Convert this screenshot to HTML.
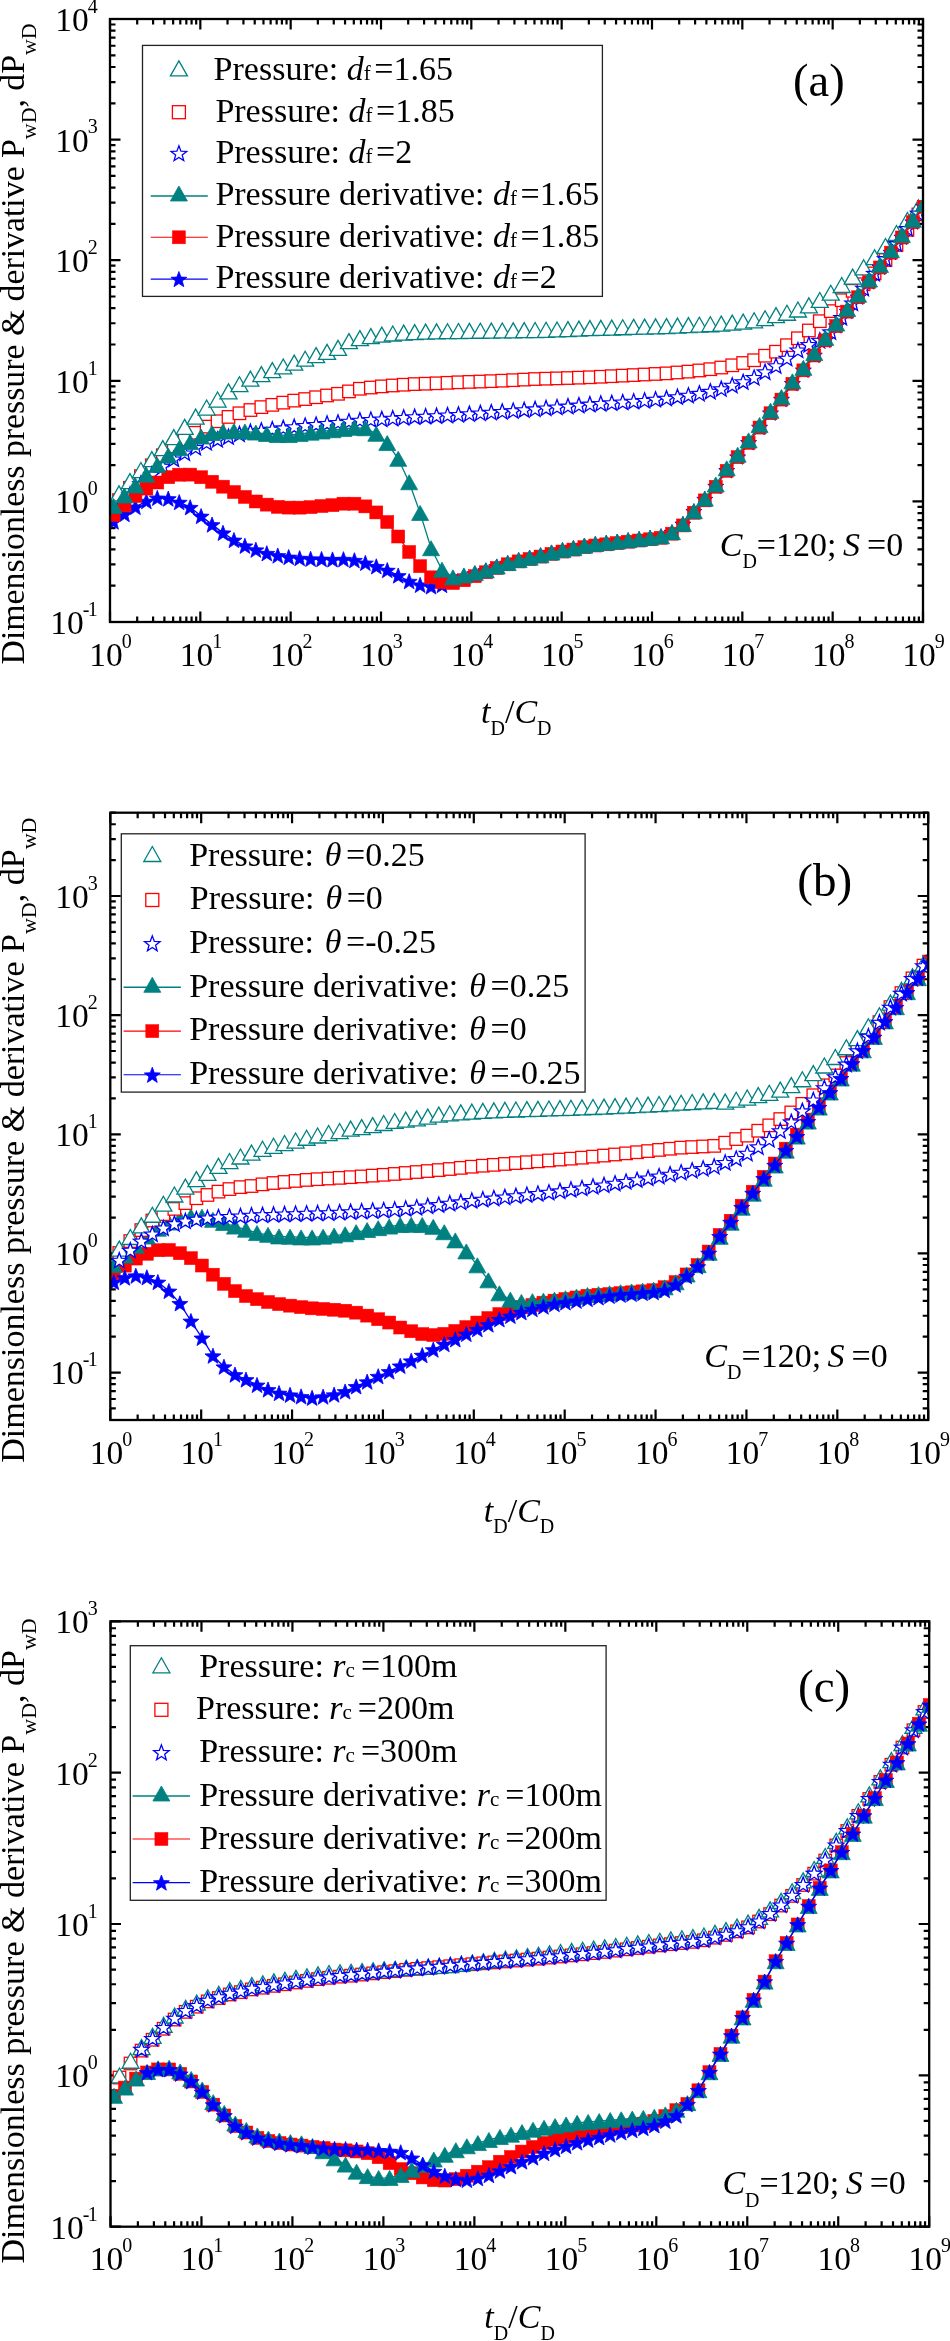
<!DOCTYPE html><html><head><meta charset="utf-8"><style>html,body{margin:0;padding:0;background:#fff;}svg{display:block;will-change:transform}</style></head><body><svg width="950" height="2341" viewBox="0 0 950 2341"><rect width="950" height="2341" fill="#fff"/><defs><clipPath id="ca"><rect x="110" y="19" width="813" height="603"/></clipPath><clipPath id="cb"><rect x="110.3" y="812.7" width="817.9" height="607.3"/></clipPath><clipPath id="cc"><rect x="110.5" y="1621.3" width="818.7" height="605.4"/></clipPath></defs><path d="M110 622v-10.5M110 19v10.5M137.19 622v-5.5M137.19 19v5.5M153.1 622v-5.5M153.1 19v5.5M164.39 622v-5.5M164.39 19v5.5M173.14 622v-5.5M173.14 19v5.5M180.29 622v-5.5M180.29 19v5.5M186.34 622v-5.5M186.34 19v5.5M191.58 622v-5.5M191.58 19v5.5M196.2 622v-5.5M196.2 19v5.5M200.33 622v-10.5M200.33 19v10.5M227.53 622v-5.5M227.53 19v5.5M243.43 622v-5.5M243.43 19v5.5M254.72 622v-5.5M254.72 19v5.5M263.47 622v-5.5M263.47 19v5.5M270.63 622v-5.5M270.63 19v5.5M276.67 622v-5.5M276.67 19v5.5M281.91 622v-5.5M281.91 19v5.5M286.53 622v-5.5M286.53 19v5.5M290.67 622v-10.5M290.67 19v10.5M317.86 622v-5.5M317.86 19v5.5M333.77 622v-5.5M333.77 19v5.5M345.05 622v-5.5M345.05 19v5.5M353.81 622v-5.5M353.81 19v5.5M360.96 622v-5.5M360.96 19v5.5M367.01 622v-5.5M367.01 19v5.5M372.25 622v-5.5M372.25 19v5.5M376.87 622v-5.5M376.87 19v5.5M381 622v-10.5M381 19v10.5M408.19 622v-5.5M408.19 19v5.5M424.1 622v-5.5M424.1 19v5.5M435.39 622v-5.5M435.39 19v5.5M444.14 622v-5.5M444.14 19v5.5M451.29 622v-5.5M451.29 19v5.5M457.34 622v-5.5M457.34 19v5.5M462.58 622v-5.5M462.58 19v5.5M467.2 622v-5.5M467.2 19v5.5M471.33 622v-10.5M471.33 19v10.5M498.53 622v-5.5M498.53 19v5.5M514.43 622v-5.5M514.43 19v5.5M525.72 622v-5.5M525.72 19v5.5M534.47 622v-5.5M534.47 19v5.5M541.63 622v-5.5M541.63 19v5.5M547.67 622v-5.5M547.67 19v5.5M552.91 622v-5.5M552.91 19v5.5M557.53 622v-5.5M557.53 19v5.5M561.67 622v-10.5M561.67 19v10.5M588.86 622v-5.5M588.86 19v5.5M604.77 622v-5.5M604.77 19v5.5M616.05 622v-5.5M616.05 19v5.5M624.81 622v-5.5M624.81 19v5.5M631.96 622v-5.5M631.96 19v5.5M638.01 622v-5.5M638.01 19v5.5M643.25 622v-5.5M643.25 19v5.5M647.87 622v-5.5M647.87 19v5.5M652 622v-10.5M652 19v10.5M679.19 622v-5.5M679.19 19v5.5M695.1 622v-5.5M695.1 19v5.5M706.39 622v-5.5M706.39 19v5.5M715.14 622v-5.5M715.14 19v5.5M722.29 622v-5.5M722.29 19v5.5M728.34 622v-5.5M728.34 19v5.5M733.58 622v-5.5M733.58 19v5.5M738.2 622v-5.5M738.2 19v5.5M742.33 622v-10.5M742.33 19v10.5M769.53 622v-5.5M769.53 19v5.5M785.43 622v-5.5M785.43 19v5.5M796.72 622v-5.5M796.72 19v5.5M805.47 622v-5.5M805.47 19v5.5M812.63 622v-5.5M812.63 19v5.5M818.67 622v-5.5M818.67 19v5.5M823.91 622v-5.5M823.91 19v5.5M828.53 622v-5.5M828.53 19v5.5M832.67 622v-10.5M832.67 19v10.5M859.86 622v-5.5M859.86 19v5.5M875.77 622v-5.5M875.77 19v5.5M887.05 622v-5.5M887.05 19v5.5M895.81 622v-5.5M895.81 19v5.5M902.96 622v-5.5M902.96 19v5.5M909.01 622v-5.5M909.01 19v5.5M914.25 622v-5.5M914.25 19v5.5M918.87 622v-5.5M918.87 19v5.5M923 622v-10.5M923 19v10.5M110 622h10.5M923 622h-10.5M110 585.7h5.5M923 585.7h-5.5M110 564.46h5.5M923 564.46h-5.5M110 549.39h5.5M923 549.39h-5.5M110 537.7h5.5M923 537.7h-5.5M110 528.15h5.5M923 528.15h-5.5M110 520.08h5.5M923 520.08h-5.5M110 513.09h5.5M923 513.09h-5.5M110 506.92h5.5M923 506.92h-5.5M110 501.4h10.5M923 501.4h-10.5M110 465.1h5.5M923 465.1h-5.5M110 443.86h5.5M923 443.86h-5.5M110 428.79h5.5M923 428.79h-5.5M110 417.1h5.5M923 417.1h-5.5M110 407.55h5.5M923 407.55h-5.5M110 399.48h5.5M923 399.48h-5.5M110 392.49h5.5M923 392.49h-5.5M110 386.32h5.5M923 386.32h-5.5M110 380.8h10.5M923 380.8h-10.5M110 344.5h5.5M923 344.5h-5.5M110 323.26h5.5M923 323.26h-5.5M110 308.19h5.5M923 308.19h-5.5M110 296.5h5.5M923 296.5h-5.5M110 286.95h5.5M923 286.95h-5.5M110 278.88h5.5M923 278.88h-5.5M110 271.89h5.5M923 271.89h-5.5M110 265.72h5.5M923 265.72h-5.5M110 260.2h10.5M923 260.2h-10.5M110 223.9h5.5M923 223.9h-5.5M110 202.66h5.5M923 202.66h-5.5M110 187.59h5.5M923 187.59h-5.5M110 175.9h5.5M923 175.9h-5.5M110 166.35h5.5M923 166.35h-5.5M110 158.28h5.5M923 158.28h-5.5M110 151.29h5.5M923 151.29h-5.5M110 145.12h5.5M923 145.12h-5.5M110 139.6h10.5M923 139.6h-10.5M110 103.3h5.5M923 103.3h-5.5M110 82.06h5.5M923 82.06h-5.5M110 66.99h5.5M923 66.99h-5.5M110 55.3h5.5M923 55.3h-5.5M110 45.75h5.5M923 45.75h-5.5M110 37.68h5.5M923 37.68h-5.5M110 30.69h5.5M923 30.69h-5.5M110 24.52h5.5M923 24.52h-5.5M110 19h10.5M923 19h-10.5" stroke="#000" stroke-width="2.2" fill="none"/><path d="M110.3 1420v-10.5M110.3 812.7v10.5M137.66 1420v-5.5M137.66 812.7v5.5M153.66 1420v-5.5M153.66 812.7v5.5M165.01 1420v-5.5M165.01 812.7v5.5M173.82 1420v-5.5M173.82 812.7v5.5M181.02 1420v-5.5M181.02 812.7v5.5M187.1 1420v-5.5M187.1 812.7v5.5M192.37 1420v-5.5M192.37 812.7v5.5M197.02 1420v-5.5M197.02 812.7v5.5M201.18 1420v-10.5M201.18 812.7v10.5M228.53 1420v-5.5M228.53 812.7v5.5M244.54 1420v-5.5M244.54 812.7v5.5M255.89 1420v-5.5M255.89 812.7v5.5M264.7 1420v-5.5M264.7 812.7v5.5M271.89 1420v-5.5M271.89 812.7v5.5M277.98 1420v-5.5M277.98 812.7v5.5M283.25 1420v-5.5M283.25 812.7v5.5M287.9 1420v-5.5M287.9 812.7v5.5M292.06 1420v-10.5M292.06 812.7v10.5M319.41 1420v-5.5M319.41 812.7v5.5M335.42 1420v-5.5M335.42 812.7v5.5M346.77 1420v-5.5M346.77 812.7v5.5M355.58 1420v-5.5M355.58 812.7v5.5M362.77 1420v-5.5M362.77 812.7v5.5M368.86 1420v-5.5M368.86 812.7v5.5M374.13 1420v-5.5M374.13 812.7v5.5M378.77 1420v-5.5M378.77 812.7v5.5M382.93 1420v-10.5M382.93 812.7v10.5M410.29 1420v-5.5M410.29 812.7v5.5M426.29 1420v-5.5M426.29 812.7v5.5M437.65 1420v-5.5M437.65 812.7v5.5M446.45 1420v-5.5M446.45 812.7v5.5M453.65 1420v-5.5M453.65 812.7v5.5M459.73 1420v-5.5M459.73 812.7v5.5M465 1420v-5.5M465 812.7v5.5M469.65 1420v-5.5M469.65 812.7v5.5M473.81 1420v-10.5M473.81 812.7v10.5M501.17 1420v-5.5M501.17 812.7v5.5M517.17 1420v-5.5M517.17 812.7v5.5M528.52 1420v-5.5M528.52 812.7v5.5M537.33 1420v-5.5M537.33 812.7v5.5M544.53 1420v-5.5M544.53 812.7v5.5M550.61 1420v-5.5M550.61 812.7v5.5M555.88 1420v-5.5M555.88 812.7v5.5M560.53 1420v-5.5M560.53 812.7v5.5M564.69 1420v-10.5M564.69 812.7v10.5M592.05 1420v-5.5M592.05 812.7v5.5M608.05 1420v-5.5M608.05 812.7v5.5M619.4 1420v-5.5M619.4 812.7v5.5M628.21 1420v-5.5M628.21 812.7v5.5M635.41 1420v-5.5M635.41 812.7v5.5M641.49 1420v-5.5M641.49 812.7v5.5M646.76 1420v-5.5M646.76 812.7v5.5M651.41 1420v-5.5M651.41 812.7v5.5M655.57 1420v-10.5M655.57 812.7v10.5M682.92 1420v-5.5M682.92 812.7v5.5M698.93 1420v-5.5M698.93 812.7v5.5M710.28 1420v-5.5M710.28 812.7v5.5M719.09 1420v-5.5M719.09 812.7v5.5M726.28 1420v-5.5M726.28 812.7v5.5M732.37 1420v-5.5M732.37 812.7v5.5M737.64 1420v-5.5M737.64 812.7v5.5M742.29 1420v-5.5M742.29 812.7v5.5M746.44 1420v-10.5M746.44 812.7v10.5M773.8 1420v-5.5M773.8 812.7v5.5M789.8 1420v-5.5M789.8 812.7v5.5M801.16 1420v-5.5M801.16 812.7v5.5M809.97 1420v-5.5M809.97 812.7v5.5M817.16 1420v-5.5M817.16 812.7v5.5M823.25 1420v-5.5M823.25 812.7v5.5M828.52 1420v-5.5M828.52 812.7v5.5M833.16 1420v-5.5M833.16 812.7v5.5M837.32 1420v-10.5M837.32 812.7v10.5M864.68 1420v-5.5M864.68 812.7v5.5M880.68 1420v-5.5M880.68 812.7v5.5M892.04 1420v-5.5M892.04 812.7v5.5M900.84 1420v-5.5M900.84 812.7v5.5M908.04 1420v-5.5M908.04 812.7v5.5M914.12 1420v-5.5M914.12 812.7v5.5M919.39 1420v-5.5M919.39 812.7v5.5M924.04 1420v-5.5M924.04 812.7v5.5M928.2 1420v-10.5M928.2 812.7v10.5M110.3 1420h5.5M928.2 1420h-5.5M110.3 1408.45h5.5M928.2 1408.45h-5.5M110.3 1399.02h5.5M928.2 1399.02h-5.5M110.3 1391.04h5.5M928.2 1391.04h-5.5M110.3 1384.13h5.5M928.2 1384.13h-5.5M110.3 1378.04h5.5M928.2 1378.04h-5.5M110.3 1372.59h10.5M928.2 1372.59h-10.5M110.3 1336.72h5.5M928.2 1336.72h-5.5M110.3 1315.74h5.5M928.2 1315.74h-5.5M110.3 1300.85h5.5M928.2 1300.85h-5.5M110.3 1289.3h5.5M928.2 1289.3h-5.5M110.3 1279.87h5.5M928.2 1279.87h-5.5M110.3 1271.89h5.5M928.2 1271.89h-5.5M110.3 1264.98h5.5M928.2 1264.98h-5.5M110.3 1258.89h5.5M928.2 1258.89h-5.5M110.3 1253.43h10.5M928.2 1253.43h-10.5M110.3 1217.57h5.5M928.2 1217.57h-5.5M110.3 1196.59h5.5M928.2 1196.59h-5.5M110.3 1181.7h5.5M928.2 1181.7h-5.5M110.3 1170.15h5.5M928.2 1170.15h-5.5M110.3 1160.72h5.5M928.2 1160.72h-5.5M110.3 1152.74h5.5M928.2 1152.74h-5.5M110.3 1145.83h5.5M928.2 1145.83h-5.5M110.3 1139.74h5.5M928.2 1139.74h-5.5M110.3 1134.28h10.5M928.2 1134.28h-10.5M110.3 1098.42h5.5M928.2 1098.42h-5.5M110.3 1077.43h5.5M928.2 1077.43h-5.5M110.3 1062.55h5.5M928.2 1062.55h-5.5M110.3 1051h5.5M928.2 1051h-5.5M110.3 1041.57h5.5M928.2 1041.57h-5.5M110.3 1033.59h5.5M928.2 1033.59h-5.5M110.3 1026.68h5.5M928.2 1026.68h-5.5M110.3 1020.59h5.5M928.2 1020.59h-5.5M110.3 1015.13h10.5M928.2 1015.13h-10.5M110.3 979.27h5.5M928.2 979.27h-5.5M110.3 958.28h5.5M928.2 958.28h-5.5M110.3 943.4h5.5M928.2 943.4h-5.5M110.3 931.85h5.5M928.2 931.85h-5.5M110.3 922.42h5.5M928.2 922.42h-5.5M110.3 914.44h5.5M928.2 914.44h-5.5M110.3 907.53h5.5M928.2 907.53h-5.5M110.3 901.43h5.5M928.2 901.43h-5.5M110.3 895.98h10.5M928.2 895.98h-10.5M110.3 860.11h5.5M928.2 860.11h-5.5M110.3 839.13h5.5M928.2 839.13h-5.5M110.3 824.25h5.5M928.2 824.25h-5.5M110.3 812.7h5.5M928.2 812.7h-5.5" stroke="#000" stroke-width="2.2" fill="none"/><path d="M110.5 2226.7v-10.5M110.5 1621.3v10.5M137.88 2226.7v-5.5M137.88 1621.3v5.5M153.9 2226.7v-5.5M153.9 1621.3v5.5M165.27 2226.7v-5.5M165.27 1621.3v5.5M174.08 2226.7v-5.5M174.08 1621.3v5.5M181.29 2226.7v-5.5M181.29 1621.3v5.5M187.38 2226.7v-5.5M187.38 1621.3v5.5M192.65 2226.7v-5.5M192.65 1621.3v5.5M197.3 2226.7v-5.5M197.3 1621.3v5.5M201.47 2226.7v-10.5M201.47 1621.3v10.5M228.85 2226.7v-5.5M228.85 1621.3v5.5M244.87 2226.7v-5.5M244.87 1621.3v5.5M256.23 2226.7v-5.5M256.23 1621.3v5.5M265.05 2226.7v-5.5M265.05 1621.3v5.5M272.25 2226.7v-5.5M272.25 1621.3v5.5M278.34 2226.7v-5.5M278.34 1621.3v5.5M283.62 2226.7v-5.5M283.62 1621.3v5.5M288.27 2226.7v-5.5M288.27 1621.3v5.5M292.43 2226.7v-10.5M292.43 1621.3v10.5M319.82 2226.7v-5.5M319.82 1621.3v5.5M335.84 2226.7v-5.5M335.84 1621.3v5.5M347.2 2226.7v-5.5M347.2 1621.3v5.5M356.02 2226.7v-5.5M356.02 1621.3v5.5M363.22 2226.7v-5.5M363.22 1621.3v5.5M369.31 2226.7v-5.5M369.31 1621.3v5.5M374.58 2226.7v-5.5M374.58 1621.3v5.5M379.24 2226.7v-5.5M379.24 1621.3v5.5M383.4 2226.7v-10.5M383.4 1621.3v10.5M410.78 2226.7v-5.5M410.78 1621.3v5.5M426.8 2226.7v-5.5M426.8 1621.3v5.5M438.17 2226.7v-5.5M438.17 1621.3v5.5M446.98 2226.7v-5.5M446.98 1621.3v5.5M454.19 2226.7v-5.5M454.19 1621.3v5.5M460.28 2226.7v-5.5M460.28 1621.3v5.5M465.55 2226.7v-5.5M465.55 1621.3v5.5M470.2 2226.7v-5.5M470.2 1621.3v5.5M474.37 2226.7v-10.5M474.37 1621.3v10.5M501.75 2226.7v-5.5M501.75 1621.3v5.5M517.77 2226.7v-5.5M517.77 1621.3v5.5M529.13 2226.7v-5.5M529.13 1621.3v5.5M537.95 2226.7v-5.5M537.95 1621.3v5.5M545.15 2226.7v-5.5M545.15 1621.3v5.5M551.24 2226.7v-5.5M551.24 1621.3v5.5M556.52 2226.7v-5.5M556.52 1621.3v5.5M561.17 2226.7v-5.5M561.17 1621.3v5.5M565.33 2226.7v-10.5M565.33 1621.3v10.5M592.72 2226.7v-5.5M592.72 1621.3v5.5M608.74 2226.7v-5.5M608.74 1621.3v5.5M620.1 2226.7v-5.5M620.1 1621.3v5.5M628.92 2226.7v-5.5M628.92 1621.3v5.5M636.12 2226.7v-5.5M636.12 1621.3v5.5M642.21 2226.7v-5.5M642.21 1621.3v5.5M647.48 2226.7v-5.5M647.48 1621.3v5.5M652.14 2226.7v-5.5M652.14 1621.3v5.5M656.3 2226.7v-10.5M656.3 1621.3v10.5M683.68 2226.7v-5.5M683.68 1621.3v5.5M699.7 2226.7v-5.5M699.7 1621.3v5.5M711.07 2226.7v-5.5M711.07 1621.3v5.5M719.88 2226.7v-5.5M719.88 1621.3v5.5M727.09 2226.7v-5.5M727.09 1621.3v5.5M733.18 2226.7v-5.5M733.18 1621.3v5.5M738.45 2226.7v-5.5M738.45 1621.3v5.5M743.1 2226.7v-5.5M743.1 1621.3v5.5M747.27 2226.7v-10.5M747.27 1621.3v10.5M774.65 2226.7v-5.5M774.65 1621.3v5.5M790.67 2226.7v-5.5M790.67 1621.3v5.5M802.03 2226.7v-5.5M802.03 1621.3v5.5M810.85 2226.7v-5.5M810.85 1621.3v5.5M818.05 2226.7v-5.5M818.05 1621.3v5.5M824.14 2226.7v-5.5M824.14 1621.3v5.5M829.42 2226.7v-5.5M829.42 1621.3v5.5M834.07 2226.7v-5.5M834.07 1621.3v5.5M838.23 2226.7v-10.5M838.23 1621.3v10.5M865.62 2226.7v-5.5M865.62 1621.3v5.5M881.64 2226.7v-5.5M881.64 1621.3v5.5M893 2226.7v-5.5M893 1621.3v5.5M901.82 2226.7v-5.5M901.82 1621.3v5.5M909.02 2226.7v-5.5M909.02 1621.3v5.5M915.11 2226.7v-5.5M915.11 1621.3v5.5M920.38 2226.7v-5.5M920.38 1621.3v5.5M925.04 2226.7v-5.5M925.04 1621.3v5.5M929.2 2226.7v-10.5M929.2 1621.3v10.5M110.5 2226.7h10.5M929.2 2226.7h-10.5M110.5 2181.14h5.5M929.2 2181.14h-5.5M110.5 2154.49h5.5M929.2 2154.49h-5.5M110.5 2135.58h5.5M929.2 2135.58h-5.5M110.5 2120.91h5.5M929.2 2120.91h-5.5M110.5 2108.93h5.5M929.2 2108.93h-5.5M110.5 2098.79h5.5M929.2 2098.79h-5.5M110.5 2090.02h5.5M929.2 2090.02h-5.5M110.5 2082.28h5.5M929.2 2082.28h-5.5M110.5 2075.35h10.5M929.2 2075.35h-10.5M110.5 2029.79h5.5M929.2 2029.79h-5.5M110.5 2003.14h5.5M929.2 2003.14h-5.5M110.5 1984.23h5.5M929.2 1984.23h-5.5M110.5 1969.56h5.5M929.2 1969.56h-5.5M110.5 1957.58h5.5M929.2 1957.58h-5.5M110.5 1947.44h5.5M929.2 1947.44h-5.5M110.5 1938.67h5.5M929.2 1938.67h-5.5M110.5 1930.93h5.5M929.2 1930.93h-5.5M110.5 1924h10.5M929.2 1924h-10.5M110.5 1878.44h5.5M929.2 1878.44h-5.5M110.5 1851.79h5.5M929.2 1851.79h-5.5M110.5 1832.88h5.5M929.2 1832.88h-5.5M110.5 1818.21h5.5M929.2 1818.21h-5.5M110.5 1806.23h5.5M929.2 1806.23h-5.5M110.5 1796.09h5.5M929.2 1796.09h-5.5M110.5 1787.32h5.5M929.2 1787.32h-5.5M110.5 1779.58h5.5M929.2 1779.58h-5.5M110.5 1772.65h10.5M929.2 1772.65h-10.5M110.5 1727.09h5.5M929.2 1727.09h-5.5M110.5 1700.44h5.5M929.2 1700.44h-5.5M110.5 1681.53h5.5M929.2 1681.53h-5.5M110.5 1666.86h5.5M929.2 1666.86h-5.5M110.5 1654.88h5.5M929.2 1654.88h-5.5M110.5 1644.74h5.5M929.2 1644.74h-5.5M110.5 1635.97h5.5M929.2 1635.97h-5.5M110.5 1628.23h5.5M929.2 1628.23h-5.5M110.5 1621.3h10.5M929.2 1621.3h-10.5" stroke="#000" stroke-width="2.2" fill="none"/><g clip-path="url(#ca)"><rect x="112.75" y="493.87" width="12.5" height="12.5" fill="#fff" stroke="#ff0000" stroke-width="1.3"/><rect x="123.7" y="481.54" width="12.5" height="12.5" fill="#fff" stroke="#ff0000" stroke-width="1.3"/><rect x="134.65" y="469.92" width="12.5" height="12.5" fill="#fff" stroke="#ff0000" stroke-width="1.3"/><rect x="145.6" y="459.01" width="12.5" height="12.5" fill="#fff" stroke="#ff0000" stroke-width="1.3"/><rect x="156.55" y="449.01" width="12.5" height="12.5" fill="#fff" stroke="#ff0000" stroke-width="1.3"/><rect x="167.5" y="440.44" width="12.5" height="12.5" fill="#fff" stroke="#ff0000" stroke-width="1.3"/><rect x="178.45" y="433.08" width="12.5" height="12.5" fill="#fff" stroke="#ff0000" stroke-width="1.3"/><rect x="189.4" y="426.53" width="12.5" height="12.5" fill="#fff" stroke="#ff0000" stroke-width="1.3"/><rect x="200.35" y="420.35" width="12.5" height="12.5" fill="#fff" stroke="#ff0000" stroke-width="1.3"/><rect x="211.3" y="415.02" width="12.5" height="12.5" fill="#fff" stroke="#ff0000" stroke-width="1.3"/><rect x="222.25" y="410.68" width="12.5" height="12.5" fill="#fff" stroke="#ff0000" stroke-width="1.3"/><rect x="233.2" y="407.03" width="12.5" height="12.5" fill="#fff" stroke="#ff0000" stroke-width="1.3"/><rect x="244.15" y="403.79" width="12.5" height="12.5" fill="#fff" stroke="#ff0000" stroke-width="1.3"/><rect x="255.1" y="400.87" width="12.5" height="12.5" fill="#fff" stroke="#ff0000" stroke-width="1.3"/><rect x="266.05" y="398.6" width="12.5" height="12.5" fill="#fff" stroke="#ff0000" stroke-width="1.3"/><rect x="277" y="396.39" width="12.5" height="12.5" fill="#fff" stroke="#ff0000" stroke-width="1.3"/><rect x="287.95" y="394.36" width="12.5" height="12.5" fill="#fff" stroke="#ff0000" stroke-width="1.3"/><rect x="298.9" y="392.82" width="12.5" height="12.5" fill="#fff" stroke="#ff0000" stroke-width="1.3"/><rect x="309.85" y="390.99" width="12.5" height="12.5" fill="#fff" stroke="#ff0000" stroke-width="1.3"/><rect x="320.8" y="389.23" width="12.5" height="12.5" fill="#fff" stroke="#ff0000" stroke-width="1.3"/><rect x="331.75" y="387.54" width="12.5" height="12.5" fill="#fff" stroke="#ff0000" stroke-width="1.3"/><rect x="342.7" y="385.15" width="12.5" height="12.5" fill="#fff" stroke="#ff0000" stroke-width="1.3"/><rect x="353.65" y="382.5" width="12.5" height="12.5" fill="#fff" stroke="#ff0000" stroke-width="1.3"/><rect x="364.6" y="381.28" width="12.5" height="12.5" fill="#fff" stroke="#ff0000" stroke-width="1.3"/><rect x="375.55" y="380.13" width="12.5" height="12.5" fill="#fff" stroke="#ff0000" stroke-width="1.3"/><rect x="386.51" y="379.23" width="12.5" height="12.5" fill="#fff" stroke="#ff0000" stroke-width="1.3"/><rect x="397.46" y="378.47" width="12.5" height="12.5" fill="#fff" stroke="#ff0000" stroke-width="1.3"/><rect x="408.41" y="377.84" width="12.5" height="12.5" fill="#fff" stroke="#ff0000" stroke-width="1.3"/><rect x="419.36" y="377.45" width="12.5" height="12.5" fill="#fff" stroke="#ff0000" stroke-width="1.3"/><rect x="430.31" y="377.06" width="12.5" height="12.5" fill="#fff" stroke="#ff0000" stroke-width="1.3"/><rect x="441.26" y="376.55" width="12.5" height="12.5" fill="#fff" stroke="#ff0000" stroke-width="1.3"/><rect x="452.21" y="376.05" width="12.5" height="12.5" fill="#fff" stroke="#ff0000" stroke-width="1.3"/><rect x="463.16" y="375.66" width="12.5" height="12.5" fill="#fff" stroke="#ff0000" stroke-width="1.3"/><rect x="474.11" y="375.3" width="12.5" height="12.5" fill="#fff" stroke="#ff0000" stroke-width="1.3"/><rect x="485.06" y="374.9" width="12.5" height="12.5" fill="#fff" stroke="#ff0000" stroke-width="1.3"/><rect x="496.01" y="374.42" width="12.5" height="12.5" fill="#fff" stroke="#ff0000" stroke-width="1.3"/><rect x="506.96" y="373.93" width="12.5" height="12.5" fill="#fff" stroke="#ff0000" stroke-width="1.3"/><rect x="517.91" y="373.35" width="12.5" height="12.5" fill="#fff" stroke="#ff0000" stroke-width="1.3"/><rect x="528.86" y="372.78" width="12.5" height="12.5" fill="#fff" stroke="#ff0000" stroke-width="1.3"/><rect x="539.81" y="372.43" width="12.5" height="12.5" fill="#fff" stroke="#ff0000" stroke-width="1.3"/><rect x="550.76" y="372.13" width="12.5" height="12.5" fill="#fff" stroke="#ff0000" stroke-width="1.3"/><rect x="561.71" y="371.8" width="12.5" height="12.5" fill="#fff" stroke="#ff0000" stroke-width="1.3"/><rect x="572.66" y="371.41" width="12.5" height="12.5" fill="#fff" stroke="#ff0000" stroke-width="1.3"/><rect x="583.61" y="371.03" width="12.5" height="12.5" fill="#fff" stroke="#ff0000" stroke-width="1.3"/><rect x="594.56" y="370.49" width="12.5" height="12.5" fill="#fff" stroke="#ff0000" stroke-width="1.3"/><rect x="605.51" y="369.94" width="12.5" height="12.5" fill="#fff" stroke="#ff0000" stroke-width="1.3"/><rect x="616.46" y="369.38" width="12.5" height="12.5" fill="#fff" stroke="#ff0000" stroke-width="1.3"/><rect x="627.41" y="368.83" width="12.5" height="12.5" fill="#fff" stroke="#ff0000" stroke-width="1.3"/><rect x="638.36" y="368.27" width="12.5" height="12.5" fill="#fff" stroke="#ff0000" stroke-width="1.3"/><rect x="649.31" y="367.7" width="12.5" height="12.5" fill="#fff" stroke="#ff0000" stroke-width="1.3"/><rect x="660.26" y="367.12" width="12.5" height="12.5" fill="#fff" stroke="#ff0000" stroke-width="1.3"/><rect x="671.21" y="366.24" width="12.5" height="12.5" fill="#fff" stroke="#ff0000" stroke-width="1.3"/><rect x="682.16" y="365.35" width="12.5" height="12.5" fill="#fff" stroke="#ff0000" stroke-width="1.3"/><rect x="693.11" y="364.2" width="12.5" height="12.5" fill="#fff" stroke="#ff0000" stroke-width="1.3"/><rect x="704.06" y="362.94" width="12.5" height="12.5" fill="#fff" stroke="#ff0000" stroke-width="1.3"/><rect x="715.01" y="361.27" width="12.5" height="12.5" fill="#fff" stroke="#ff0000" stroke-width="1.3"/><rect x="725.96" y="359.04" width="12.5" height="12.5" fill="#fff" stroke="#ff0000" stroke-width="1.3"/><rect x="736.91" y="356.76" width="12.5" height="12.5" fill="#fff" stroke="#ff0000" stroke-width="1.3"/><rect x="747.86" y="353.98" width="12.5" height="12.5" fill="#fff" stroke="#ff0000" stroke-width="1.3"/><rect x="758.81" y="349.47" width="12.5" height="12.5" fill="#fff" stroke="#ff0000" stroke-width="1.3"/><rect x="769.76" y="345.47" width="12.5" height="12.5" fill="#fff" stroke="#ff0000" stroke-width="1.3"/><rect x="780.71" y="338.97" width="12.5" height="12.5" fill="#fff" stroke="#ff0000" stroke-width="1.3"/><rect x="791.66" y="332.02" width="12.5" height="12.5" fill="#fff" stroke="#ff0000" stroke-width="1.3"/><rect x="802.61" y="324.23" width="12.5" height="12.5" fill="#fff" stroke="#ff0000" stroke-width="1.3"/><rect x="813.56" y="314.95" width="12.5" height="12.5" fill="#fff" stroke="#ff0000" stroke-width="1.3"/><rect x="824.51" y="304.88" width="12.5" height="12.5" fill="#fff" stroke="#ff0000" stroke-width="1.3"/><rect x="835.46" y="293.95" width="12.5" height="12.5" fill="#fff" stroke="#ff0000" stroke-width="1.3"/><rect x="846.41" y="284.53" width="12.5" height="12.5" fill="#fff" stroke="#ff0000" stroke-width="1.3"/><rect x="857.36" y="278" width="12.5" height="12.5" fill="#fff" stroke="#ff0000" stroke-width="1.3"/><rect x="868.31" y="267.16" width="12.5" height="12.5" fill="#fff" stroke="#ff0000" stroke-width="1.3"/><rect x="879.26" y="253.78" width="12.5" height="12.5" fill="#fff" stroke="#ff0000" stroke-width="1.3"/><rect x="890.21" y="238.76" width="12.5" height="12.5" fill="#fff" stroke="#ff0000" stroke-width="1.3"/><rect x="901.16" y="223.56" width="12.5" height="12.5" fill="#fff" stroke="#ff0000" stroke-width="1.3"/><rect x="912.12" y="208.2" width="12.5" height="12.5" fill="#fff" stroke="#ff0000" stroke-width="1.3"/><rect x="923.07" y="200.25" width="12.5" height="12.5" fill="#fff" stroke="#ff0000" stroke-width="1.3"/></g><g clip-path="url(#ca)"><path d="M119 485.9L127.5 500.9L110.5 500.9Z" fill="#fff" stroke="#008080" stroke-width="1.3" stroke-linejoin="miter"/><path d="M129.95 473.69L138.45 488.69L121.45 488.69Z" fill="#fff" stroke="#008080" stroke-width="1.3" stroke-linejoin="miter"/><path d="M140.9 462.53L149.4 477.53L132.4 477.53Z" fill="#fff" stroke="#008080" stroke-width="1.3" stroke-linejoin="miter"/><path d="M151.85 451.58L160.35 466.58L143.35 466.58Z" fill="#fff" stroke="#008080" stroke-width="1.3" stroke-linejoin="miter"/><path d="M162.8 440.66L171.3 455.66L154.3 455.66Z" fill="#fff" stroke="#008080" stroke-width="1.3" stroke-linejoin="miter"/><path d="M173.75 429.65L182.25 444.65L165.25 444.65Z" fill="#fff" stroke="#008080" stroke-width="1.3" stroke-linejoin="miter"/><path d="M184.7 419.37L193.2 434.37L176.2 434.37Z" fill="#fff" stroke="#008080" stroke-width="1.3" stroke-linejoin="miter"/><path d="M195.65 409.19L204.15 424.19L187.15 424.19Z" fill="#fff" stroke="#008080" stroke-width="1.3" stroke-linejoin="miter"/><path d="M206.6 400.04L215.1 415.04L198.1 415.04Z" fill="#fff" stroke="#008080" stroke-width="1.3" stroke-linejoin="miter"/><path d="M217.55 392.03L226.05 407.03L209.05 407.03Z" fill="#fff" stroke="#008080" stroke-width="1.3" stroke-linejoin="miter"/><path d="M228.5 383.82L237 398.82L220 398.82Z" fill="#fff" stroke="#008080" stroke-width="1.3" stroke-linejoin="miter"/><path d="M239.45 376.71L247.95 391.71L230.95 391.71Z" fill="#fff" stroke="#008080" stroke-width="1.3" stroke-linejoin="miter"/><path d="M250.4 371.18L258.9 386.18L241.9 386.18Z" fill="#fff" stroke="#008080" stroke-width="1.3" stroke-linejoin="miter"/><path d="M261.35 366.59L269.85 381.59L252.85 381.59Z" fill="#fff" stroke="#008080" stroke-width="1.3" stroke-linejoin="miter"/><path d="M272.3 362.63L280.8 377.63L263.8 377.63Z" fill="#fff" stroke="#008080" stroke-width="1.3" stroke-linejoin="miter"/><path d="M283.25 358.97L291.75 373.97L274.75 373.97Z" fill="#fff" stroke="#008080" stroke-width="1.3" stroke-linejoin="miter"/><path d="M294.2 355.09L302.7 370.09L285.7 370.09Z" fill="#fff" stroke="#008080" stroke-width="1.3" stroke-linejoin="miter"/><path d="M305.15 351.22L313.65 366.22L296.65 366.22Z" fill="#fff" stroke="#008080" stroke-width="1.3" stroke-linejoin="miter"/><path d="M316.1 347.68L324.6 362.68L307.6 362.68Z" fill="#fff" stroke="#008080" stroke-width="1.3" stroke-linejoin="miter"/><path d="M327.05 344.44L335.55 359.44L318.55 359.44Z" fill="#fff" stroke="#008080" stroke-width="1.3" stroke-linejoin="miter"/><path d="M338 340.32L346.5 355.32L329.5 355.32Z" fill="#fff" stroke="#008080" stroke-width="1.3" stroke-linejoin="miter"/><path d="M348.95 333.65L357.45 348.65L340.45 348.65Z" fill="#fff" stroke="#008080" stroke-width="1.3" stroke-linejoin="miter"/><path d="M359.9 330.65L368.4 345.65L351.4 345.65Z" fill="#fff" stroke="#008080" stroke-width="1.3" stroke-linejoin="miter"/><path d="M370.85 328.69L379.35 343.69L362.35 343.69Z" fill="#fff" stroke="#008080" stroke-width="1.3" stroke-linejoin="miter"/><path d="M381.8 327.09L390.3 342.09L373.3 342.09Z" fill="#fff" stroke="#008080" stroke-width="1.3" stroke-linejoin="miter"/><path d="M392.76 326.02L401.26 341.02L384.26 341.02Z" fill="#fff" stroke="#008080" stroke-width="1.3" stroke-linejoin="miter"/><path d="M403.71 325.11L412.21 340.11L395.21 340.11Z" fill="#fff" stroke="#008080" stroke-width="1.3" stroke-linejoin="miter"/><path d="M414.66 324.57L423.16 339.57L406.16 339.57Z" fill="#fff" stroke="#008080" stroke-width="1.3" stroke-linejoin="miter"/><path d="M425.61 324.08L434.11 339.08L417.11 339.08Z" fill="#fff" stroke="#008080" stroke-width="1.3" stroke-linejoin="miter"/><path d="M436.56 323.89L445.06 338.89L428.06 338.89Z" fill="#fff" stroke="#008080" stroke-width="1.3" stroke-linejoin="miter"/><path d="M447.51 323.72L456.01 338.72L439.01 338.72Z" fill="#fff" stroke="#008080" stroke-width="1.3" stroke-linejoin="miter"/><path d="M458.46 323.54L466.96 338.54L449.96 338.54Z" fill="#fff" stroke="#008080" stroke-width="1.3" stroke-linejoin="miter"/><path d="M469.41 323.39L477.91 338.39L460.91 338.39Z" fill="#fff" stroke="#008080" stroke-width="1.3" stroke-linejoin="miter"/><path d="M480.36 323.25L488.86 338.25L471.86 338.25Z" fill="#fff" stroke="#008080" stroke-width="1.3" stroke-linejoin="miter"/><path d="M491.31 323.11L499.81 338.11L482.81 338.11Z" fill="#fff" stroke="#008080" stroke-width="1.3" stroke-linejoin="miter"/><path d="M502.26 322.97L510.76 337.97L493.76 337.97Z" fill="#fff" stroke="#008080" stroke-width="1.3" stroke-linejoin="miter"/><path d="M513.21 322.83L521.71 337.83L504.71 337.83Z" fill="#fff" stroke="#008080" stroke-width="1.3" stroke-linejoin="miter"/><path d="M524.16 322.68L532.66 337.68L515.66 337.68Z" fill="#fff" stroke="#008080" stroke-width="1.3" stroke-linejoin="miter"/><path d="M535.11 322.54L543.61 337.54L526.61 337.54Z" fill="#fff" stroke="#008080" stroke-width="1.3" stroke-linejoin="miter"/><path d="M546.06 322.29L554.56 337.29L537.56 337.29Z" fill="#fff" stroke="#008080" stroke-width="1.3" stroke-linejoin="miter"/><path d="M557.01 321.97L565.51 336.97L548.51 336.97Z" fill="#fff" stroke="#008080" stroke-width="1.3" stroke-linejoin="miter"/><path d="M567.96 321.6L576.46 336.6L559.46 336.6Z" fill="#fff" stroke="#008080" stroke-width="1.3" stroke-linejoin="miter"/><path d="M578.91 321.11L587.41 336.11L570.41 336.11Z" fill="#fff" stroke="#008080" stroke-width="1.3" stroke-linejoin="miter"/><path d="M589.86 320.62L598.36 335.62L581.36 335.62Z" fill="#fff" stroke="#008080" stroke-width="1.3" stroke-linejoin="miter"/><path d="M600.81 320.33L609.31 335.33L592.31 335.33Z" fill="#fff" stroke="#008080" stroke-width="1.3" stroke-linejoin="miter"/><path d="M611.76 320.06L620.26 335.06L603.26 335.06Z" fill="#fff" stroke="#008080" stroke-width="1.3" stroke-linejoin="miter"/><path d="M622.71 319.76L631.21 334.76L614.21 334.76Z" fill="#fff" stroke="#008080" stroke-width="1.3" stroke-linejoin="miter"/><path d="M633.66 319.44L642.16 334.44L625.16 334.44Z" fill="#fff" stroke="#008080" stroke-width="1.3" stroke-linejoin="miter"/><path d="M644.61 319.14L653.11 334.14L636.11 334.14Z" fill="#fff" stroke="#008080" stroke-width="1.3" stroke-linejoin="miter"/><path d="M655.56 318.87L664.06 333.87L647.06 333.87Z" fill="#fff" stroke="#008080" stroke-width="1.3" stroke-linejoin="miter"/><path d="M666.51 318.6L675.01 333.6L658.01 333.6Z" fill="#fff" stroke="#008080" stroke-width="1.3" stroke-linejoin="miter"/><path d="M677.46 318.13L685.96 333.13L668.96 333.13Z" fill="#fff" stroke="#008080" stroke-width="1.3" stroke-linejoin="miter"/><path d="M688.41 317.67L696.91 332.67L679.91 332.67Z" fill="#fff" stroke="#008080" stroke-width="1.3" stroke-linejoin="miter"/><path d="M699.36 317.21L707.86 332.21L690.86 332.21Z" fill="#fff" stroke="#008080" stroke-width="1.3" stroke-linejoin="miter"/><path d="M710.31 316.76L718.81 331.76L701.81 331.76Z" fill="#fff" stroke="#008080" stroke-width="1.3" stroke-linejoin="miter"/><path d="M721.26 316.1L729.76 331.1L712.76 331.1Z" fill="#fff" stroke="#008080" stroke-width="1.3" stroke-linejoin="miter"/><path d="M732.21 315.17L740.71 330.17L723.71 330.17Z" fill="#fff" stroke="#008080" stroke-width="1.3" stroke-linejoin="miter"/><path d="M743.16 314.18L751.66 329.18L734.66 329.18Z" fill="#fff" stroke="#008080" stroke-width="1.3" stroke-linejoin="miter"/><path d="M754.11 312.8L762.61 327.8L745.61 327.8Z" fill="#fff" stroke="#008080" stroke-width="1.3" stroke-linejoin="miter"/><path d="M765.06 310.71L773.56 325.71L756.56 325.71Z" fill="#fff" stroke="#008080" stroke-width="1.3" stroke-linejoin="miter"/><path d="M776.01 307.59L784.51 322.59L767.51 322.59Z" fill="#fff" stroke="#008080" stroke-width="1.3" stroke-linejoin="miter"/><path d="M786.96 305.26L795.46 320.26L778.46 320.26Z" fill="#fff" stroke="#008080" stroke-width="1.3" stroke-linejoin="miter"/><path d="M797.91 302.01L806.41 317.01L789.41 317.01Z" fill="#fff" stroke="#008080" stroke-width="1.3" stroke-linejoin="miter"/><path d="M808.86 297.81L817.36 312.81L800.36 312.81Z" fill="#fff" stroke="#008080" stroke-width="1.3" stroke-linejoin="miter"/><path d="M819.81 292.46L828.31 307.46L811.31 307.46Z" fill="#fff" stroke="#008080" stroke-width="1.3" stroke-linejoin="miter"/><path d="M830.76 285.2L839.26 300.2L822.26 300.2Z" fill="#fff" stroke="#008080" stroke-width="1.3" stroke-linejoin="miter"/><path d="M841.71 277.52L850.21 292.52L833.21 292.52Z" fill="#fff" stroke="#008080" stroke-width="1.3" stroke-linejoin="miter"/><path d="M852.66 269.08L861.16 284.08L844.16 284.08Z" fill="#fff" stroke="#008080" stroke-width="1.3" stroke-linejoin="miter"/><path d="M863.61 259.8L872.11 274.8L855.11 274.8Z" fill="#fff" stroke="#008080" stroke-width="1.3" stroke-linejoin="miter"/><path d="M874.56 249.72L883.06 264.72L866.06 264.72Z" fill="#fff" stroke="#008080" stroke-width="1.3" stroke-linejoin="miter"/><path d="M885.51 238.46L894.01 253.46L877.01 253.46Z" fill="#fff" stroke="#008080" stroke-width="1.3" stroke-linejoin="miter"/><path d="M896.46 225.49L904.96 240.49L887.96 240.49Z" fill="#fff" stroke="#008080" stroke-width="1.3" stroke-linejoin="miter"/><path d="M907.41 212.55L915.91 227.55L898.91 227.55Z" fill="#fff" stroke="#008080" stroke-width="1.3" stroke-linejoin="miter"/><path d="M918.37 199.75L926.87 214.75L909.87 214.75Z" fill="#fff" stroke="#008080" stroke-width="1.3" stroke-linejoin="miter"/><path d="M929.32 190.5L937.82 205.5L920.82 205.5Z" fill="#fff" stroke="#008080" stroke-width="1.3" stroke-linejoin="miter"/></g><g clip-path="url(#ca)"><path d="M119 499.64L121.02 505.05L126.8 505.3L122.28 508.9L123.82 514.47L119 511.28L114.18 514.47L115.72 508.9L111.2 505.3L116.98 505.05Z" fill="#fff" stroke="#0000ff" stroke-width="1.3" stroke-linejoin="miter"/><path d="M129.95 487.08L131.97 492.49L137.75 492.75L133.23 496.35L134.77 501.91L129.95 498.72L125.13 501.91L126.67 496.35L122.15 492.75L127.93 492.49Z" fill="#fff" stroke="#0000ff" stroke-width="1.3" stroke-linejoin="miter"/><path d="M140.9 475.88L142.92 481.29L148.7 481.54L144.18 485.14L145.72 490.71L140.9 487.52L136.08 490.71L137.62 485.14L133.1 481.54L138.88 481.29Z" fill="#fff" stroke="#0000ff" stroke-width="1.3" stroke-linejoin="miter"/><path d="M151.85 466.82L153.87 472.23L159.65 472.49L155.13 476.08L156.67 481.65L151.85 478.46L147.03 481.65L148.58 476.08L144.05 472.49L149.83 472.23Z" fill="#fff" stroke="#0000ff" stroke-width="1.3" stroke-linejoin="miter"/><path d="M162.8 458.58L164.83 464L170.6 464.25L166.08 467.85L167.62 473.42L162.8 470.23L157.98 473.42L159.53 467.85L155 464.25L160.78 464Z" fill="#fff" stroke="#0000ff" stroke-width="1.3" stroke-linejoin="miter"/><path d="M173.75 451.44L175.78 456.85L181.55 457.11L177.03 460.71L178.57 466.27L173.75 463.09L168.93 466.27L170.48 460.71L165.95 457.11L171.73 456.85Z" fill="#fff" stroke="#0000ff" stroke-width="1.3" stroke-linejoin="miter"/><path d="M184.7 445.42L186.73 450.84L192.5 451.09L187.98 454.69L189.52 460.26L184.7 457.07L179.88 460.26L181.43 454.69L176.9 451.09L182.68 450.84Z" fill="#fff" stroke="#0000ff" stroke-width="1.3" stroke-linejoin="miter"/><path d="M195.65 439.86L197.68 445.27L203.45 445.52L198.93 449.12L200.47 454.69L195.65 451.5L190.83 454.69L192.38 449.12L187.85 445.52L193.63 445.27Z" fill="#fff" stroke="#0000ff" stroke-width="1.3" stroke-linejoin="miter"/><path d="M206.6 435.03L208.63 440.45L214.4 440.7L209.88 444.3L211.42 449.87L206.6 446.68L201.78 449.87L203.33 444.3L198.8 440.7L204.58 440.45Z" fill="#fff" stroke="#0000ff" stroke-width="1.3" stroke-linejoin="miter"/><path d="M217.55 431.95L219.58 437.36L225.35 437.61L220.83 441.21L222.37 446.78L217.55 443.59L212.73 446.78L214.28 441.21L209.75 437.61L215.53 437.36Z" fill="#fff" stroke="#0000ff" stroke-width="1.3" stroke-linejoin="miter"/><path d="M228.5 429.23L230.53 434.65L236.3 434.9L231.78 438.5L233.32 444.07L228.5 440.88L223.68 444.07L225.23 438.5L220.7 434.9L226.48 434.65Z" fill="#fff" stroke="#0000ff" stroke-width="1.3" stroke-linejoin="miter"/><path d="M239.45 426.35L241.48 431.76L247.25 432.01L242.73 435.61L244.27 441.18L239.45 437.99L234.63 441.18L236.18 435.61L231.65 432.01L237.43 431.76Z" fill="#fff" stroke="#0000ff" stroke-width="1.3" stroke-linejoin="miter"/><path d="M250.4 424.18L252.43 429.6L258.2 429.85L253.68 433.45L255.22 439.02L250.4 435.83L245.58 439.02L247.13 433.45L242.6 429.85L248.38 429.6Z" fill="#fff" stroke="#0000ff" stroke-width="1.3" stroke-linejoin="miter"/><path d="M261.35 422.89L263.38 428.3L269.15 428.55L264.63 432.15L266.17 437.72L261.35 434.53L256.53 437.72L258.08 432.15L253.55 428.55L259.33 428.3Z" fill="#fff" stroke="#0000ff" stroke-width="1.3" stroke-linejoin="miter"/><path d="M272.3 421.61L274.33 427.03L280.1 427.28L275.58 430.88L277.12 436.45L272.3 433.26L267.48 436.45L269.03 430.88L264.5 427.28L270.28 427.03Z" fill="#fff" stroke="#0000ff" stroke-width="1.3" stroke-linejoin="miter"/><path d="M283.25 420.35L285.28 425.76L291.05 426.01L286.53 429.61L288.07 435.18L283.25 431.99L278.43 435.18L279.98 429.61L275.45 426.01L281.23 425.76Z" fill="#fff" stroke="#0000ff" stroke-width="1.3" stroke-linejoin="miter"/><path d="M294.2 419.22L296.23 424.63L302 424.89L297.48 428.49L299.02 434.06L294.2 430.87L289.38 434.06L290.93 428.49L286.4 424.89L292.18 424.63Z" fill="#fff" stroke="#0000ff" stroke-width="1.3" stroke-linejoin="miter"/><path d="M305.15 418.02L307.18 423.44L312.95 423.69L308.43 427.29L309.97 432.86L305.15 429.67L300.33 432.86L301.88 427.29L297.35 423.69L303.13 423.44Z" fill="#fff" stroke="#0000ff" stroke-width="1.3" stroke-linejoin="miter"/><path d="M316.1 417L318.13 422.41L323.9 422.66L319.38 426.26L320.92 431.83L316.1 428.64L311.28 431.83L312.83 426.26L308.31 422.66L314.08 422.41Z" fill="#fff" stroke="#0000ff" stroke-width="1.3" stroke-linejoin="miter"/><path d="M327.05 415.96L329.08 421.38L334.85 421.63L330.33 425.23L331.87 430.8L327.05 427.61L322.23 430.8L323.78 425.23L319.26 421.63L325.03 421.38Z" fill="#fff" stroke="#0000ff" stroke-width="1.3" stroke-linejoin="miter"/><path d="M338 414.91L340.03 420.32L345.8 420.58L341.28 424.17L342.82 429.74L338 426.55L333.18 429.74L334.73 424.17L330.21 420.58L335.98 420.32Z" fill="#fff" stroke="#0000ff" stroke-width="1.3" stroke-linejoin="miter"/><path d="M348.95 413.77L350.98 419.19L356.75 419.44L352.23 423.04L353.77 428.61L348.95 425.42L344.13 428.61L345.68 423.04L341.16 419.44L346.93 419.19Z" fill="#fff" stroke="#0000ff" stroke-width="1.3" stroke-linejoin="miter"/><path d="M359.9 412.68L361.93 418.1L367.7 418.35L363.18 421.95L364.72 427.52L359.9 424.33L355.08 427.52L356.63 421.95L352.11 418.35L357.88 418.1Z" fill="#fff" stroke="#0000ff" stroke-width="1.3" stroke-linejoin="miter"/><path d="M370.85 412.04L372.88 417.45L378.65 417.7L374.13 421.3L375.67 426.87L370.85 423.68L366.03 426.87L367.58 421.3L363.06 417.7L368.83 417.45Z" fill="#fff" stroke="#0000ff" stroke-width="1.3" stroke-linejoin="miter"/><path d="M381.8 411.41L383.83 416.82L389.6 417.08L385.08 420.68L386.62 426.24L381.8 423.05L376.99 426.24L378.53 420.68L374.01 417.08L379.78 416.82Z" fill="#fff" stroke="#0000ff" stroke-width="1.3" stroke-linejoin="miter"/><path d="M392.76 410.68L394.78 416.1L400.55 416.35L396.03 419.95L397.58 425.52L392.76 422.33L387.94 425.52L389.48 419.95L384.96 416.35L390.73 416.1Z" fill="#fff" stroke="#0000ff" stroke-width="1.3" stroke-linejoin="miter"/><path d="M403.71 409.91L405.73 415.32L411.5 415.57L406.98 419.17L408.53 424.74L403.71 421.55L398.89 424.74L400.43 419.17L395.91 415.57L401.68 415.32Z" fill="#fff" stroke="#0000ff" stroke-width="1.3" stroke-linejoin="miter"/><path d="M414.66 409.22L416.68 414.64L422.45 414.89L417.93 418.49L419.48 424.06L414.66 420.87L409.84 424.06L411.38 418.49L406.86 414.89L412.63 414.64Z" fill="#fff" stroke="#0000ff" stroke-width="1.3" stroke-linejoin="miter"/><path d="M425.61 408.71L427.63 414.13L433.4 414.38L428.88 417.98L430.43 423.55L425.61 420.36L420.79 423.55L422.33 417.98L417.81 414.38L423.58 414.13Z" fill="#fff" stroke="#0000ff" stroke-width="1.3" stroke-linejoin="miter"/><path d="M436.56 408.2L438.58 413.61L444.35 413.86L439.83 417.46L441.38 423.03L436.56 419.84L431.74 423.03L433.28 417.46L428.76 413.86L434.53 413.61Z" fill="#fff" stroke="#0000ff" stroke-width="1.3" stroke-linejoin="miter"/><path d="M447.51 407.55L449.53 412.97L455.3 413.22L450.78 416.82L452.33 422.39L447.51 419.2L442.69 422.39L444.23 416.82L439.71 413.22L445.48 412.97Z" fill="#fff" stroke="#0000ff" stroke-width="1.3" stroke-linejoin="miter"/><path d="M458.46 406.91L460.48 412.33L466.26 412.58L461.73 416.18L463.28 421.75L458.46 418.56L453.64 421.75L455.18 416.18L450.66 412.58L456.43 412.33Z" fill="#fff" stroke="#0000ff" stroke-width="1.3" stroke-linejoin="miter"/><path d="M469.41 406.19L471.43 411.6L477.21 411.85L472.68 415.45L474.23 421.02L469.41 417.83L464.59 421.02L466.13 415.45L461.61 411.85L467.38 411.6Z" fill="#fff" stroke="#0000ff" stroke-width="1.3" stroke-linejoin="miter"/><path d="M480.36 405.43L482.38 410.84L488.16 411.09L483.63 414.69L485.18 420.26L480.36 417.07L475.54 420.26L477.08 414.69L472.56 411.09L478.33 410.84Z" fill="#fff" stroke="#0000ff" stroke-width="1.3" stroke-linejoin="miter"/><path d="M491.31 404.67L493.33 410.08L499.11 410.33L494.58 413.93L496.13 419.5L491.31 416.31L486.49 419.5L488.03 413.93L483.51 410.33L489.28 410.08Z" fill="#fff" stroke="#0000ff" stroke-width="1.3" stroke-linejoin="miter"/><path d="M502.26 403.91L504.28 409.32L510.06 409.57L505.53 413.17L507.08 418.74L502.26 415.55L497.44 418.74L498.98 413.17L494.46 409.57L500.23 409.32Z" fill="#fff" stroke="#0000ff" stroke-width="1.3" stroke-linejoin="miter"/><path d="M513.21 403.13L515.23 408.54L521.01 408.8L516.48 412.39L518.03 417.96L513.21 414.77L508.39 417.96L509.93 412.39L505.41 408.8L511.18 408.54Z" fill="#fff" stroke="#0000ff" stroke-width="1.3" stroke-linejoin="miter"/><path d="M524.16 402.24L526.18 407.66L531.96 407.91L527.43 411.51L528.98 417.08L524.16 413.89L519.34 417.08L520.88 411.51L516.36 407.91L522.13 407.66Z" fill="#fff" stroke="#0000ff" stroke-width="1.3" stroke-linejoin="miter"/><path d="M535.11 401.36L537.13 406.77L542.91 407.02L538.38 410.62L539.93 416.19L535.11 413L530.29 416.19L531.83 410.62L527.31 407.02L533.08 406.77Z" fill="#fff" stroke="#0000ff" stroke-width="1.3" stroke-linejoin="miter"/><path d="M546.06 400.45L548.08 405.86L553.86 406.11L549.33 409.71L550.88 415.28L546.06 412.09L541.24 415.28L542.78 409.71L538.26 406.11L544.03 405.86Z" fill="#fff" stroke="#0000ff" stroke-width="1.3" stroke-linejoin="miter"/><path d="M557.01 399.54L559.03 404.95L564.81 405.2L560.28 408.8L561.83 414.37L557.01 411.18L552.19 414.37L553.73 408.8L549.21 405.2L554.98 404.95Z" fill="#fff" stroke="#0000ff" stroke-width="1.3" stroke-linejoin="miter"/><path d="M567.96 398.58L569.98 404L575.76 404.25L571.23 407.85L572.78 413.42L567.96 410.23L563.14 413.42L564.68 407.85L560.16 404.25L565.93 404Z" fill="#fff" stroke="#0000ff" stroke-width="1.3" stroke-linejoin="miter"/><path d="M578.91 397.59L580.93 403.01L586.71 403.26L582.18 406.86L583.73 412.43L578.91 409.24L574.09 412.43L575.63 406.86L571.11 403.26L576.88 403.01Z" fill="#fff" stroke="#0000ff" stroke-width="1.3" stroke-linejoin="miter"/><path d="M589.86 396.6L591.88 402.02L597.66 402.27L593.13 405.87L594.68 411.44L589.86 408.25L585.04 411.44L586.58 405.87L582.06 402.27L587.83 402.02Z" fill="#fff" stroke="#0000ff" stroke-width="1.3" stroke-linejoin="miter"/><path d="M600.81 395.93L602.83 401.34L608.61 401.59L604.08 405.19L605.63 410.76L600.81 407.57L595.99 410.76L597.53 405.19L593.01 401.59L598.78 401.34Z" fill="#fff" stroke="#0000ff" stroke-width="1.3" stroke-linejoin="miter"/><path d="M611.76 395.26L613.78 400.68L619.56 400.93L615.03 404.53L616.58 410.1L611.76 406.91L606.94 410.1L608.48 404.53L603.96 400.93L609.73 400.68Z" fill="#fff" stroke="#0000ff" stroke-width="1.3" stroke-linejoin="miter"/><path d="M622.71 394.53L624.73 399.95L630.51 400.2L625.98 403.8L627.53 409.37L622.71 406.18L617.89 409.37L619.43 403.8L614.91 400.2L620.69 399.95Z" fill="#fff" stroke="#0000ff" stroke-width="1.3" stroke-linejoin="miter"/><path d="M633.66 393.77L635.68 399.19L641.46 399.44L636.94 403.04L638.48 408.61L633.66 405.42L628.84 408.61L630.38 403.04L625.86 399.44L631.64 399.19Z" fill="#fff" stroke="#0000ff" stroke-width="1.3" stroke-linejoin="miter"/><path d="M644.61 392.89L646.63 398.3L652.41 398.55L647.89 402.15L649.43 407.72L644.61 404.53L639.79 407.72L641.33 402.15L636.81 398.55L642.59 398.3Z" fill="#fff" stroke="#0000ff" stroke-width="1.3" stroke-linejoin="miter"/><path d="M655.56 391.78L657.58 397.19L663.36 397.45L658.84 401.04L660.38 406.61L655.56 403.42L650.74 406.61L652.28 401.04L647.76 397.45L653.54 397.19Z" fill="#fff" stroke="#0000ff" stroke-width="1.3" stroke-linejoin="miter"/><path d="M666.51 390.66L668.53 396.07L674.31 396.32L669.79 399.92L671.33 405.49L666.51 402.3L661.69 405.49L663.23 399.92L658.71 396.32L664.49 396.07Z" fill="#fff" stroke="#0000ff" stroke-width="1.3" stroke-linejoin="miter"/><path d="M677.46 389.2L679.48 394.61L685.26 394.86L680.74 398.46L682.28 404.03L677.46 400.84L672.64 404.03L674.19 398.46L669.66 394.86L675.44 394.61Z" fill="#fff" stroke="#0000ff" stroke-width="1.3" stroke-linejoin="miter"/><path d="M688.41 387.74L690.44 393.15L696.21 393.41L691.69 397L693.23 402.57L688.41 399.38L683.59 402.57L685.14 397L680.61 393.41L686.39 393.15Z" fill="#fff" stroke="#0000ff" stroke-width="1.3" stroke-linejoin="miter"/><path d="M699.36 385.85L701.39 391.27L707.16 391.52L702.64 395.12L704.18 400.69L699.36 397.5L694.54 400.69L696.09 395.12L691.56 391.52L697.34 391.27Z" fill="#fff" stroke="#0000ff" stroke-width="1.3" stroke-linejoin="miter"/><path d="M710.31 383.81L712.34 389.23L718.11 389.48L713.59 393.08L715.13 398.65L710.31 395.46L705.49 398.65L707.04 393.08L702.51 389.48L708.29 389.23Z" fill="#fff" stroke="#0000ff" stroke-width="1.3" stroke-linejoin="miter"/><path d="M721.26 381.18L723.29 386.59L729.06 386.84L724.54 390.44L726.08 396.01L721.26 392.82L716.44 396.01L717.99 390.44L713.46 386.84L719.24 386.59Z" fill="#fff" stroke="#0000ff" stroke-width="1.3" stroke-linejoin="miter"/><path d="M732.21 377.75L734.24 383.16L740.01 383.41L735.49 387.01L737.03 392.58L732.21 389.39L727.39 392.58L728.94 387.01L724.41 383.41L730.19 383.16Z" fill="#fff" stroke="#0000ff" stroke-width="1.3" stroke-linejoin="miter"/><path d="M743.16 374.25L745.19 379.67L750.96 379.92L746.44 383.52L747.98 389.09L743.16 385.9L738.34 389.09L739.89 383.52L735.36 379.92L741.14 379.67Z" fill="#fff" stroke="#0000ff" stroke-width="1.3" stroke-linejoin="miter"/><path d="M754.11 370.02L756.14 375.43L761.91 375.69L757.39 379.29L758.93 384.85L754.11 381.66L749.29 384.85L750.84 379.29L746.31 375.69L752.09 375.43Z" fill="#fff" stroke="#0000ff" stroke-width="1.3" stroke-linejoin="miter"/><path d="M765.06 364.31L767.09 369.73L772.86 369.98L768.34 373.58L769.88 379.15L765.06 375.96L760.24 379.15L761.79 373.58L757.26 369.98L763.04 369.73Z" fill="#fff" stroke="#0000ff" stroke-width="1.3" stroke-linejoin="miter"/><path d="M776.01 358.27L778.04 363.69L783.81 363.94L779.29 367.54L780.83 373.11L776.01 369.92L771.19 373.11L772.74 367.54L768.21 363.94L773.99 363.69Z" fill="#fff" stroke="#0000ff" stroke-width="1.3" stroke-linejoin="miter"/><path d="M786.96 350.77L788.99 356.18L794.76 356.43L790.24 360.03L791.78 365.6L786.96 362.41L782.14 365.6L783.69 360.03L779.16 356.43L784.94 356.18Z" fill="#fff" stroke="#0000ff" stroke-width="1.3" stroke-linejoin="miter"/><path d="M797.91 342.52L799.94 347.93L805.71 348.18L801.19 351.78L802.73 357.35L797.91 354.16L793.09 357.35L794.64 351.78L790.11 348.18L795.89 347.93Z" fill="#fff" stroke="#0000ff" stroke-width="1.3" stroke-linejoin="miter"/><path d="M808.86 337.03L810.89 342.44L816.66 342.7L812.14 346.29L813.68 351.86L808.86 348.67L804.04 351.86L805.59 346.29L801.06 342.7L806.84 342.44Z" fill="#fff" stroke="#0000ff" stroke-width="1.3" stroke-linejoin="miter"/><path d="M819.81 332.81L821.84 338.22L827.61 338.47L823.09 342.07L824.63 347.64L819.81 344.45L814.99 347.64L816.54 342.07L812.01 338.47L817.79 338.22Z" fill="#fff" stroke="#0000ff" stroke-width="1.3" stroke-linejoin="miter"/><path d="M830.76 324.28L832.79 329.7L838.56 329.95L834.04 333.55L835.58 339.12L830.76 335.93L825.94 339.12L827.49 333.55L822.96 329.95L828.74 329.7Z" fill="#fff" stroke="#0000ff" stroke-width="1.3" stroke-linejoin="miter"/><path d="M841.71 309.89L843.74 315.31L849.51 315.56L844.99 319.16L846.53 324.73L841.71 321.54L836.89 324.73L838.44 319.16L833.91 315.56L839.69 315.31Z" fill="#fff" stroke="#0000ff" stroke-width="1.3" stroke-linejoin="miter"/><path d="M852.66 295.5L854.69 300.91L860.46 301.17L855.94 304.76L857.48 310.33L852.66 307.14L847.84 310.33L849.39 304.76L844.87 301.17L850.64 300.91Z" fill="#fff" stroke="#0000ff" stroke-width="1.3" stroke-linejoin="miter"/><path d="M863.61 280.77L865.64 286.18L871.41 286.43L866.89 290.03L868.43 295.6L863.61 292.41L858.79 295.6L860.34 290.03L855.82 286.43L861.59 286.18Z" fill="#fff" stroke="#0000ff" stroke-width="1.3" stroke-linejoin="miter"/><path d="M874.56 265.82L876.59 271.23L882.36 271.49L877.84 275.08L879.38 280.65L874.56 277.46L869.74 280.65L871.29 275.08L866.77 271.49L872.54 271.23Z" fill="#fff" stroke="#0000ff" stroke-width="1.3" stroke-linejoin="miter"/><path d="M885.51 251.11L887.54 256.52L893.31 256.78L888.79 260.37L890.33 265.94L885.51 262.75L880.69 265.94L882.24 260.37L877.72 256.78L883.49 256.52Z" fill="#fff" stroke="#0000ff" stroke-width="1.3" stroke-linejoin="miter"/><path d="M896.46 236.09L898.49 241.51L904.26 241.76L899.74 245.36L901.28 250.93L896.46 247.74L891.64 250.93L893.19 245.36L888.67 241.76L894.44 241.51Z" fill="#fff" stroke="#0000ff" stroke-width="1.3" stroke-linejoin="miter"/><path d="M907.41 220.89L909.44 226.31L915.21 226.56L910.69 230.16L912.23 235.73L907.41 232.54L902.6 235.73L904.14 230.16L899.62 226.56L905.39 226.31Z" fill="#fff" stroke="#0000ff" stroke-width="1.3" stroke-linejoin="miter"/><path d="M918.37 205.53L920.39 210.95L926.16 211.2L921.64 214.8L923.18 220.37L918.37 217.18L913.55 220.37L915.09 214.8L910.57 211.2L916.34 210.95Z" fill="#fff" stroke="#0000ff" stroke-width="1.3" stroke-linejoin="miter"/><path d="M929.32 197.58L931.34 203L937.11 203.25L932.59 206.85L934.14 212.42L929.32 209.23L924.5 212.42L926.04 206.85L921.52 203.25L927.29 203Z" fill="#fff" stroke="#0000ff" stroke-width="1.3" stroke-linejoin="miter"/></g><g clip-path="url(#ca)"><polyline points="113.5,521.68 124.45,514.16 135.4,506.99 146.35,501.22 157.3,497.93 168.25,498.63 179.2,502.16 190.15,507.29 201.1,516.09 212.05,524.62 223,532.87 233.95,540.03 244.9,545.84 255.85,549.78 266.8,553.3 277.75,555.53 288.7,557.05 299.65,558.19 310.6,558.89 321.55,559.07 332.5,559.49 343.45,559.24 354.4,560.29 365.35,562.95 376.3,566.39 387.26,570.16 398.21,575.55 409.16,581.22 420.11,584.94 431.06,586.48 442.01,585.05 452.96,580.09 463.91,576.56 474.86,573.57 485.81,570.45 496.76,566.49 507.71,563.06 518.66,560.11 529.61,557.68 540.56,555.26 551.51,552.5 562.46,550.11 573.41,548.09 584.36,545.64 595.31,544.01 606.26,542.84 617.21,541.6 628.16,540.22 639.11,539.03 650.06,537.79 661.01,536.28 671.96,532.18 682.91,523.95 693.86,511.23 704.81,499.14 715.76,486.05 726.71,470.34 737.66,456.7 748.61,442.38 759.56,427.06 770.51,412.76 781.46,399.1 792.41,383.3 803.36,369.86 814.31,355 825.26,339.92 836.21,325.56 847.16,311.12 858.11,296.78 869.06,281.59 880.01,266.96 890.96,252.15 901.91,236.98 912.87,221.7 923.82,206.26" fill="none" stroke="#0000ff" stroke-width="1.3"/><path d="M113.5 514.08L115.57 519.63L121.49 519.89L116.86 523.57L118.44 529.28L113.5 526.01L108.56 529.28L110.14 523.57L105.51 519.89L111.43 519.63Z" fill="#0000ff" stroke="#0000ff" stroke-width="0.8" stroke-linejoin="miter"/><path d="M124.45 506.56L126.52 512.11L132.44 512.37L127.81 516.05L129.39 521.76L124.45 518.49L119.51 521.76L121.09 516.05L116.46 512.37L122.38 512.11Z" fill="#0000ff" stroke="#0000ff" stroke-width="0.8" stroke-linejoin="miter"/><path d="M135.4 499.4L137.47 504.94L143.39 505.2L138.76 508.89L140.34 514.59L135.4 511.32L130.46 514.59L132.05 508.89L127.41 505.2L133.33 504.94Z" fill="#0000ff" stroke="#0000ff" stroke-width="0.8" stroke-linejoin="miter"/><path d="M146.35 493.62L148.42 499.17L154.34 499.43L149.71 503.12L151.29 508.82L146.35 505.55L141.41 508.82L143 503.12L138.36 499.43L144.28 499.17Z" fill="#0000ff" stroke="#0000ff" stroke-width="0.8" stroke-linejoin="miter"/><path d="M157.3 490.34L159.37 495.88L165.29 496.14L160.66 499.83L162.24 505.53L157.3 502.26L152.36 505.53L153.95 499.83L149.31 496.14L155.23 495.88Z" fill="#0000ff" stroke="#0000ff" stroke-width="0.8" stroke-linejoin="miter"/><path d="M168.25 491.03L170.32 496.58L176.24 496.83L171.61 500.52L173.19 506.23L168.25 502.96L163.31 506.23L164.9 500.52L160.26 496.83L166.18 496.58Z" fill="#0000ff" stroke="#0000ff" stroke-width="0.8" stroke-linejoin="miter"/><path d="M179.2 494.56L181.27 500.11L187.19 500.37L182.56 504.05L184.14 509.76L179.2 506.49L174.26 509.76L175.85 504.05L171.21 500.37L177.13 500.11Z" fill="#0000ff" stroke="#0000ff" stroke-width="0.8" stroke-linejoin="miter"/><path d="M190.15 499.69L192.23 505.24L198.14 505.5L193.51 509.18L195.09 514.89L190.15 511.62L185.21 514.89L186.8 509.18L182.16 505.5L188.08 505.24Z" fill="#0000ff" stroke="#0000ff" stroke-width="0.8" stroke-linejoin="miter"/><path d="M201.1 508.49L203.18 514.04L209.09 514.3L204.46 517.98L206.04 523.69L201.1 520.42L196.16 523.69L197.75 517.98L193.11 514.3L199.03 514.04Z" fill="#0000ff" stroke="#0000ff" stroke-width="0.8" stroke-linejoin="miter"/><path d="M212.05 517.02L214.13 522.56L220.04 522.82L215.41 526.51L216.99 532.21L212.05 528.95L207.11 532.21L208.7 526.51L204.06 522.82L209.98 522.56Z" fill="#0000ff" stroke="#0000ff" stroke-width="0.8" stroke-linejoin="miter"/><path d="M223 525.28L225.08 530.82L230.99 531.08L226.36 534.77L227.94 540.47L223 537.2L218.06 540.47L219.65 534.77L215.01 531.08L220.93 530.82Z" fill="#0000ff" stroke="#0000ff" stroke-width="0.8" stroke-linejoin="miter"/><path d="M233.95 532.43L236.03 537.98L241.94 538.23L237.31 541.92L238.89 547.63L233.95 544.36L229.01 547.63L230.6 541.92L225.96 538.23L231.88 537.98Z" fill="#0000ff" stroke="#0000ff" stroke-width="0.8" stroke-linejoin="miter"/><path d="M244.9 538.24L246.98 543.79L252.89 544.05L248.26 547.73L249.84 553.44L244.9 550.17L239.97 553.44L241.55 547.73L236.91 544.05L242.83 543.79Z" fill="#0000ff" stroke="#0000ff" stroke-width="0.8" stroke-linejoin="miter"/><path d="M255.85 542.18L257.93 547.72L263.84 547.98L259.21 551.67L260.79 557.37L255.85 554.11L250.92 557.37L252.5 551.67L247.86 547.98L253.78 547.72Z" fill="#0000ff" stroke="#0000ff" stroke-width="0.8" stroke-linejoin="miter"/><path d="M266.8 545.7L268.88 551.25L274.79 551.51L270.16 555.19L271.74 560.9L266.8 557.63L261.87 560.9L263.45 555.19L258.81 551.51L264.73 551.25Z" fill="#0000ff" stroke="#0000ff" stroke-width="0.8" stroke-linejoin="miter"/><path d="M277.75 547.94L279.83 553.48L285.74 553.74L281.11 557.43L282.69 563.13L277.75 559.86L272.82 563.13L274.4 557.43L269.76 553.74L275.68 553.48Z" fill="#0000ff" stroke="#0000ff" stroke-width="0.8" stroke-linejoin="miter"/><path d="M288.7 549.45L290.78 554.99L296.69 555.25L292.06 558.94L293.64 564.64L288.7 561.38L283.77 564.64L285.35 558.94L280.71 555.25L286.63 554.99Z" fill="#0000ff" stroke="#0000ff" stroke-width="0.8" stroke-linejoin="miter"/><path d="M299.65 550.59L301.73 556.13L307.64 556.39L303.01 560.08L304.59 565.78L299.65 562.52L294.72 565.78L296.3 560.08L291.66 556.39L297.58 556.13Z" fill="#0000ff" stroke="#0000ff" stroke-width="0.8" stroke-linejoin="miter"/><path d="M310.6 551.29L312.68 556.83L318.59 557.09L313.96 560.78L315.54 566.48L310.6 563.22L305.67 566.48L307.25 560.78L302.61 557.09L308.53 556.83Z" fill="#0000ff" stroke="#0000ff" stroke-width="0.8" stroke-linejoin="miter"/><path d="M321.55 551.47L323.63 557.02L329.54 557.28L324.91 560.96L326.49 566.67L321.55 563.4L316.62 566.67L318.2 560.96L313.57 557.28L319.48 557.02Z" fill="#0000ff" stroke="#0000ff" stroke-width="0.8" stroke-linejoin="miter"/><path d="M332.5 551.89L334.58 557.44L340.49 557.69L335.86 561.38L337.44 567.09L332.5 563.82L327.57 567.09L329.15 561.38L324.52 557.69L330.43 557.44Z" fill="#0000ff" stroke="#0000ff" stroke-width="0.8" stroke-linejoin="miter"/><path d="M343.45 551.64L345.53 557.19L351.44 557.44L346.81 561.13L348.39 566.84L343.45 563.57L338.52 566.84L340.1 561.13L335.47 557.44L341.38 557.19Z" fill="#0000ff" stroke="#0000ff" stroke-width="0.8" stroke-linejoin="miter"/><path d="M354.4 552.69L356.48 558.24L362.39 558.49L357.76 562.18L359.34 567.89L354.4 564.62L349.47 567.89L351.05 562.18L346.42 558.49L352.33 558.24Z" fill="#0000ff" stroke="#0000ff" stroke-width="0.8" stroke-linejoin="miter"/><path d="M365.35 555.35L367.43 560.9L373.34 561.16L368.71 564.84L370.29 570.55L365.35 567.28L360.42 570.55L362 564.84L357.37 561.16L363.28 560.9Z" fill="#0000ff" stroke="#0000ff" stroke-width="0.8" stroke-linejoin="miter"/><path d="M376.3 558.79L378.38 564.34L384.29 564.59L379.66 568.28L381.24 573.99L376.3 570.72L371.37 573.99L372.95 568.28L368.32 564.59L374.23 564.34Z" fill="#0000ff" stroke="#0000ff" stroke-width="0.8" stroke-linejoin="miter"/><path d="M387.26 562.57L389.33 568.11L395.24 568.37L390.61 572.06L392.19 577.76L387.26 574.49L382.32 577.76L383.9 572.06L379.27 568.37L385.18 568.11Z" fill="#0000ff" stroke="#0000ff" stroke-width="0.8" stroke-linejoin="miter"/><path d="M398.21 567.95L400.28 573.49L406.19 573.75L401.56 577.44L403.14 583.14L398.21 579.88L393.27 583.14L394.85 577.44L390.22 573.75L396.13 573.49Z" fill="#0000ff" stroke="#0000ff" stroke-width="0.8" stroke-linejoin="miter"/><path d="M409.16 573.62L411.23 579.17L417.14 579.43L412.51 583.11L414.09 588.82L409.16 585.55L404.22 588.82L405.8 583.11L401.17 579.43L407.08 579.17Z" fill="#0000ff" stroke="#0000ff" stroke-width="0.8" stroke-linejoin="miter"/><path d="M420.11 577.34L422.18 582.88L428.09 583.14L423.46 586.83L425.04 592.53L420.11 589.27L415.17 592.53L416.75 586.83L412.12 583.14L418.03 582.88Z" fill="#0000ff" stroke="#0000ff" stroke-width="0.8" stroke-linejoin="miter"/><path d="M431.06 578.88L433.13 584.43L439.04 584.69L434.41 588.37L435.99 594.08L431.06 590.81L426.12 594.08L427.7 588.37L423.07 584.69L428.98 584.43Z" fill="#0000ff" stroke="#0000ff" stroke-width="0.8" stroke-linejoin="miter"/><path d="M442.01 577.45L444.08 583L450 583.25L445.36 586.94L446.94 592.65L442.01 589.38L437.07 592.65L438.65 586.94L434.02 583.25L439.93 583Z" fill="#0000ff" stroke="#0000ff" stroke-width="0.8" stroke-linejoin="miter"/><path d="M452.96 572.49L455.03 578.04L460.95 578.3L456.31 581.99L457.89 587.69L452.96 584.42L448.02 587.69L449.6 581.99L444.97 578.3L450.88 578.04Z" fill="#0000ff" stroke="#0000ff" stroke-width="0.8" stroke-linejoin="miter"/><path d="M463.91 568.96L465.98 574.51L471.9 574.76L467.26 578.45L468.84 584.16L463.91 580.89L458.97 584.16L460.55 578.45L455.92 574.76L461.83 574.51Z" fill="#0000ff" stroke="#0000ff" stroke-width="0.8" stroke-linejoin="miter"/><path d="M474.86 565.97L476.93 571.52L482.85 571.78L478.21 575.46L479.79 581.17L474.86 577.9L469.92 581.17L471.5 575.46L466.87 571.78L472.78 571.52Z" fill="#0000ff" stroke="#0000ff" stroke-width="0.8" stroke-linejoin="miter"/><path d="M485.81 562.86L487.88 568.4L493.8 568.66L489.16 572.35L490.74 578.05L485.81 574.78L480.87 578.05L482.45 572.35L477.82 568.66L483.73 568.4Z" fill="#0000ff" stroke="#0000ff" stroke-width="0.8" stroke-linejoin="miter"/><path d="M496.76 558.9L498.83 564.44L504.75 564.7L500.11 568.39L501.69 574.09L496.76 570.82L491.82 574.09L493.4 568.39L488.77 564.7L494.68 564.44Z" fill="#0000ff" stroke="#0000ff" stroke-width="0.8" stroke-linejoin="miter"/><path d="M507.71 555.46L509.78 561L515.7 561.26L511.06 564.95L512.64 570.65L507.71 567.39L502.77 570.65L504.35 564.95L499.72 561.26L505.63 561Z" fill="#0000ff" stroke="#0000ff" stroke-width="0.8" stroke-linejoin="miter"/><path d="M518.66 552.51L520.73 558.06L526.65 558.32L522.01 562L523.6 567.71L518.66 564.44L513.72 567.71L515.3 562L510.67 558.32L516.58 558.06Z" fill="#0000ff" stroke="#0000ff" stroke-width="0.8" stroke-linejoin="miter"/><path d="M529.61 550.08L531.68 555.62L537.6 555.88L532.96 559.57L534.55 565.27L529.61 562.01L524.67 565.27L526.25 559.57L521.62 555.88L527.53 555.62Z" fill="#0000ff" stroke="#0000ff" stroke-width="0.8" stroke-linejoin="miter"/><path d="M540.56 547.67L542.63 553.21L548.55 553.47L543.91 557.16L545.5 562.86L540.56 559.59L535.62 562.86L537.2 557.16L532.57 553.47L538.48 553.21Z" fill="#0000ff" stroke="#0000ff" stroke-width="0.8" stroke-linejoin="miter"/><path d="M551.51 544.9L553.58 550.45L559.5 550.71L554.86 554.39L556.45 560.1L551.51 556.83L546.57 560.1L548.15 554.39L543.52 550.71L549.43 550.45Z" fill="#0000ff" stroke="#0000ff" stroke-width="0.8" stroke-linejoin="miter"/><path d="M562.46 542.52L564.53 548.06L570.45 548.32L565.81 552.01L567.4 557.71L562.46 554.44L557.52 557.71L559.1 552.01L554.47 548.32L560.38 548.06Z" fill="#0000ff" stroke="#0000ff" stroke-width="0.8" stroke-linejoin="miter"/><path d="M573.41 540.49L575.48 546.04L581.4 546.3L576.76 549.98L578.35 555.69L573.41 552.42L568.47 555.69L570.05 549.98L565.42 546.3L571.33 546.04Z" fill="#0000ff" stroke="#0000ff" stroke-width="0.8" stroke-linejoin="miter"/><path d="M584.36 538.04L586.43 543.59L592.35 543.84L587.71 547.53L589.3 553.24L584.36 549.97L579.42 553.24L581 547.53L576.37 543.84L582.29 543.59Z" fill="#0000ff" stroke="#0000ff" stroke-width="0.8" stroke-linejoin="miter"/><path d="M595.31 536.41L597.38 541.96L603.3 542.22L598.66 545.9L600.25 551.61L595.31 548.34L590.37 551.61L591.95 545.9L587.32 542.22L593.24 541.96Z" fill="#0000ff" stroke="#0000ff" stroke-width="0.8" stroke-linejoin="miter"/><path d="M606.26 535.24L608.33 540.78L614.25 541.04L609.61 544.73L611.2 550.43L606.26 547.17L601.32 550.43L602.9 544.73L598.27 541.04L604.19 540.78Z" fill="#0000ff" stroke="#0000ff" stroke-width="0.8" stroke-linejoin="miter"/><path d="M617.21 534L619.28 539.55L625.2 539.81L620.56 543.49L622.15 549.2L617.21 545.93L612.27 549.2L613.85 543.49L609.22 539.81L615.14 539.55Z" fill="#0000ff" stroke="#0000ff" stroke-width="0.8" stroke-linejoin="miter"/><path d="M628.16 532.62L630.23 538.17L636.15 538.42L631.52 542.11L633.1 547.82L628.16 544.55L623.22 547.82L624.8 542.11L620.17 538.42L626.09 538.17Z" fill="#0000ff" stroke="#0000ff" stroke-width="0.8" stroke-linejoin="miter"/><path d="M639.11 531.43L641.18 536.98L647.1 537.24L642.47 540.92L644.05 546.63L639.11 543.36L634.17 546.63L635.75 540.92L631.12 537.24L637.04 536.98Z" fill="#0000ff" stroke="#0000ff" stroke-width="0.8" stroke-linejoin="miter"/><path d="M650.06 530.2L652.13 535.74L658.05 536L653.42 539.69L655 545.39L650.06 542.13L645.12 545.39L646.7 539.69L642.07 536L647.99 535.74Z" fill="#0000ff" stroke="#0000ff" stroke-width="0.8" stroke-linejoin="miter"/><path d="M661.01 528.68L663.08 534.23L669 534.49L664.37 538.17L665.95 543.88L661.01 540.61L656.07 543.88L657.66 538.17L653.02 534.49L658.94 534.23Z" fill="#0000ff" stroke="#0000ff" stroke-width="0.8" stroke-linejoin="miter"/><path d="M671.96 524.58L674.03 530.13L679.95 530.38L675.32 534.07L676.9 539.78L671.96 536.51L667.02 539.78L668.61 534.07L663.97 530.38L669.89 530.13Z" fill="#0000ff" stroke="#0000ff" stroke-width="0.8" stroke-linejoin="miter"/><path d="M682.91 516.35L684.98 521.9L690.9 522.15L686.27 525.84L687.85 531.55L682.91 528.28L677.97 531.55L679.56 525.84L674.92 522.15L680.84 521.9Z" fill="#0000ff" stroke="#0000ff" stroke-width="0.8" stroke-linejoin="miter"/><path d="M693.86 503.64L695.93 509.18L701.85 509.44L697.22 513.13L698.8 518.83L693.86 515.56L688.92 518.83L690.51 513.13L685.87 509.44L691.79 509.18Z" fill="#0000ff" stroke="#0000ff" stroke-width="0.8" stroke-linejoin="miter"/><path d="M704.81 491.54L706.88 497.09L712.8 497.35L708.17 501.03L709.75 506.74L704.81 503.47L699.87 506.74L701.46 501.03L696.82 497.35L702.74 497.09Z" fill="#0000ff" stroke="#0000ff" stroke-width="0.8" stroke-linejoin="miter"/><path d="M715.76 478.46L717.84 484L723.75 484.26L719.12 487.95L720.7 493.65L715.76 490.38L710.82 493.65L712.41 487.95L707.77 484.26L713.69 484Z" fill="#0000ff" stroke="#0000ff" stroke-width="0.8" stroke-linejoin="miter"/><path d="M726.71 462.74L728.79 468.29L734.7 468.55L730.07 472.23L731.65 477.94L726.71 474.67L721.77 477.94L723.36 472.23L718.72 468.55L724.64 468.29Z" fill="#0000ff" stroke="#0000ff" stroke-width="0.8" stroke-linejoin="miter"/><path d="M737.66 449.1L739.74 454.65L745.65 454.91L741.02 458.59L742.6 464.3L737.66 461.03L732.72 464.3L734.31 458.59L729.67 454.91L735.59 454.65Z" fill="#0000ff" stroke="#0000ff" stroke-width="0.8" stroke-linejoin="miter"/><path d="M748.61 434.78L750.69 440.32L756.6 440.58L751.97 444.27L753.55 449.97L748.61 446.71L743.67 449.97L745.26 444.27L740.62 440.58L746.54 440.32Z" fill="#0000ff" stroke="#0000ff" stroke-width="0.8" stroke-linejoin="miter"/><path d="M759.56 419.46L761.64 425.01L767.55 425.27L762.92 428.96L764.5 434.66L759.56 431.39L754.62 434.66L756.21 428.96L751.57 425.27L757.49 425.01Z" fill="#0000ff" stroke="#0000ff" stroke-width="0.8" stroke-linejoin="miter"/><path d="M770.51 405.16L772.59 410.71L778.5 410.97L773.87 414.65L775.45 420.36L770.51 417.09L765.58 420.36L767.16 414.65L762.52 410.97L768.44 410.71Z" fill="#0000ff" stroke="#0000ff" stroke-width="0.8" stroke-linejoin="miter"/><path d="M781.46 391.5L783.54 397.05L789.45 397.31L784.82 400.99L786.4 406.7L781.46 403.43L776.53 406.7L778.11 400.99L773.47 397.31L779.39 397.05Z" fill="#0000ff" stroke="#0000ff" stroke-width="0.8" stroke-linejoin="miter"/><path d="M792.41 375.7L794.49 381.25L800.4 381.51L795.77 385.19L797.35 390.9L792.41 387.63L787.48 390.9L789.06 385.19L784.42 381.51L790.34 381.25Z" fill="#0000ff" stroke="#0000ff" stroke-width="0.8" stroke-linejoin="miter"/><path d="M803.36 362.26L805.44 367.81L811.35 368.07L806.72 371.76L808.3 377.46L803.36 374.19L798.43 377.46L800.01 371.76L795.37 368.07L801.29 367.81Z" fill="#0000ff" stroke="#0000ff" stroke-width="0.8" stroke-linejoin="miter"/><path d="M814.31 347.4L816.39 352.95L822.3 353.21L817.67 356.89L819.25 362.6L814.31 359.33L809.38 362.6L810.96 356.89L806.32 353.21L812.24 352.95Z" fill="#0000ff" stroke="#0000ff" stroke-width="0.8" stroke-linejoin="miter"/><path d="M825.26 332.32L827.34 337.87L833.25 338.13L828.62 341.81L830.2 347.52L825.26 344.25L820.33 347.52L821.91 341.81L817.27 338.13L823.19 337.87Z" fill="#0000ff" stroke="#0000ff" stroke-width="0.8" stroke-linejoin="miter"/><path d="M836.21 317.97L838.29 323.51L844.2 323.77L839.57 327.46L841.15 333.16L836.21 329.89L831.28 333.16L832.86 327.46L828.22 323.77L834.14 323.51Z" fill="#0000ff" stroke="#0000ff" stroke-width="0.8" stroke-linejoin="miter"/><path d="M847.16 303.53L849.24 309.07L855.15 309.33L850.52 313.02L852.1 318.72L847.16 315.45L842.23 318.72L843.81 313.02L839.17 309.33L845.09 309.07Z" fill="#0000ff" stroke="#0000ff" stroke-width="0.8" stroke-linejoin="miter"/><path d="M858.11 289.18L860.19 294.73L866.1 294.98L861.47 298.67L863.05 304.38L858.11 301.11L853.18 304.38L854.76 298.67L850.13 294.98L856.04 294.73Z" fill="#0000ff" stroke="#0000ff" stroke-width="0.8" stroke-linejoin="miter"/><path d="M869.06 273.99L871.14 279.54L877.05 279.8L872.42 283.48L874 289.19L869.06 285.92L864.13 289.19L865.71 283.48L861.08 279.8L866.99 279.54Z" fill="#0000ff" stroke="#0000ff" stroke-width="0.8" stroke-linejoin="miter"/><path d="M880.01 259.36L882.09 264.91L888 265.17L883.37 268.85L884.95 274.56L880.01 271.29L875.08 274.56L876.66 268.85L872.03 265.17L877.94 264.91Z" fill="#0000ff" stroke="#0000ff" stroke-width="0.8" stroke-linejoin="miter"/><path d="M890.96 244.56L893.04 250.1L898.95 250.36L894.32 254.05L895.9 259.75L890.96 256.48L886.03 259.75L887.61 254.05L882.98 250.36L888.89 250.1Z" fill="#0000ff" stroke="#0000ff" stroke-width="0.8" stroke-linejoin="miter"/><path d="M901.91 229.38L903.99 234.93L909.9 235.18L905.27 238.87L906.85 244.58L901.91 241.31L896.98 244.58L898.56 238.87L893.93 235.18L899.84 234.93Z" fill="#0000ff" stroke="#0000ff" stroke-width="0.8" stroke-linejoin="miter"/><path d="M912.87 214.11L914.94 219.65L920.85 219.91L916.22 223.6L917.8 229.3L912.87 226.03L907.93 229.3L909.51 223.6L904.88 219.91L910.79 219.65Z" fill="#0000ff" stroke="#0000ff" stroke-width="0.8" stroke-linejoin="miter"/><path d="M923.82 198.66L925.89 204.21L931.8 204.47L927.17 208.15L928.75 213.86L923.82 210.59L918.88 213.86L920.46 208.15L915.83 204.47L921.74 204.21Z" fill="#0000ff" stroke="#0000ff" stroke-width="0.8" stroke-linejoin="miter"/></g><g clip-path="url(#ca)"><polyline points="113.5,515.2 124.45,505.51 135.4,496.03 146.35,488.59 157.3,482.5 168.25,477.18 179.2,474.68 190.15,474.61 201.1,477.23 212.05,481.77 223,486.67 233.95,492.04 244.9,496.95 255.85,501.49 266.8,504.63 277.75,506.88 288.7,507.6 299.65,507.63 310.6,507.12 321.55,506.05 332.5,505.16 343.45,503.67 354.4,503.69 365.35,506.39 376.3,512.44 387.26,522.01 398.21,536.51 409.16,551.97 420.11,566.16 431.06,577.33 442.01,582.27 452.96,583.03 463.91,580.24 474.86,576.18 485.81,572.28 496.76,567.98 507.71,564.31 518.66,561.4 529.61,558.98 540.56,556.57 551.51,553.89 562.46,551.53 573.41,549.57 584.36,547.14 595.31,545.51 606.26,544.34 617.21,543.1 628.16,541.72 639.11,540.53 650.06,539.29 661.01,537.78 671.96,533.68 682.91,525.45 693.86,512.73 704.81,500.4 715.76,486.77 726.71,470.84 737.66,457.2 748.61,442.88 759.56,427.56 770.51,413.26 781.46,399.6 792.41,383.8 803.36,370.36 814.31,355.5 825.26,340.42 836.21,326.06 847.16,311.62 858.11,297.28 869.06,282.09 880.01,267.46 890.96,252.65 901.91,237.48 912.87,222.2 923.82,206.76" fill="none" stroke="#ff0000" stroke-width="1.3"/><rect x="107" y="508.7" width="13" height="13" fill="#ff0000" stroke="#ff0000" stroke-width="0.5"/><rect x="117.95" y="499.01" width="13" height="13" fill="#ff0000" stroke="#ff0000" stroke-width="0.5"/><rect x="128.9" y="489.53" width="13" height="13" fill="#ff0000" stroke="#ff0000" stroke-width="0.5"/><rect x="139.85" y="482.09" width="13" height="13" fill="#ff0000" stroke="#ff0000" stroke-width="0.5"/><rect x="150.8" y="476" width="13" height="13" fill="#ff0000" stroke="#ff0000" stroke-width="0.5"/><rect x="161.75" y="470.68" width="13" height="13" fill="#ff0000" stroke="#ff0000" stroke-width="0.5"/><rect x="172.7" y="468.18" width="13" height="13" fill="#ff0000" stroke="#ff0000" stroke-width="0.5"/><rect x="183.65" y="468.11" width="13" height="13" fill="#ff0000" stroke="#ff0000" stroke-width="0.5"/><rect x="194.6" y="470.73" width="13" height="13" fill="#ff0000" stroke="#ff0000" stroke-width="0.5"/><rect x="205.55" y="475.27" width="13" height="13" fill="#ff0000" stroke="#ff0000" stroke-width="0.5"/><rect x="216.5" y="480.17" width="13" height="13" fill="#ff0000" stroke="#ff0000" stroke-width="0.5"/><rect x="227.45" y="485.54" width="13" height="13" fill="#ff0000" stroke="#ff0000" stroke-width="0.5"/><rect x="238.4" y="490.45" width="13" height="13" fill="#ff0000" stroke="#ff0000" stroke-width="0.5"/><rect x="249.35" y="494.99" width="13" height="13" fill="#ff0000" stroke="#ff0000" stroke-width="0.5"/><rect x="260.3" y="498.13" width="13" height="13" fill="#ff0000" stroke="#ff0000" stroke-width="0.5"/><rect x="271.25" y="500.38" width="13" height="13" fill="#ff0000" stroke="#ff0000" stroke-width="0.5"/><rect x="282.2" y="501.1" width="13" height="13" fill="#ff0000" stroke="#ff0000" stroke-width="0.5"/><rect x="293.15" y="501.13" width="13" height="13" fill="#ff0000" stroke="#ff0000" stroke-width="0.5"/><rect x="304.1" y="500.62" width="13" height="13" fill="#ff0000" stroke="#ff0000" stroke-width="0.5"/><rect x="315.05" y="499.55" width="13" height="13" fill="#ff0000" stroke="#ff0000" stroke-width="0.5"/><rect x="326" y="498.66" width="13" height="13" fill="#ff0000" stroke="#ff0000" stroke-width="0.5"/><rect x="336.95" y="497.17" width="13" height="13" fill="#ff0000" stroke="#ff0000" stroke-width="0.5"/><rect x="347.9" y="497.19" width="13" height="13" fill="#ff0000" stroke="#ff0000" stroke-width="0.5"/><rect x="358.85" y="499.89" width="13" height="13" fill="#ff0000" stroke="#ff0000" stroke-width="0.5"/><rect x="369.8" y="505.94" width="13" height="13" fill="#ff0000" stroke="#ff0000" stroke-width="0.5"/><rect x="380.76" y="515.51" width="13" height="13" fill="#ff0000" stroke="#ff0000" stroke-width="0.5"/><rect x="391.71" y="530.01" width="13" height="13" fill="#ff0000" stroke="#ff0000" stroke-width="0.5"/><rect x="402.66" y="545.47" width="13" height="13" fill="#ff0000" stroke="#ff0000" stroke-width="0.5"/><rect x="413.61" y="559.66" width="13" height="13" fill="#ff0000" stroke="#ff0000" stroke-width="0.5"/><rect x="424.56" y="570.83" width="13" height="13" fill="#ff0000" stroke="#ff0000" stroke-width="0.5"/><rect x="435.51" y="575.77" width="13" height="13" fill="#ff0000" stroke="#ff0000" stroke-width="0.5"/><rect x="446.46" y="576.53" width="13" height="13" fill="#ff0000" stroke="#ff0000" stroke-width="0.5"/><rect x="457.41" y="573.74" width="13" height="13" fill="#ff0000" stroke="#ff0000" stroke-width="0.5"/><rect x="468.36" y="569.68" width="13" height="13" fill="#ff0000" stroke="#ff0000" stroke-width="0.5"/><rect x="479.31" y="565.78" width="13" height="13" fill="#ff0000" stroke="#ff0000" stroke-width="0.5"/><rect x="490.26" y="561.48" width="13" height="13" fill="#ff0000" stroke="#ff0000" stroke-width="0.5"/><rect x="501.21" y="557.81" width="13" height="13" fill="#ff0000" stroke="#ff0000" stroke-width="0.5"/><rect x="512.16" y="554.9" width="13" height="13" fill="#ff0000" stroke="#ff0000" stroke-width="0.5"/><rect x="523.11" y="552.48" width="13" height="13" fill="#ff0000" stroke="#ff0000" stroke-width="0.5"/><rect x="534.06" y="550.07" width="13" height="13" fill="#ff0000" stroke="#ff0000" stroke-width="0.5"/><rect x="545.01" y="547.39" width="13" height="13" fill="#ff0000" stroke="#ff0000" stroke-width="0.5"/><rect x="555.96" y="545.03" width="13" height="13" fill="#ff0000" stroke="#ff0000" stroke-width="0.5"/><rect x="566.91" y="543.07" width="13" height="13" fill="#ff0000" stroke="#ff0000" stroke-width="0.5"/><rect x="577.86" y="540.64" width="13" height="13" fill="#ff0000" stroke="#ff0000" stroke-width="0.5"/><rect x="588.81" y="539.01" width="13" height="13" fill="#ff0000" stroke="#ff0000" stroke-width="0.5"/><rect x="599.76" y="537.84" width="13" height="13" fill="#ff0000" stroke="#ff0000" stroke-width="0.5"/><rect x="610.71" y="536.6" width="13" height="13" fill="#ff0000" stroke="#ff0000" stroke-width="0.5"/><rect x="621.66" y="535.22" width="13" height="13" fill="#ff0000" stroke="#ff0000" stroke-width="0.5"/><rect x="632.61" y="534.03" width="13" height="13" fill="#ff0000" stroke="#ff0000" stroke-width="0.5"/><rect x="643.56" y="532.79" width="13" height="13" fill="#ff0000" stroke="#ff0000" stroke-width="0.5"/><rect x="654.51" y="531.28" width="13" height="13" fill="#ff0000" stroke="#ff0000" stroke-width="0.5"/><rect x="665.46" y="527.18" width="13" height="13" fill="#ff0000" stroke="#ff0000" stroke-width="0.5"/><rect x="676.41" y="518.95" width="13" height="13" fill="#ff0000" stroke="#ff0000" stroke-width="0.5"/><rect x="687.36" y="506.23" width="13" height="13" fill="#ff0000" stroke="#ff0000" stroke-width="0.5"/><rect x="698.31" y="493.9" width="13" height="13" fill="#ff0000" stroke="#ff0000" stroke-width="0.5"/><rect x="709.26" y="480.27" width="13" height="13" fill="#ff0000" stroke="#ff0000" stroke-width="0.5"/><rect x="720.21" y="464.34" width="13" height="13" fill="#ff0000" stroke="#ff0000" stroke-width="0.5"/><rect x="731.16" y="450.7" width="13" height="13" fill="#ff0000" stroke="#ff0000" stroke-width="0.5"/><rect x="742.11" y="436.38" width="13" height="13" fill="#ff0000" stroke="#ff0000" stroke-width="0.5"/><rect x="753.06" y="421.06" width="13" height="13" fill="#ff0000" stroke="#ff0000" stroke-width="0.5"/><rect x="764.01" y="406.76" width="13" height="13" fill="#ff0000" stroke="#ff0000" stroke-width="0.5"/><rect x="774.96" y="393.1" width="13" height="13" fill="#ff0000" stroke="#ff0000" stroke-width="0.5"/><rect x="785.91" y="377.3" width="13" height="13" fill="#ff0000" stroke="#ff0000" stroke-width="0.5"/><rect x="796.86" y="363.86" width="13" height="13" fill="#ff0000" stroke="#ff0000" stroke-width="0.5"/><rect x="807.81" y="349" width="13" height="13" fill="#ff0000" stroke="#ff0000" stroke-width="0.5"/><rect x="818.76" y="333.92" width="13" height="13" fill="#ff0000" stroke="#ff0000" stroke-width="0.5"/><rect x="829.71" y="319.56" width="13" height="13" fill="#ff0000" stroke="#ff0000" stroke-width="0.5"/><rect x="840.66" y="305.12" width="13" height="13" fill="#ff0000" stroke="#ff0000" stroke-width="0.5"/><rect x="851.61" y="290.78" width="13" height="13" fill="#ff0000" stroke="#ff0000" stroke-width="0.5"/><rect x="862.56" y="275.59" width="13" height="13" fill="#ff0000" stroke="#ff0000" stroke-width="0.5"/><rect x="873.51" y="260.96" width="13" height="13" fill="#ff0000" stroke="#ff0000" stroke-width="0.5"/><rect x="884.46" y="246.15" width="13" height="13" fill="#ff0000" stroke="#ff0000" stroke-width="0.5"/><rect x="895.41" y="230.98" width="13" height="13" fill="#ff0000" stroke="#ff0000" stroke-width="0.5"/><rect x="906.37" y="215.7" width="13" height="13" fill="#ff0000" stroke="#ff0000" stroke-width="0.5"/><rect x="917.32" y="200.26" width="13" height="13" fill="#ff0000" stroke="#ff0000" stroke-width="0.5"/></g><g clip-path="url(#ca)"><polyline points="113.5,505.9 124.45,495.4 135.4,485.48 146.35,474.65 157.3,465.05 168.25,455.51 179.2,448.16 190.15,442.06 201.1,436.52 212.05,433.02 223,431.57 233.95,431.02 244.9,431.47 255.85,432.54 266.8,433.91 277.75,435.01 288.7,435.04 299.65,433.88 310.6,432.65 321.55,431.47 332.5,430.24 343.45,428.93 354.4,427.83 365.35,428.23 376.3,433.81 387.26,443.06 398.21,458.82 409.16,482.26 420.11,512.93 431.06,548.23 442.01,569.69 452.96,577.33 463.91,575.47 474.86,572.97 485.81,570.35 496.76,566.49 507.71,563.06 518.66,560.11 529.61,557.68 540.56,555.26 551.51,552.5 562.46,550.11 573.41,548.09 584.36,545.64 595.31,544.01 606.26,542.84 617.21,541.6 628.16,540.22 639.11,539.03 650.06,537.79 661.01,536.28 671.96,532.18 682.91,523.95 693.86,511.23 704.81,498.66 715.76,484.48 726.71,468.34 737.66,454.7 748.61,440.38 759.56,425.06 770.51,410.76 781.46,397.1 792.41,381.3 803.36,367.86 814.31,353 825.26,337.92 836.21,323.56 847.16,309.12 858.11,294.78 869.06,279.59 880.01,264.96 890.96,250.15 901.91,234.98 912.87,219.7 923.82,204.26" fill="none" stroke="#008080" stroke-width="1.3"/><path d="M113.5 498.4L122 513.4L105 513.4Z" fill="#008080" stroke="#008080" stroke-width="0.8" stroke-linejoin="miter"/><path d="M124.45 487.9L132.95 502.9L115.95 502.9Z" fill="#008080" stroke="#008080" stroke-width="0.8" stroke-linejoin="miter"/><path d="M135.4 477.98L143.9 492.98L126.9 492.98Z" fill="#008080" stroke="#008080" stroke-width="0.8" stroke-linejoin="miter"/><path d="M146.35 467.15L154.85 482.15L137.85 482.15Z" fill="#008080" stroke="#008080" stroke-width="0.8" stroke-linejoin="miter"/><path d="M157.3 457.55L165.8 472.55L148.8 472.55Z" fill="#008080" stroke="#008080" stroke-width="0.8" stroke-linejoin="miter"/><path d="M168.25 448.01L176.75 463.01L159.75 463.01Z" fill="#008080" stroke="#008080" stroke-width="0.8" stroke-linejoin="miter"/><path d="M179.2 440.66L187.7 455.66L170.7 455.66Z" fill="#008080" stroke="#008080" stroke-width="0.8" stroke-linejoin="miter"/><path d="M190.15 434.56L198.65 449.56L181.65 449.56Z" fill="#008080" stroke="#008080" stroke-width="0.8" stroke-linejoin="miter"/><path d="M201.1 429.02L209.6 444.02L192.6 444.02Z" fill="#008080" stroke="#008080" stroke-width="0.8" stroke-linejoin="miter"/><path d="M212.05 425.52L220.55 440.52L203.55 440.52Z" fill="#008080" stroke="#008080" stroke-width="0.8" stroke-linejoin="miter"/><path d="M223 424.07L231.5 439.07L214.5 439.07Z" fill="#008080" stroke="#008080" stroke-width="0.8" stroke-linejoin="miter"/><path d="M233.95 423.52L242.45 438.52L225.45 438.52Z" fill="#008080" stroke="#008080" stroke-width="0.8" stroke-linejoin="miter"/><path d="M244.9 423.97L253.4 438.97L236.4 438.97Z" fill="#008080" stroke="#008080" stroke-width="0.8" stroke-linejoin="miter"/><path d="M255.85 425.04L264.35 440.04L247.35 440.04Z" fill="#008080" stroke="#008080" stroke-width="0.8" stroke-linejoin="miter"/><path d="M266.8 426.41L275.3 441.41L258.3 441.41Z" fill="#008080" stroke="#008080" stroke-width="0.8" stroke-linejoin="miter"/><path d="M277.75 427.51L286.25 442.51L269.25 442.51Z" fill="#008080" stroke="#008080" stroke-width="0.8" stroke-linejoin="miter"/><path d="M288.7 427.54L297.2 442.54L280.2 442.54Z" fill="#008080" stroke="#008080" stroke-width="0.8" stroke-linejoin="miter"/><path d="M299.65 426.38L308.15 441.38L291.15 441.38Z" fill="#008080" stroke="#008080" stroke-width="0.8" stroke-linejoin="miter"/><path d="M310.6 425.15L319.1 440.15L302.1 440.15Z" fill="#008080" stroke="#008080" stroke-width="0.8" stroke-linejoin="miter"/><path d="M321.55 423.97L330.05 438.97L313.05 438.97Z" fill="#008080" stroke="#008080" stroke-width="0.8" stroke-linejoin="miter"/><path d="M332.5 422.74L341 437.74L324 437.74Z" fill="#008080" stroke="#008080" stroke-width="0.8" stroke-linejoin="miter"/><path d="M343.45 421.43L351.95 436.43L334.95 436.43Z" fill="#008080" stroke="#008080" stroke-width="0.8" stroke-linejoin="miter"/><path d="M354.4 420.33L362.9 435.33L345.9 435.33Z" fill="#008080" stroke="#008080" stroke-width="0.8" stroke-linejoin="miter"/><path d="M365.35 420.73L373.85 435.73L356.85 435.73Z" fill="#008080" stroke="#008080" stroke-width="0.8" stroke-linejoin="miter"/><path d="M376.3 426.31L384.8 441.31L367.8 441.31Z" fill="#008080" stroke="#008080" stroke-width="0.8" stroke-linejoin="miter"/><path d="M387.26 435.56L395.76 450.56L378.76 450.56Z" fill="#008080" stroke="#008080" stroke-width="0.8" stroke-linejoin="miter"/><path d="M398.21 451.32L406.71 466.32L389.71 466.32Z" fill="#008080" stroke="#008080" stroke-width="0.8" stroke-linejoin="miter"/><path d="M409.16 474.76L417.66 489.76L400.66 489.76Z" fill="#008080" stroke="#008080" stroke-width="0.8" stroke-linejoin="miter"/><path d="M420.11 505.43L428.61 520.43L411.61 520.43Z" fill="#008080" stroke="#008080" stroke-width="0.8" stroke-linejoin="miter"/><path d="M431.06 540.73L439.56 555.73L422.56 555.73Z" fill="#008080" stroke="#008080" stroke-width="0.8" stroke-linejoin="miter"/><path d="M442.01 562.19L450.51 577.19L433.51 577.19Z" fill="#008080" stroke="#008080" stroke-width="0.8" stroke-linejoin="miter"/><path d="M452.96 569.83L461.46 584.83L444.46 584.83Z" fill="#008080" stroke="#008080" stroke-width="0.8" stroke-linejoin="miter"/><path d="M463.91 567.97L472.41 582.97L455.41 582.97Z" fill="#008080" stroke="#008080" stroke-width="0.8" stroke-linejoin="miter"/><path d="M474.86 565.47L483.36 580.47L466.36 580.47Z" fill="#008080" stroke="#008080" stroke-width="0.8" stroke-linejoin="miter"/><path d="M485.81 562.85L494.31 577.85L477.31 577.85Z" fill="#008080" stroke="#008080" stroke-width="0.8" stroke-linejoin="miter"/><path d="M496.76 558.99L505.26 573.99L488.26 573.99Z" fill="#008080" stroke="#008080" stroke-width="0.8" stroke-linejoin="miter"/><path d="M507.71 555.56L516.21 570.56L499.21 570.56Z" fill="#008080" stroke="#008080" stroke-width="0.8" stroke-linejoin="miter"/><path d="M518.66 552.61L527.16 567.61L510.16 567.61Z" fill="#008080" stroke="#008080" stroke-width="0.8" stroke-linejoin="miter"/><path d="M529.61 550.18L538.11 565.18L521.11 565.18Z" fill="#008080" stroke="#008080" stroke-width="0.8" stroke-linejoin="miter"/><path d="M540.56 547.76L549.06 562.76L532.06 562.76Z" fill="#008080" stroke="#008080" stroke-width="0.8" stroke-linejoin="miter"/><path d="M551.51 545L560.01 560L543.01 560Z" fill="#008080" stroke="#008080" stroke-width="0.8" stroke-linejoin="miter"/><path d="M562.46 542.61L570.96 557.61L553.96 557.61Z" fill="#008080" stroke="#008080" stroke-width="0.8" stroke-linejoin="miter"/><path d="M573.41 540.59L581.91 555.59L564.91 555.59Z" fill="#008080" stroke="#008080" stroke-width="0.8" stroke-linejoin="miter"/><path d="M584.36 538.14L592.86 553.14L575.86 553.14Z" fill="#008080" stroke="#008080" stroke-width="0.8" stroke-linejoin="miter"/><path d="M595.31 536.51L603.81 551.51L586.81 551.51Z" fill="#008080" stroke="#008080" stroke-width="0.8" stroke-linejoin="miter"/><path d="M606.26 535.34L614.76 550.34L597.76 550.34Z" fill="#008080" stroke="#008080" stroke-width="0.8" stroke-linejoin="miter"/><path d="M617.21 534.1L625.71 549.1L608.71 549.1Z" fill="#008080" stroke="#008080" stroke-width="0.8" stroke-linejoin="miter"/><path d="M628.16 532.72L636.66 547.72L619.66 547.72Z" fill="#008080" stroke="#008080" stroke-width="0.8" stroke-linejoin="miter"/><path d="M639.11 531.53L647.61 546.53L630.61 546.53Z" fill="#008080" stroke="#008080" stroke-width="0.8" stroke-linejoin="miter"/><path d="M650.06 530.29L658.56 545.29L641.56 545.29Z" fill="#008080" stroke="#008080" stroke-width="0.8" stroke-linejoin="miter"/><path d="M661.01 528.78L669.51 543.78L652.51 543.78Z" fill="#008080" stroke="#008080" stroke-width="0.8" stroke-linejoin="miter"/><path d="M671.96 524.68L680.46 539.68L663.46 539.68Z" fill="#008080" stroke="#008080" stroke-width="0.8" stroke-linejoin="miter"/><path d="M682.91 516.45L691.41 531.45L674.41 531.45Z" fill="#008080" stroke="#008080" stroke-width="0.8" stroke-linejoin="miter"/><path d="M693.86 503.73L702.36 518.73L685.36 518.73Z" fill="#008080" stroke="#008080" stroke-width="0.8" stroke-linejoin="miter"/><path d="M704.81 491.16L713.31 506.16L696.31 506.16Z" fill="#008080" stroke="#008080" stroke-width="0.8" stroke-linejoin="miter"/><path d="M715.76 476.98L724.26 491.98L707.26 491.98Z" fill="#008080" stroke="#008080" stroke-width="0.8" stroke-linejoin="miter"/><path d="M726.71 460.84L735.21 475.84L718.21 475.84Z" fill="#008080" stroke="#008080" stroke-width="0.8" stroke-linejoin="miter"/><path d="M737.66 447.2L746.16 462.2L729.16 462.2Z" fill="#008080" stroke="#008080" stroke-width="0.8" stroke-linejoin="miter"/><path d="M748.61 432.88L757.11 447.88L740.11 447.88Z" fill="#008080" stroke="#008080" stroke-width="0.8" stroke-linejoin="miter"/><path d="M759.56 417.56L768.06 432.56L751.06 432.56Z" fill="#008080" stroke="#008080" stroke-width="0.8" stroke-linejoin="miter"/><path d="M770.51 403.26L779.01 418.26L762.01 418.26Z" fill="#008080" stroke="#008080" stroke-width="0.8" stroke-linejoin="miter"/><path d="M781.46 389.6L789.96 404.6L772.96 404.6Z" fill="#008080" stroke="#008080" stroke-width="0.8" stroke-linejoin="miter"/><path d="M792.41 373.8L800.91 388.8L783.91 388.8Z" fill="#008080" stroke="#008080" stroke-width="0.8" stroke-linejoin="miter"/><path d="M803.36 360.36L811.86 375.36L794.86 375.36Z" fill="#008080" stroke="#008080" stroke-width="0.8" stroke-linejoin="miter"/><path d="M814.31 345.5L822.81 360.5L805.81 360.5Z" fill="#008080" stroke="#008080" stroke-width="0.8" stroke-linejoin="miter"/><path d="M825.26 330.42L833.76 345.42L816.76 345.42Z" fill="#008080" stroke="#008080" stroke-width="0.8" stroke-linejoin="miter"/><path d="M836.21 316.06L844.71 331.06L827.71 331.06Z" fill="#008080" stroke="#008080" stroke-width="0.8" stroke-linejoin="miter"/><path d="M847.16 301.62L855.66 316.62L838.66 316.62Z" fill="#008080" stroke="#008080" stroke-width="0.8" stroke-linejoin="miter"/><path d="M858.11 287.28L866.61 302.28L849.61 302.28Z" fill="#008080" stroke="#008080" stroke-width="0.8" stroke-linejoin="miter"/><path d="M869.06 272.09L877.56 287.09L860.56 287.09Z" fill="#008080" stroke="#008080" stroke-width="0.8" stroke-linejoin="miter"/><path d="M880.01 257.46L888.51 272.46L871.51 272.46Z" fill="#008080" stroke="#008080" stroke-width="0.8" stroke-linejoin="miter"/><path d="M890.96 242.65L899.46 257.65L882.46 257.65Z" fill="#008080" stroke="#008080" stroke-width="0.8" stroke-linejoin="miter"/><path d="M901.91 227.48L910.41 242.48L893.41 242.48Z" fill="#008080" stroke="#008080" stroke-width="0.8" stroke-linejoin="miter"/><path d="M912.87 212.2L921.37 227.2L904.37 227.2Z" fill="#008080" stroke="#008080" stroke-width="0.8" stroke-linejoin="miter"/><path d="M923.82 196.76L932.32 211.76L915.32 211.76Z" fill="#008080" stroke="#008080" stroke-width="0.8" stroke-linejoin="miter"/></g><g clip-path="url(#cb)"><polyline points="113.8,1273 124.82,1265.61 135.83,1258.55 146.85,1253.76 157.86,1250.23 168.88,1249.97 179.9,1253.22 190.91,1258.15 201.93,1265.54 212.95,1274.69 223.96,1283.84 234.98,1291.08 245.99,1296.04 257.01,1299.16 268.03,1302 279.04,1304.08 290.06,1305.65 301.08,1307.11 312.09,1308.33 323.11,1308.96 334.12,1309.74 345.14,1310.72 356.16,1312.65 367.17,1315.62 378.19,1319.2 389.21,1322.55 400.22,1327.53 411.24,1331.24 422.25,1334.05 433.27,1335.03 444.29,1333.86 455.3,1330.96 466.32,1327.09 477.33,1322.54 488.35,1318.04 499.37,1314.08 510.38,1310.88 521.4,1307.37 532.42,1305.05 543.43,1302.69 554.45,1300.66 565.46,1299.06 576.48,1297.49 587.5,1295.82 598.51,1294.79 609.53,1294.03 620.55,1293.09 631.56,1292.32 642.58,1291.35 653.59,1290.19 664.61,1287.21 675.63,1282.14 686.64,1274.44 697.66,1265.07 708.68,1251.55 719.69,1234.92 730.71,1220.75 741.72,1205.72 752.74,1191.71 763.76,1176.81 774.77,1163.52 785.79,1148.64 796.8,1134.62 807.82,1119.6 818.84,1105.58 829.85,1090.56 840.87,1076.54 851.89,1061.72 862.9,1048.79 873.92,1035.45 884.93,1019.88 895.95,1005.71 906.97,990.7 917.98,976.66 929,961.5" fill="none" stroke="#ff0000" stroke-width="1.3"/><rect x="107.3" y="1266.5" width="13" height="13" fill="#ff0000" stroke="#ff0000" stroke-width="0.5"/><rect x="118.32" y="1259.11" width="13" height="13" fill="#ff0000" stroke="#ff0000" stroke-width="0.5"/><rect x="129.33" y="1252.05" width="13" height="13" fill="#ff0000" stroke="#ff0000" stroke-width="0.5"/><rect x="140.35" y="1247.26" width="13" height="13" fill="#ff0000" stroke="#ff0000" stroke-width="0.5"/><rect x="151.36" y="1243.73" width="13" height="13" fill="#ff0000" stroke="#ff0000" stroke-width="0.5"/><rect x="162.38" y="1243.47" width="13" height="13" fill="#ff0000" stroke="#ff0000" stroke-width="0.5"/><rect x="173.4" y="1246.72" width="13" height="13" fill="#ff0000" stroke="#ff0000" stroke-width="0.5"/><rect x="184.41" y="1251.65" width="13" height="13" fill="#ff0000" stroke="#ff0000" stroke-width="0.5"/><rect x="195.43" y="1259.04" width="13" height="13" fill="#ff0000" stroke="#ff0000" stroke-width="0.5"/><rect x="206.45" y="1268.19" width="13" height="13" fill="#ff0000" stroke="#ff0000" stroke-width="0.5"/><rect x="217.46" y="1277.34" width="13" height="13" fill="#ff0000" stroke="#ff0000" stroke-width="0.5"/><rect x="228.48" y="1284.58" width="13" height="13" fill="#ff0000" stroke="#ff0000" stroke-width="0.5"/><rect x="239.49" y="1289.54" width="13" height="13" fill="#ff0000" stroke="#ff0000" stroke-width="0.5"/><rect x="250.51" y="1292.66" width="13" height="13" fill="#ff0000" stroke="#ff0000" stroke-width="0.5"/><rect x="261.53" y="1295.5" width="13" height="13" fill="#ff0000" stroke="#ff0000" stroke-width="0.5"/><rect x="272.54" y="1297.58" width="13" height="13" fill="#ff0000" stroke="#ff0000" stroke-width="0.5"/><rect x="283.56" y="1299.15" width="13" height="13" fill="#ff0000" stroke="#ff0000" stroke-width="0.5"/><rect x="294.58" y="1300.61" width="13" height="13" fill="#ff0000" stroke="#ff0000" stroke-width="0.5"/><rect x="305.59" y="1301.83" width="13" height="13" fill="#ff0000" stroke="#ff0000" stroke-width="0.5"/><rect x="316.61" y="1302.46" width="13" height="13" fill="#ff0000" stroke="#ff0000" stroke-width="0.5"/><rect x="327.62" y="1303.24" width="13" height="13" fill="#ff0000" stroke="#ff0000" stroke-width="0.5"/><rect x="338.64" y="1304.22" width="13" height="13" fill="#ff0000" stroke="#ff0000" stroke-width="0.5"/><rect x="349.66" y="1306.15" width="13" height="13" fill="#ff0000" stroke="#ff0000" stroke-width="0.5"/><rect x="360.67" y="1309.12" width="13" height="13" fill="#ff0000" stroke="#ff0000" stroke-width="0.5"/><rect x="371.69" y="1312.7" width="13" height="13" fill="#ff0000" stroke="#ff0000" stroke-width="0.5"/><rect x="382.71" y="1316.05" width="13" height="13" fill="#ff0000" stroke="#ff0000" stroke-width="0.5"/><rect x="393.72" y="1321.03" width="13" height="13" fill="#ff0000" stroke="#ff0000" stroke-width="0.5"/><rect x="404.74" y="1324.74" width="13" height="13" fill="#ff0000" stroke="#ff0000" stroke-width="0.5"/><rect x="415.75" y="1327.55" width="13" height="13" fill="#ff0000" stroke="#ff0000" stroke-width="0.5"/><rect x="426.77" y="1328.53" width="13" height="13" fill="#ff0000" stroke="#ff0000" stroke-width="0.5"/><rect x="437.79" y="1327.36" width="13" height="13" fill="#ff0000" stroke="#ff0000" stroke-width="0.5"/><rect x="448.8" y="1324.46" width="13" height="13" fill="#ff0000" stroke="#ff0000" stroke-width="0.5"/><rect x="459.82" y="1320.59" width="13" height="13" fill="#ff0000" stroke="#ff0000" stroke-width="0.5"/><rect x="470.83" y="1316.04" width="13" height="13" fill="#ff0000" stroke="#ff0000" stroke-width="0.5"/><rect x="481.85" y="1311.54" width="13" height="13" fill="#ff0000" stroke="#ff0000" stroke-width="0.5"/><rect x="492.87" y="1307.58" width="13" height="13" fill="#ff0000" stroke="#ff0000" stroke-width="0.5"/><rect x="503.88" y="1304.38" width="13" height="13" fill="#ff0000" stroke="#ff0000" stroke-width="0.5"/><rect x="514.9" y="1300.87" width="13" height="13" fill="#ff0000" stroke="#ff0000" stroke-width="0.5"/><rect x="525.92" y="1298.55" width="13" height="13" fill="#ff0000" stroke="#ff0000" stroke-width="0.5"/><rect x="536.93" y="1296.19" width="13" height="13" fill="#ff0000" stroke="#ff0000" stroke-width="0.5"/><rect x="547.95" y="1294.16" width="13" height="13" fill="#ff0000" stroke="#ff0000" stroke-width="0.5"/><rect x="558.96" y="1292.56" width="13" height="13" fill="#ff0000" stroke="#ff0000" stroke-width="0.5"/><rect x="569.98" y="1290.99" width="13" height="13" fill="#ff0000" stroke="#ff0000" stroke-width="0.5"/><rect x="581" y="1289.32" width="13" height="13" fill="#ff0000" stroke="#ff0000" stroke-width="0.5"/><rect x="592.01" y="1288.29" width="13" height="13" fill="#ff0000" stroke="#ff0000" stroke-width="0.5"/><rect x="603.03" y="1287.53" width="13" height="13" fill="#ff0000" stroke="#ff0000" stroke-width="0.5"/><rect x="614.05" y="1286.59" width="13" height="13" fill="#ff0000" stroke="#ff0000" stroke-width="0.5"/><rect x="625.06" y="1285.82" width="13" height="13" fill="#ff0000" stroke="#ff0000" stroke-width="0.5"/><rect x="636.08" y="1284.85" width="13" height="13" fill="#ff0000" stroke="#ff0000" stroke-width="0.5"/><rect x="647.09" y="1283.69" width="13" height="13" fill="#ff0000" stroke="#ff0000" stroke-width="0.5"/><rect x="658.11" y="1280.71" width="13" height="13" fill="#ff0000" stroke="#ff0000" stroke-width="0.5"/><rect x="669.13" y="1275.64" width="13" height="13" fill="#ff0000" stroke="#ff0000" stroke-width="0.5"/><rect x="680.14" y="1267.94" width="13" height="13" fill="#ff0000" stroke="#ff0000" stroke-width="0.5"/><rect x="691.16" y="1258.57" width="13" height="13" fill="#ff0000" stroke="#ff0000" stroke-width="0.5"/><rect x="702.18" y="1245.05" width="13" height="13" fill="#ff0000" stroke="#ff0000" stroke-width="0.5"/><rect x="713.19" y="1228.42" width="13" height="13" fill="#ff0000" stroke="#ff0000" stroke-width="0.5"/><rect x="724.21" y="1214.25" width="13" height="13" fill="#ff0000" stroke="#ff0000" stroke-width="0.5"/><rect x="735.22" y="1199.22" width="13" height="13" fill="#ff0000" stroke="#ff0000" stroke-width="0.5"/><rect x="746.24" y="1185.21" width="13" height="13" fill="#ff0000" stroke="#ff0000" stroke-width="0.5"/><rect x="757.26" y="1170.31" width="13" height="13" fill="#ff0000" stroke="#ff0000" stroke-width="0.5"/><rect x="768.27" y="1157.02" width="13" height="13" fill="#ff0000" stroke="#ff0000" stroke-width="0.5"/><rect x="779.29" y="1142.14" width="13" height="13" fill="#ff0000" stroke="#ff0000" stroke-width="0.5"/><rect x="790.3" y="1128.12" width="13" height="13" fill="#ff0000" stroke="#ff0000" stroke-width="0.5"/><rect x="801.32" y="1113.1" width="13" height="13" fill="#ff0000" stroke="#ff0000" stroke-width="0.5"/><rect x="812.34" y="1099.08" width="13" height="13" fill="#ff0000" stroke="#ff0000" stroke-width="0.5"/><rect x="823.35" y="1084.06" width="13" height="13" fill="#ff0000" stroke="#ff0000" stroke-width="0.5"/><rect x="834.37" y="1070.04" width="13" height="13" fill="#ff0000" stroke="#ff0000" stroke-width="0.5"/><rect x="845.39" y="1055.22" width="13" height="13" fill="#ff0000" stroke="#ff0000" stroke-width="0.5"/><rect x="856.4" y="1042.29" width="13" height="13" fill="#ff0000" stroke="#ff0000" stroke-width="0.5"/><rect x="867.42" y="1028.95" width="13" height="13" fill="#ff0000" stroke="#ff0000" stroke-width="0.5"/><rect x="878.43" y="1013.38" width="13" height="13" fill="#ff0000" stroke="#ff0000" stroke-width="0.5"/><rect x="889.45" y="999.21" width="13" height="13" fill="#ff0000" stroke="#ff0000" stroke-width="0.5"/><rect x="900.47" y="984.2" width="13" height="13" fill="#ff0000" stroke="#ff0000" stroke-width="0.5"/><rect x="911.48" y="970.16" width="13" height="13" fill="#ff0000" stroke="#ff0000" stroke-width="0.5"/><rect x="922.5" y="955" width="13" height="13" fill="#ff0000" stroke="#ff0000" stroke-width="0.5"/></g><g clip-path="url(#cb)"><polyline points="113.8,1265 124.82,1255.48 135.83,1245.63 146.85,1236.57 157.86,1228.69 168.88,1222.58 179.9,1218.49 190.91,1216.41 201.93,1216.73 212.95,1219.83 223.96,1222.93 234.98,1226.58 245.99,1229.74 257.01,1233.07 268.03,1234.84 279.04,1236.41 290.06,1236.71 301.08,1237.41 312.09,1237.48 323.11,1236.67 334.12,1235.56 345.14,1234.29 356.16,1232.15 367.17,1230.09 378.19,1228.16 389.21,1226.57 400.22,1225 411.24,1224.83 422.25,1224.98 433.27,1226.85 444.29,1232.21 455.3,1240.39 466.32,1251.4 477.33,1265.33 488.35,1280.33 499.37,1293.33 510.38,1299.65 521.4,1301.92 532.42,1301.15 543.43,1300.67 554.45,1299.66 565.46,1298.24 576.48,1296.67 587.5,1294.98 598.51,1294.09 609.53,1293.21 620.55,1292.19 631.56,1291.45 642.58,1290.67 653.59,1289.68 664.61,1287.36 675.63,1282.3 686.64,1274.52 697.66,1265.17 708.68,1252.77 719.69,1236.86 730.71,1222.75 741.72,1207.72 752.74,1193.71 763.76,1178.81 774.77,1165.52 785.79,1150.64 796.8,1136.62 807.82,1121.6 818.84,1107.58 829.85,1092.56 840.87,1078.54 851.89,1063.66 862.9,1050.36 873.92,1036.95 884.93,1021.38 895.95,1007.21 906.97,992.2 917.98,978.16 929,963" fill="none" stroke="#008080" stroke-width="1.3"/><path d="M113.8 1257.5L122.3 1272.5L105.3 1272.5Z" fill="#008080" stroke="#008080" stroke-width="0.8" stroke-linejoin="miter"/><path d="M124.82 1247.98L133.32 1262.98L116.32 1262.98Z" fill="#008080" stroke="#008080" stroke-width="0.8" stroke-linejoin="miter"/><path d="M135.83 1238.13L144.33 1253.13L127.33 1253.13Z" fill="#008080" stroke="#008080" stroke-width="0.8" stroke-linejoin="miter"/><path d="M146.85 1229.07L155.35 1244.07L138.35 1244.07Z" fill="#008080" stroke="#008080" stroke-width="0.8" stroke-linejoin="miter"/><path d="M157.86 1221.19L166.36 1236.19L149.36 1236.19Z" fill="#008080" stroke="#008080" stroke-width="0.8" stroke-linejoin="miter"/><path d="M168.88 1215.08L177.38 1230.08L160.38 1230.08Z" fill="#008080" stroke="#008080" stroke-width="0.8" stroke-linejoin="miter"/><path d="M179.9 1210.99L188.4 1225.99L171.4 1225.99Z" fill="#008080" stroke="#008080" stroke-width="0.8" stroke-linejoin="miter"/><path d="M190.91 1208.91L199.41 1223.91L182.41 1223.91Z" fill="#008080" stroke="#008080" stroke-width="0.8" stroke-linejoin="miter"/><path d="M201.93 1209.23L210.43 1224.23L193.43 1224.23Z" fill="#008080" stroke="#008080" stroke-width="0.8" stroke-linejoin="miter"/><path d="M212.95 1212.33L221.45 1227.33L204.45 1227.33Z" fill="#008080" stroke="#008080" stroke-width="0.8" stroke-linejoin="miter"/><path d="M223.96 1215.43L232.46 1230.43L215.46 1230.43Z" fill="#008080" stroke="#008080" stroke-width="0.8" stroke-linejoin="miter"/><path d="M234.98 1219.08L243.48 1234.08L226.48 1234.08Z" fill="#008080" stroke="#008080" stroke-width="0.8" stroke-linejoin="miter"/><path d="M245.99 1222.24L254.49 1237.24L237.49 1237.24Z" fill="#008080" stroke="#008080" stroke-width="0.8" stroke-linejoin="miter"/><path d="M257.01 1225.57L265.51 1240.57L248.51 1240.57Z" fill="#008080" stroke="#008080" stroke-width="0.8" stroke-linejoin="miter"/><path d="M268.03 1227.34L276.53 1242.34L259.53 1242.34Z" fill="#008080" stroke="#008080" stroke-width="0.8" stroke-linejoin="miter"/><path d="M279.04 1228.91L287.54 1243.91L270.54 1243.91Z" fill="#008080" stroke="#008080" stroke-width="0.8" stroke-linejoin="miter"/><path d="M290.06 1229.21L298.56 1244.21L281.56 1244.21Z" fill="#008080" stroke="#008080" stroke-width="0.8" stroke-linejoin="miter"/><path d="M301.08 1229.91L309.58 1244.91L292.58 1244.91Z" fill="#008080" stroke="#008080" stroke-width="0.8" stroke-linejoin="miter"/><path d="M312.09 1229.98L320.59 1244.98L303.59 1244.98Z" fill="#008080" stroke="#008080" stroke-width="0.8" stroke-linejoin="miter"/><path d="M323.11 1229.17L331.61 1244.17L314.61 1244.17Z" fill="#008080" stroke="#008080" stroke-width="0.8" stroke-linejoin="miter"/><path d="M334.12 1228.06L342.62 1243.06L325.62 1243.06Z" fill="#008080" stroke="#008080" stroke-width="0.8" stroke-linejoin="miter"/><path d="M345.14 1226.79L353.64 1241.79L336.64 1241.79Z" fill="#008080" stroke="#008080" stroke-width="0.8" stroke-linejoin="miter"/><path d="M356.16 1224.65L364.66 1239.65L347.66 1239.65Z" fill="#008080" stroke="#008080" stroke-width="0.8" stroke-linejoin="miter"/><path d="M367.17 1222.59L375.67 1237.59L358.67 1237.59Z" fill="#008080" stroke="#008080" stroke-width="0.8" stroke-linejoin="miter"/><path d="M378.19 1220.66L386.69 1235.66L369.69 1235.66Z" fill="#008080" stroke="#008080" stroke-width="0.8" stroke-linejoin="miter"/><path d="M389.21 1219.07L397.71 1234.07L380.71 1234.07Z" fill="#008080" stroke="#008080" stroke-width="0.8" stroke-linejoin="miter"/><path d="M400.22 1217.5L408.72 1232.5L391.72 1232.5Z" fill="#008080" stroke="#008080" stroke-width="0.8" stroke-linejoin="miter"/><path d="M411.24 1217.33L419.74 1232.33L402.74 1232.33Z" fill="#008080" stroke="#008080" stroke-width="0.8" stroke-linejoin="miter"/><path d="M422.25 1217.48L430.75 1232.48L413.75 1232.48Z" fill="#008080" stroke="#008080" stroke-width="0.8" stroke-linejoin="miter"/><path d="M433.27 1219.35L441.77 1234.35L424.77 1234.35Z" fill="#008080" stroke="#008080" stroke-width="0.8" stroke-linejoin="miter"/><path d="M444.29 1224.71L452.79 1239.71L435.79 1239.71Z" fill="#008080" stroke="#008080" stroke-width="0.8" stroke-linejoin="miter"/><path d="M455.3 1232.89L463.8 1247.89L446.8 1247.89Z" fill="#008080" stroke="#008080" stroke-width="0.8" stroke-linejoin="miter"/><path d="M466.32 1243.9L474.82 1258.9L457.82 1258.9Z" fill="#008080" stroke="#008080" stroke-width="0.8" stroke-linejoin="miter"/><path d="M477.33 1257.83L485.83 1272.83L468.83 1272.83Z" fill="#008080" stroke="#008080" stroke-width="0.8" stroke-linejoin="miter"/><path d="M488.35 1272.83L496.85 1287.83L479.85 1287.83Z" fill="#008080" stroke="#008080" stroke-width="0.8" stroke-linejoin="miter"/><path d="M499.37 1285.83L507.87 1300.83L490.87 1300.83Z" fill="#008080" stroke="#008080" stroke-width="0.8" stroke-linejoin="miter"/><path d="M510.38 1292.15L518.88 1307.15L501.88 1307.15Z" fill="#008080" stroke="#008080" stroke-width="0.8" stroke-linejoin="miter"/><path d="M521.4 1294.42L529.9 1309.42L512.9 1309.42Z" fill="#008080" stroke="#008080" stroke-width="0.8" stroke-linejoin="miter"/><path d="M532.42 1293.65L540.92 1308.65L523.92 1308.65Z" fill="#008080" stroke="#008080" stroke-width="0.8" stroke-linejoin="miter"/><path d="M543.43 1293.17L551.93 1308.17L534.93 1308.17Z" fill="#008080" stroke="#008080" stroke-width="0.8" stroke-linejoin="miter"/><path d="M554.45 1292.16L562.95 1307.16L545.95 1307.16Z" fill="#008080" stroke="#008080" stroke-width="0.8" stroke-linejoin="miter"/><path d="M565.46 1290.74L573.96 1305.74L556.96 1305.74Z" fill="#008080" stroke="#008080" stroke-width="0.8" stroke-linejoin="miter"/><path d="M576.48 1289.17L584.98 1304.17L567.98 1304.17Z" fill="#008080" stroke="#008080" stroke-width="0.8" stroke-linejoin="miter"/><path d="M587.5 1287.48L596 1302.48L579 1302.48Z" fill="#008080" stroke="#008080" stroke-width="0.8" stroke-linejoin="miter"/><path d="M598.51 1286.59L607.01 1301.59L590.01 1301.59Z" fill="#008080" stroke="#008080" stroke-width="0.8" stroke-linejoin="miter"/><path d="M609.53 1285.71L618.03 1300.71L601.03 1300.71Z" fill="#008080" stroke="#008080" stroke-width="0.8" stroke-linejoin="miter"/><path d="M620.55 1284.69L629.05 1299.69L612.05 1299.69Z" fill="#008080" stroke="#008080" stroke-width="0.8" stroke-linejoin="miter"/><path d="M631.56 1283.95L640.06 1298.95L623.06 1298.95Z" fill="#008080" stroke="#008080" stroke-width="0.8" stroke-linejoin="miter"/><path d="M642.58 1283.17L651.08 1298.17L634.08 1298.17Z" fill="#008080" stroke="#008080" stroke-width="0.8" stroke-linejoin="miter"/><path d="M653.59 1282.18L662.09 1297.18L645.09 1297.18Z" fill="#008080" stroke="#008080" stroke-width="0.8" stroke-linejoin="miter"/><path d="M664.61 1279.86L673.11 1294.86L656.11 1294.86Z" fill="#008080" stroke="#008080" stroke-width="0.8" stroke-linejoin="miter"/><path d="M675.63 1274.8L684.13 1289.8L667.13 1289.8Z" fill="#008080" stroke="#008080" stroke-width="0.8" stroke-linejoin="miter"/><path d="M686.64 1267.02L695.14 1282.02L678.14 1282.02Z" fill="#008080" stroke="#008080" stroke-width="0.8" stroke-linejoin="miter"/><path d="M697.66 1257.67L706.16 1272.67L689.16 1272.67Z" fill="#008080" stroke="#008080" stroke-width="0.8" stroke-linejoin="miter"/><path d="M708.68 1245.27L717.18 1260.27L700.18 1260.27Z" fill="#008080" stroke="#008080" stroke-width="0.8" stroke-linejoin="miter"/><path d="M719.69 1229.36L728.19 1244.36L711.19 1244.36Z" fill="#008080" stroke="#008080" stroke-width="0.8" stroke-linejoin="miter"/><path d="M730.71 1215.25L739.21 1230.25L722.21 1230.25Z" fill="#008080" stroke="#008080" stroke-width="0.8" stroke-linejoin="miter"/><path d="M741.72 1200.22L750.22 1215.22L733.22 1215.22Z" fill="#008080" stroke="#008080" stroke-width="0.8" stroke-linejoin="miter"/><path d="M752.74 1186.21L761.24 1201.21L744.24 1201.21Z" fill="#008080" stroke="#008080" stroke-width="0.8" stroke-linejoin="miter"/><path d="M763.76 1171.31L772.26 1186.31L755.26 1186.31Z" fill="#008080" stroke="#008080" stroke-width="0.8" stroke-linejoin="miter"/><path d="M774.77 1158.02L783.27 1173.02L766.27 1173.02Z" fill="#008080" stroke="#008080" stroke-width="0.8" stroke-linejoin="miter"/><path d="M785.79 1143.14L794.29 1158.14L777.29 1158.14Z" fill="#008080" stroke="#008080" stroke-width="0.8" stroke-linejoin="miter"/><path d="M796.8 1129.12L805.3 1144.12L788.3 1144.12Z" fill="#008080" stroke="#008080" stroke-width="0.8" stroke-linejoin="miter"/><path d="M807.82 1114.1L816.32 1129.1L799.32 1129.1Z" fill="#008080" stroke="#008080" stroke-width="0.8" stroke-linejoin="miter"/><path d="M818.84 1100.08L827.34 1115.08L810.34 1115.08Z" fill="#008080" stroke="#008080" stroke-width="0.8" stroke-linejoin="miter"/><path d="M829.85 1085.06L838.35 1100.06L821.35 1100.06Z" fill="#008080" stroke="#008080" stroke-width="0.8" stroke-linejoin="miter"/><path d="M840.87 1071.04L849.37 1086.04L832.37 1086.04Z" fill="#008080" stroke="#008080" stroke-width="0.8" stroke-linejoin="miter"/><path d="M851.89 1056.16L860.39 1071.16L843.39 1071.16Z" fill="#008080" stroke="#008080" stroke-width="0.8" stroke-linejoin="miter"/><path d="M862.9 1042.86L871.4 1057.86L854.4 1057.86Z" fill="#008080" stroke="#008080" stroke-width="0.8" stroke-linejoin="miter"/><path d="M873.92 1029.45L882.42 1044.45L865.42 1044.45Z" fill="#008080" stroke="#008080" stroke-width="0.8" stroke-linejoin="miter"/><path d="M884.93 1013.88L893.43 1028.88L876.43 1028.88Z" fill="#008080" stroke="#008080" stroke-width="0.8" stroke-linejoin="miter"/><path d="M895.95 999.71L904.45 1014.71L887.45 1014.71Z" fill="#008080" stroke="#008080" stroke-width="0.8" stroke-linejoin="miter"/><path d="M906.97 984.7L915.47 999.7L898.47 999.7Z" fill="#008080" stroke="#008080" stroke-width="0.8" stroke-linejoin="miter"/><path d="M917.98 970.66L926.48 985.66L909.48 985.66Z" fill="#008080" stroke="#008080" stroke-width="0.8" stroke-linejoin="miter"/><path d="M929 955.5L937.5 970.5L920.5 970.5Z" fill="#008080" stroke="#008080" stroke-width="0.8" stroke-linejoin="miter"/></g><g clip-path="url(#cb)"><rect x="113.05" y="1246.75" width="12.5" height="12.5" fill="#fff" stroke="#ff0000" stroke-width="1.3"/><rect x="124.07" y="1234.85" width="12.5" height="12.5" fill="#fff" stroke="#ff0000" stroke-width="1.3"/><rect x="135.08" y="1223.84" width="12.5" height="12.5" fill="#fff" stroke="#ff0000" stroke-width="1.3"/><rect x="146.1" y="1214.27" width="12.5" height="12.5" fill="#fff" stroke="#ff0000" stroke-width="1.3"/><rect x="157.11" y="1207.89" width="12.5" height="12.5" fill="#fff" stroke="#ff0000" stroke-width="1.3"/><rect x="168.13" y="1202.64" width="12.5" height="12.5" fill="#fff" stroke="#ff0000" stroke-width="1.3"/><rect x="179.15" y="1196.87" width="12.5" height="12.5" fill="#fff" stroke="#ff0000" stroke-width="1.3"/><rect x="190.16" y="1191.99" width="12.5" height="12.5" fill="#fff" stroke="#ff0000" stroke-width="1.3"/><rect x="201.18" y="1188.71" width="12.5" height="12.5" fill="#fff" stroke="#ff0000" stroke-width="1.3"/><rect x="212.2" y="1185.39" width="12.5" height="12.5" fill="#fff" stroke="#ff0000" stroke-width="1.3"/><rect x="223.21" y="1182.82" width="12.5" height="12.5" fill="#fff" stroke="#ff0000" stroke-width="1.3"/><rect x="234.23" y="1180.87" width="12.5" height="12.5" fill="#fff" stroke="#ff0000" stroke-width="1.3"/><rect x="245.24" y="1179.78" width="12.5" height="12.5" fill="#fff" stroke="#ff0000" stroke-width="1.3"/><rect x="256.26" y="1178.09" width="12.5" height="12.5" fill="#fff" stroke="#ff0000" stroke-width="1.3"/><rect x="267.28" y="1176.78" width="12.5" height="12.5" fill="#fff" stroke="#ff0000" stroke-width="1.3"/><rect x="278.29" y="1175.72" width="12.5" height="12.5" fill="#fff" stroke="#ff0000" stroke-width="1.3"/><rect x="289.31" y="1174.68" width="12.5" height="12.5" fill="#fff" stroke="#ff0000" stroke-width="1.3"/><rect x="300.33" y="1173.68" width="12.5" height="12.5" fill="#fff" stroke="#ff0000" stroke-width="1.3"/><rect x="311.34" y="1172.94" width="12.5" height="12.5" fill="#fff" stroke="#ff0000" stroke-width="1.3"/><rect x="322.36" y="1172.28" width="12.5" height="12.5" fill="#fff" stroke="#ff0000" stroke-width="1.3"/><rect x="333.37" y="1171.62" width="12.5" height="12.5" fill="#fff" stroke="#ff0000" stroke-width="1.3"/><rect x="344.39" y="1170.92" width="12.5" height="12.5" fill="#fff" stroke="#ff0000" stroke-width="1.3"/><rect x="355.41" y="1170.2" width="12.5" height="12.5" fill="#fff" stroke="#ff0000" stroke-width="1.3"/><rect x="366.42" y="1169.37" width="12.5" height="12.5" fill="#fff" stroke="#ff0000" stroke-width="1.3"/><rect x="377.44" y="1168.55" width="12.5" height="12.5" fill="#fff" stroke="#ff0000" stroke-width="1.3"/><rect x="388.46" y="1167.7" width="12.5" height="12.5" fill="#fff" stroke="#ff0000" stroke-width="1.3"/><rect x="399.47" y="1166.73" width="12.5" height="12.5" fill="#fff" stroke="#ff0000" stroke-width="1.3"/><rect x="410.49" y="1165.79" width="12.5" height="12.5" fill="#fff" stroke="#ff0000" stroke-width="1.3"/><rect x="421.5" y="1164.8" width="12.5" height="12.5" fill="#fff" stroke="#ff0000" stroke-width="1.3"/><rect x="432.52" y="1163.82" width="12.5" height="12.5" fill="#fff" stroke="#ff0000" stroke-width="1.3"/><rect x="443.54" y="1162.75" width="12.5" height="12.5" fill="#fff" stroke="#ff0000" stroke-width="1.3"/><rect x="454.55" y="1161.61" width="12.5" height="12.5" fill="#fff" stroke="#ff0000" stroke-width="1.3"/><rect x="465.57" y="1160.47" width="12.5" height="12.5" fill="#fff" stroke="#ff0000" stroke-width="1.3"/><rect x="476.58" y="1159.46" width="12.5" height="12.5" fill="#fff" stroke="#ff0000" stroke-width="1.3"/><rect x="487.6" y="1158.59" width="12.5" height="12.5" fill="#fff" stroke="#ff0000" stroke-width="1.3"/><rect x="498.62" y="1157.71" width="12.5" height="12.5" fill="#fff" stroke="#ff0000" stroke-width="1.3"/><rect x="509.63" y="1156.84" width="12.5" height="12.5" fill="#fff" stroke="#ff0000" stroke-width="1.3"/><rect x="520.65" y="1155.96" width="12.5" height="12.5" fill="#fff" stroke="#ff0000" stroke-width="1.3"/><rect x="531.67" y="1155.09" width="12.5" height="12.5" fill="#fff" stroke="#ff0000" stroke-width="1.3"/><rect x="542.68" y="1154.2" width="12.5" height="12.5" fill="#fff" stroke="#ff0000" stroke-width="1.3"/><rect x="553.7" y="1153.3" width="12.5" height="12.5" fill="#fff" stroke="#ff0000" stroke-width="1.3"/><rect x="564.71" y="1152.39" width="12.5" height="12.5" fill="#fff" stroke="#ff0000" stroke-width="1.3"/><rect x="575.73" y="1151.43" width="12.5" height="12.5" fill="#fff" stroke="#ff0000" stroke-width="1.3"/><rect x="586.75" y="1150.37" width="12.5" height="12.5" fill="#fff" stroke="#ff0000" stroke-width="1.3"/><rect x="597.76" y="1149.32" width="12.5" height="12.5" fill="#fff" stroke="#ff0000" stroke-width="1.3"/><rect x="608.78" y="1148.24" width="12.5" height="12.5" fill="#fff" stroke="#ff0000" stroke-width="1.3"/><rect x="619.8" y="1147.11" width="12.5" height="12.5" fill="#fff" stroke="#ff0000" stroke-width="1.3"/><rect x="630.81" y="1145.98" width="12.5" height="12.5" fill="#fff" stroke="#ff0000" stroke-width="1.3"/><rect x="641.83" y="1144.83" width="12.5" height="12.5" fill="#fff" stroke="#ff0000" stroke-width="1.3"/><rect x="652.84" y="1143.66" width="12.5" height="12.5" fill="#fff" stroke="#ff0000" stroke-width="1.3"/><rect x="663.86" y="1142.48" width="12.5" height="12.5" fill="#fff" stroke="#ff0000" stroke-width="1.3"/><rect x="674.88" y="1141.39" width="12.5" height="12.5" fill="#fff" stroke="#ff0000" stroke-width="1.3"/><rect x="685.89" y="1140.8" width="12.5" height="12.5" fill="#fff" stroke="#ff0000" stroke-width="1.3"/><rect x="696.91" y="1140.22" width="12.5" height="12.5" fill="#fff" stroke="#ff0000" stroke-width="1.3"/><rect x="707.93" y="1139.63" width="12.5" height="12.5" fill="#fff" stroke="#ff0000" stroke-width="1.3"/><rect x="718.94" y="1136.43" width="12.5" height="12.5" fill="#fff" stroke="#ff0000" stroke-width="1.3"/><rect x="729.96" y="1132.81" width="12.5" height="12.5" fill="#fff" stroke="#ff0000" stroke-width="1.3"/><rect x="740.97" y="1129.37" width="12.5" height="12.5" fill="#fff" stroke="#ff0000" stroke-width="1.3"/><rect x="751.99" y="1124.49" width="12.5" height="12.5" fill="#fff" stroke="#ff0000" stroke-width="1.3"/><rect x="763.01" y="1119.12" width="12.5" height="12.5" fill="#fff" stroke="#ff0000" stroke-width="1.3"/><rect x="774.02" y="1112.82" width="12.5" height="12.5" fill="#fff" stroke="#ff0000" stroke-width="1.3"/><rect x="785.04" y="1106.19" width="12.5" height="12.5" fill="#fff" stroke="#ff0000" stroke-width="1.3"/><rect x="796.05" y="1097.62" width="12.5" height="12.5" fill="#fff" stroke="#ff0000" stroke-width="1.3"/><rect x="807.07" y="1089" width="12.5" height="12.5" fill="#fff" stroke="#ff0000" stroke-width="1.3"/><rect x="818.09" y="1079.04" width="12.5" height="12.5" fill="#fff" stroke="#ff0000" stroke-width="1.3"/><rect x="829.1" y="1069.16" width="12.5" height="12.5" fill="#fff" stroke="#ff0000" stroke-width="1.3"/><rect x="840.12" y="1056.78" width="12.5" height="12.5" fill="#fff" stroke="#ff0000" stroke-width="1.3"/><rect x="851.14" y="1043.89" width="12.5" height="12.5" fill="#fff" stroke="#ff0000" stroke-width="1.3"/><rect x="862.15" y="1029.75" width="12.5" height="12.5" fill="#fff" stroke="#ff0000" stroke-width="1.3"/><rect x="873.17" y="1015.85" width="12.5" height="12.5" fill="#fff" stroke="#ff0000" stroke-width="1.3"/><rect x="884.18" y="1000.82" width="12.5" height="12.5" fill="#fff" stroke="#ff0000" stroke-width="1.3"/><rect x="895.2" y="986.8" width="12.5" height="12.5" fill="#fff" stroke="#ff0000" stroke-width="1.3"/><rect x="906.22" y="972.1" width="12.5" height="12.5" fill="#fff" stroke="#ff0000" stroke-width="1.3"/><rect x="917.23" y="959.36" width="12.5" height="12.5" fill="#fff" stroke="#ff0000" stroke-width="1.3"/><rect x="928.25" y="950.75" width="12.5" height="12.5" fill="#fff" stroke="#ff0000" stroke-width="1.3"/></g><g clip-path="url(#cb)"><path d="M119.3 1241.09L127.8 1256.09L110.8 1256.09Z" fill="#fff" stroke="#008080" stroke-width="1.3" stroke-linejoin="miter"/><path d="M130.32 1229.49L138.82 1244.49L121.82 1244.49Z" fill="#fff" stroke="#008080" stroke-width="1.3" stroke-linejoin="miter"/><path d="M141.33 1217.9L149.83 1232.9L132.83 1232.9Z" fill="#fff" stroke="#008080" stroke-width="1.3" stroke-linejoin="miter"/><path d="M152.35 1207.25L160.85 1222.25L143.85 1222.25Z" fill="#fff" stroke="#008080" stroke-width="1.3" stroke-linejoin="miter"/><path d="M163.36 1196.21L171.86 1211.21L154.86 1211.21Z" fill="#fff" stroke="#008080" stroke-width="1.3" stroke-linejoin="miter"/><path d="M174.38 1187L182.88 1202L165.88 1202Z" fill="#fff" stroke="#008080" stroke-width="1.3" stroke-linejoin="miter"/><path d="M185.4 1179.16L193.9 1194.16L176.9 1194.16Z" fill="#fff" stroke="#008080" stroke-width="1.3" stroke-linejoin="miter"/><path d="M196.41 1171.65L204.91 1186.65L187.91 1186.65Z" fill="#fff" stroke="#008080" stroke-width="1.3" stroke-linejoin="miter"/><path d="M207.43 1165.32L215.93 1180.32L198.93 1180.32Z" fill="#fff" stroke="#008080" stroke-width="1.3" stroke-linejoin="miter"/><path d="M218.45 1158.35L226.95 1173.35L209.95 1173.35Z" fill="#fff" stroke="#008080" stroke-width="1.3" stroke-linejoin="miter"/><path d="M229.46 1153.54L237.96 1168.54L220.96 1168.54Z" fill="#fff" stroke="#008080" stroke-width="1.3" stroke-linejoin="miter"/><path d="M240.48 1149.01L248.98 1164.01L231.98 1164.01Z" fill="#fff" stroke="#008080" stroke-width="1.3" stroke-linejoin="miter"/><path d="M251.49 1145.06L259.99 1160.06L242.99 1160.06Z" fill="#fff" stroke="#008080" stroke-width="1.3" stroke-linejoin="miter"/><path d="M262.51 1141.29L271.01 1156.29L254.01 1156.29Z" fill="#fff" stroke="#008080" stroke-width="1.3" stroke-linejoin="miter"/><path d="M273.53 1138.3L282.03 1153.3L265.03 1153.3Z" fill="#fff" stroke="#008080" stroke-width="1.3" stroke-linejoin="miter"/><path d="M284.54 1135.55L293.04 1150.55L276.04 1150.55Z" fill="#fff" stroke="#008080" stroke-width="1.3" stroke-linejoin="miter"/><path d="M295.56 1133.03L304.06 1148.03L287.06 1148.03Z" fill="#fff" stroke="#008080" stroke-width="1.3" stroke-linejoin="miter"/><path d="M306.58 1130.23L315.08 1145.23L298.08 1145.23Z" fill="#fff" stroke="#008080" stroke-width="1.3" stroke-linejoin="miter"/><path d="M317.59 1128L326.09 1143L309.09 1143Z" fill="#fff" stroke="#008080" stroke-width="1.3" stroke-linejoin="miter"/><path d="M328.61 1125.53L337.11 1140.53L320.11 1140.53Z" fill="#fff" stroke="#008080" stroke-width="1.3" stroke-linejoin="miter"/><path d="M339.62 1123.53L348.12 1138.53L331.12 1138.53Z" fill="#fff" stroke="#008080" stroke-width="1.3" stroke-linejoin="miter"/><path d="M350.64 1121.19L359.14 1136.19L342.14 1136.19Z" fill="#fff" stroke="#008080" stroke-width="1.3" stroke-linejoin="miter"/><path d="M361.66 1119.57L370.16 1134.57L353.16 1134.57Z" fill="#fff" stroke="#008080" stroke-width="1.3" stroke-linejoin="miter"/><path d="M372.67 1117.61L381.17 1132.61L364.17 1132.61Z" fill="#fff" stroke="#008080" stroke-width="1.3" stroke-linejoin="miter"/><path d="M383.69 1115.49L392.19 1130.49L375.19 1130.49Z" fill="#fff" stroke="#008080" stroke-width="1.3" stroke-linejoin="miter"/><path d="M394.71 1113.47L403.21 1128.47L386.21 1128.47Z" fill="#fff" stroke="#008080" stroke-width="1.3" stroke-linejoin="miter"/><path d="M405.72 1112.14L414.22 1127.14L397.22 1127.14Z" fill="#fff" stroke="#008080" stroke-width="1.3" stroke-linejoin="miter"/><path d="M416.74 1110.84L425.24 1125.84L408.24 1125.84Z" fill="#fff" stroke="#008080" stroke-width="1.3" stroke-linejoin="miter"/><path d="M427.75 1109.14L436.25 1124.14L419.25 1124.14Z" fill="#fff" stroke="#008080" stroke-width="1.3" stroke-linejoin="miter"/><path d="M438.77 1107.16L447.27 1122.16L430.27 1122.16Z" fill="#fff" stroke="#008080" stroke-width="1.3" stroke-linejoin="miter"/><path d="M449.79 1105.8L458.29 1120.8L441.29 1120.8Z" fill="#fff" stroke="#008080" stroke-width="1.3" stroke-linejoin="miter"/><path d="M460.8 1104.94L469.3 1119.94L452.3 1119.94Z" fill="#fff" stroke="#008080" stroke-width="1.3" stroke-linejoin="miter"/><path d="M471.82 1104.09L480.32 1119.09L463.32 1119.09Z" fill="#fff" stroke="#008080" stroke-width="1.3" stroke-linejoin="miter"/><path d="M482.83 1103.41L491.33 1118.41L474.33 1118.41Z" fill="#fff" stroke="#008080" stroke-width="1.3" stroke-linejoin="miter"/><path d="M493.85 1102.92L502.35 1117.92L485.35 1117.92Z" fill="#fff" stroke="#008080" stroke-width="1.3" stroke-linejoin="miter"/><path d="M504.87 1102.42L513.37 1117.42L496.37 1117.42Z" fill="#fff" stroke="#008080" stroke-width="1.3" stroke-linejoin="miter"/><path d="M515.88 1102L524.38 1117L507.38 1117Z" fill="#fff" stroke="#008080" stroke-width="1.3" stroke-linejoin="miter"/><path d="M526.9 1101.65L535.4 1116.65L518.4 1116.65Z" fill="#fff" stroke="#008080" stroke-width="1.3" stroke-linejoin="miter"/><path d="M537.92 1101.31L546.42 1116.31L529.42 1116.31Z" fill="#fff" stroke="#008080" stroke-width="1.3" stroke-linejoin="miter"/><path d="M548.93 1100.97L557.43 1115.97L540.43 1115.97Z" fill="#fff" stroke="#008080" stroke-width="1.3" stroke-linejoin="miter"/><path d="M559.95 1100.63L568.45 1115.63L551.45 1115.63Z" fill="#fff" stroke="#008080" stroke-width="1.3" stroke-linejoin="miter"/><path d="M570.96 1100.29L579.46 1115.29L562.46 1115.29Z" fill="#fff" stroke="#008080" stroke-width="1.3" stroke-linejoin="miter"/><path d="M581.98 1099.93L590.48 1114.93L573.48 1114.93Z" fill="#fff" stroke="#008080" stroke-width="1.3" stroke-linejoin="miter"/><path d="M593 1099.51L601.5 1114.51L584.5 1114.51Z" fill="#fff" stroke="#008080" stroke-width="1.3" stroke-linejoin="miter"/><path d="M604.01 1099.09L612.51 1114.09L595.51 1114.09Z" fill="#fff" stroke="#008080" stroke-width="1.3" stroke-linejoin="miter"/><path d="M615.03 1098.66L623.53 1113.66L606.53 1113.66Z" fill="#fff" stroke="#008080" stroke-width="1.3" stroke-linejoin="miter"/><path d="M626.05 1098.18L634.55 1113.18L617.55 1113.18Z" fill="#fff" stroke="#008080" stroke-width="1.3" stroke-linejoin="miter"/><path d="M637.06 1097.71L645.56 1112.71L628.56 1112.71Z" fill="#fff" stroke="#008080" stroke-width="1.3" stroke-linejoin="miter"/><path d="M648.08 1097.19L656.58 1112.19L639.58 1112.19Z" fill="#fff" stroke="#008080" stroke-width="1.3" stroke-linejoin="miter"/><path d="M659.09 1096.53L667.59 1111.53L650.59 1111.53Z" fill="#fff" stroke="#008080" stroke-width="1.3" stroke-linejoin="miter"/><path d="M670.11 1095.88L678.61 1110.88L661.61 1110.88Z" fill="#fff" stroke="#008080" stroke-width="1.3" stroke-linejoin="miter"/><path d="M681.13 1095.22L689.63 1110.22L672.63 1110.22Z" fill="#fff" stroke="#008080" stroke-width="1.3" stroke-linejoin="miter"/><path d="M692.14 1094.54L700.64 1109.54L683.64 1109.54Z" fill="#fff" stroke="#008080" stroke-width="1.3" stroke-linejoin="miter"/><path d="M703.16 1093.86L711.66 1108.86L694.66 1108.86Z" fill="#fff" stroke="#008080" stroke-width="1.3" stroke-linejoin="miter"/><path d="M714.18 1093.33L722.68 1108.33L705.68 1108.33Z" fill="#fff" stroke="#008080" stroke-width="1.3" stroke-linejoin="miter"/><path d="M725.19 1094.08L733.69 1109.08L716.69 1109.08Z" fill="#fff" stroke="#008080" stroke-width="1.3" stroke-linejoin="miter"/><path d="M736.21 1092.22L744.71 1107.22L727.71 1107.22Z" fill="#fff" stroke="#008080" stroke-width="1.3" stroke-linejoin="miter"/><path d="M747.22 1090.03L755.72 1105.03L738.72 1105.03Z" fill="#fff" stroke="#008080" stroke-width="1.3" stroke-linejoin="miter"/><path d="M758.24 1087.6L766.74 1102.6L749.74 1102.6Z" fill="#fff" stroke="#008080" stroke-width="1.3" stroke-linejoin="miter"/><path d="M769.26 1085.29L777.76 1100.29L760.76 1100.29Z" fill="#fff" stroke="#008080" stroke-width="1.3" stroke-linejoin="miter"/><path d="M780.27 1082.14L788.77 1097.14L771.77 1097.14Z" fill="#fff" stroke="#008080" stroke-width="1.3" stroke-linejoin="miter"/><path d="M791.29 1077.66L799.79 1092.66L782.79 1092.66Z" fill="#fff" stroke="#008080" stroke-width="1.3" stroke-linejoin="miter"/><path d="M802.3 1071.73L810.8 1086.73L793.8 1086.73Z" fill="#fff" stroke="#008080" stroke-width="1.3" stroke-linejoin="miter"/><path d="M813.32 1065.67L821.82 1080.67L804.82 1080.67Z" fill="#fff" stroke="#008080" stroke-width="1.3" stroke-linejoin="miter"/><path d="M824.34 1058.02L832.84 1073.02L815.84 1073.02Z" fill="#fff" stroke="#008080" stroke-width="1.3" stroke-linejoin="miter"/><path d="M835.35 1049.52L843.85 1064.52L826.85 1064.52Z" fill="#fff" stroke="#008080" stroke-width="1.3" stroke-linejoin="miter"/><path d="M846.37 1039.73L854.87 1054.73L837.87 1054.73Z" fill="#fff" stroke="#008080" stroke-width="1.3" stroke-linejoin="miter"/><path d="M857.39 1030.64L865.89 1045.64L848.89 1045.64Z" fill="#fff" stroke="#008080" stroke-width="1.3" stroke-linejoin="miter"/><path d="M868.4 1018.71L876.9 1033.71L859.9 1033.71Z" fill="#fff" stroke="#008080" stroke-width="1.3" stroke-linejoin="miter"/><path d="M879.42 1007.77L887.92 1022.77L870.92 1022.77Z" fill="#fff" stroke="#008080" stroke-width="1.3" stroke-linejoin="miter"/><path d="M890.43 995.19L898.93 1010.19L881.93 1010.19Z" fill="#fff" stroke="#008080" stroke-width="1.3" stroke-linejoin="miter"/><path d="M901.45 982.38L909.95 997.38L892.95 997.38Z" fill="#fff" stroke="#008080" stroke-width="1.3" stroke-linejoin="miter"/><path d="M912.47 968.81L920.97 983.81L903.97 983.81Z" fill="#fff" stroke="#008080" stroke-width="1.3" stroke-linejoin="miter"/><path d="M923.48 956.27L931.98 971.27L914.98 971.27Z" fill="#fff" stroke="#008080" stroke-width="1.3" stroke-linejoin="miter"/><path d="M934.5 947.5L943 962.5L926 962.5Z" fill="#fff" stroke="#008080" stroke-width="1.3" stroke-linejoin="miter"/></g><g clip-path="url(#cb)"><path d="M119.3 1252.65L121.32 1258.06L127.1 1258.31L122.58 1261.91L124.12 1267.48L119.3 1264.29L114.48 1267.48L116.02 1261.91L111.5 1258.31L117.28 1258.06Z" fill="#fff" stroke="#0000ff" stroke-width="1.3" stroke-linejoin="miter"/><path d="M130.32 1242.67L132.34 1248.09L138.11 1248.34L133.59 1251.94L135.14 1257.51L130.32 1254.32L125.5 1257.51L127.04 1251.94L122.52 1248.34L128.29 1248.09Z" fill="#fff" stroke="#0000ff" stroke-width="1.3" stroke-linejoin="miter"/><path d="M141.33 1233.56L143.36 1238.98L149.13 1239.23L144.61 1242.83L146.15 1248.4L141.33 1245.21L136.51 1248.4L138.06 1242.83L133.53 1239.23L139.31 1238.98Z" fill="#fff" stroke="#0000ff" stroke-width="1.3" stroke-linejoin="miter"/><path d="M152.35 1226.43L154.37 1231.85L160.15 1232.1L155.62 1235.7L157.17 1241.27L152.35 1238.08L147.53 1241.27L149.07 1235.7L144.55 1232.1L150.32 1231.85Z" fill="#fff" stroke="#0000ff" stroke-width="1.3" stroke-linejoin="miter"/><path d="M163.36 1220.43L165.39 1225.84L171.16 1226.1L166.64 1229.7L168.18 1235.27L163.36 1232.08L158.54 1235.27L160.09 1229.7L155.57 1226.1L161.34 1225.84Z" fill="#fff" stroke="#0000ff" stroke-width="1.3" stroke-linejoin="miter"/><path d="M174.38 1216.08L176.41 1221.5L182.18 1221.75L177.66 1225.35L179.2 1230.92L174.38 1227.73L169.56 1230.92L171.11 1225.35L166.58 1221.75L172.36 1221.5Z" fill="#fff" stroke="#0000ff" stroke-width="1.3" stroke-linejoin="miter"/><path d="M185.4 1213.41L187.42 1218.83L193.2 1219.08L188.67 1222.68L190.22 1228.25L185.4 1225.06L180.58 1228.25L182.12 1222.68L177.6 1219.08L183.37 1218.83Z" fill="#fff" stroke="#0000ff" stroke-width="1.3" stroke-linejoin="miter"/><path d="M196.41 1211.64L198.44 1217.06L204.21 1217.31L199.69 1220.91L201.23 1226.48L196.41 1223.29L191.59 1226.48L193.14 1220.91L188.61 1217.31L194.39 1217.06Z" fill="#fff" stroke="#0000ff" stroke-width="1.3" stroke-linejoin="miter"/><path d="M207.43 1210.4L209.45 1215.82L215.23 1216.07L210.71 1219.67L212.25 1225.24L207.43 1222.05L202.61 1225.24L204.15 1219.67L199.63 1216.07L205.41 1215.82Z" fill="#fff" stroke="#0000ff" stroke-width="1.3" stroke-linejoin="miter"/><path d="M218.45 1209.54L220.47 1214.96L226.24 1215.21L221.72 1218.81L223.27 1224.38L218.45 1221.19L213.63 1224.38L215.17 1218.81L210.65 1215.21L216.42 1214.96Z" fill="#fff" stroke="#0000ff" stroke-width="1.3" stroke-linejoin="miter"/><path d="M229.46 1208.99L231.49 1214.4L237.26 1214.65L232.74 1218.25L234.28 1223.82L229.46 1220.63L224.64 1223.82L226.19 1218.25L221.66 1214.65L227.44 1214.4Z" fill="#fff" stroke="#0000ff" stroke-width="1.3" stroke-linejoin="miter"/><path d="M240.48 1208.45L242.5 1213.86L248.28 1214.12L243.75 1217.71L245.3 1223.28L240.48 1220.09L235.66 1223.28L237.2 1217.71L232.68 1214.12L238.45 1213.86Z" fill="#fff" stroke="#0000ff" stroke-width="1.3" stroke-linejoin="miter"/><path d="M251.49 1207.7L253.52 1213.11L259.29 1213.36L254.77 1216.96L256.31 1222.53L251.49 1219.34L246.67 1222.53L248.22 1216.96L243.7 1213.36L249.47 1213.11Z" fill="#fff" stroke="#0000ff" stroke-width="1.3" stroke-linejoin="miter"/><path d="M262.51 1207.28L264.53 1212.7L270.31 1212.95L265.79 1216.55L267.33 1222.12L262.51 1218.93L257.69 1222.12L259.24 1216.55L254.71 1212.95L260.49 1212.7Z" fill="#fff" stroke="#0000ff" stroke-width="1.3" stroke-linejoin="miter"/><path d="M273.53 1206.91L275.55 1212.32L281.33 1212.58L276.8 1216.17L278.35 1221.74L273.53 1218.55L268.71 1221.74L270.25 1216.17L265.73 1212.58L271.5 1212.32Z" fill="#fff" stroke="#0000ff" stroke-width="1.3" stroke-linejoin="miter"/><path d="M284.54 1206.45L286.57 1211.87L292.34 1212.12L287.82 1215.72L289.36 1221.29L284.54 1218.1L279.72 1221.29L281.27 1215.72L276.74 1212.12L282.52 1211.87Z" fill="#fff" stroke="#0000ff" stroke-width="1.3" stroke-linejoin="miter"/><path d="M295.56 1206.14L297.58 1211.56L303.36 1211.81L298.83 1215.41L300.38 1220.98L295.56 1217.79L290.74 1220.98L292.28 1215.41L287.76 1211.81L293.53 1211.56Z" fill="#fff" stroke="#0000ff" stroke-width="1.3" stroke-linejoin="miter"/><path d="M306.58 1205.8L308.6 1211.22L314.37 1211.47L309.85 1215.07L311.4 1220.64L306.58 1217.45L301.76 1220.64L303.3 1215.07L298.78 1211.47L304.55 1211.22Z" fill="#fff" stroke="#0000ff" stroke-width="1.3" stroke-linejoin="miter"/><path d="M317.59 1205.45L319.62 1210.87L325.39 1211.12L320.87 1214.72L322.41 1220.29L317.59 1217.1L312.77 1220.29L314.32 1214.72L309.79 1211.12L315.57 1210.87Z" fill="#fff" stroke="#0000ff" stroke-width="1.3" stroke-linejoin="miter"/><path d="M328.61 1205.12L330.63 1210.54L336.41 1210.79L331.88 1214.39L333.43 1219.96L328.61 1216.77L323.79 1219.96L325.33 1214.39L320.81 1210.79L326.58 1210.54Z" fill="#fff" stroke="#0000ff" stroke-width="1.3" stroke-linejoin="miter"/><path d="M339.62 1204.65L341.65 1210.07L347.42 1210.32L342.9 1213.92L344.44 1219.49L339.62 1216.3L334.8 1219.49L336.35 1213.92L331.83 1210.32L337.6 1210.07Z" fill="#fff" stroke="#0000ff" stroke-width="1.3" stroke-linejoin="miter"/><path d="M350.64 1204.15L352.66 1209.56L358.44 1209.81L353.92 1213.41L355.46 1218.98L350.64 1215.79L345.82 1218.98L347.36 1213.41L342.84 1209.81L348.62 1209.56Z" fill="#fff" stroke="#0000ff" stroke-width="1.3" stroke-linejoin="miter"/><path d="M361.66 1203.64L363.68 1209.05L369.46 1209.31L364.93 1212.9L366.48 1218.47L361.66 1215.28L356.84 1218.47L358.38 1212.9L353.86 1209.31L359.63 1209.05Z" fill="#fff" stroke="#0000ff" stroke-width="1.3" stroke-linejoin="miter"/><path d="M372.67 1203.1L374.7 1208.51L380.47 1208.76L375.95 1212.36L377.49 1217.93L372.67 1214.74L367.85 1217.93L369.4 1212.36L364.87 1208.76L370.65 1208.51Z" fill="#fff" stroke="#0000ff" stroke-width="1.3" stroke-linejoin="miter"/><path d="M383.69 1202.57L385.71 1207.98L391.49 1208.24L386.96 1211.83L388.51 1217.4L383.69 1214.21L378.87 1217.4L380.41 1211.83L375.89 1208.24L381.66 1207.98Z" fill="#fff" stroke="#0000ff" stroke-width="1.3" stroke-linejoin="miter"/><path d="M394.71 1201.91L396.73 1207.33L402.5 1207.58L397.98 1211.18L399.52 1216.75L394.71 1213.56L389.89 1216.75L391.43 1211.18L386.91 1207.58L392.68 1207.33Z" fill="#fff" stroke="#0000ff" stroke-width="1.3" stroke-linejoin="miter"/><path d="M405.72 1200.97L407.75 1206.38L413.52 1206.63L409 1210.23L410.54 1215.8L405.72 1212.61L400.9 1215.8L402.45 1210.23L397.92 1206.63L403.7 1206.38Z" fill="#fff" stroke="#0000ff" stroke-width="1.3" stroke-linejoin="miter"/><path d="M416.74 1199.8L418.76 1205.21L424.54 1205.46L420.01 1209.06L421.56 1214.63L416.74 1211.44L411.92 1214.63L413.46 1209.06L408.94 1205.46L414.71 1205.21Z" fill="#fff" stroke="#0000ff" stroke-width="1.3" stroke-linejoin="miter"/><path d="M427.75 1198.43L429.78 1203.85L435.55 1204.1L431.03 1207.7L432.57 1213.27L427.75 1210.08L422.93 1213.27L424.48 1207.7L419.96 1204.1L425.73 1203.85Z" fill="#fff" stroke="#0000ff" stroke-width="1.3" stroke-linejoin="miter"/><path d="M438.77 1197.07L440.79 1202.48L446.57 1202.74L442.05 1206.33L443.59 1211.9L438.77 1208.71L433.95 1211.9L435.49 1206.33L430.97 1202.74L436.75 1202.48Z" fill="#fff" stroke="#0000ff" stroke-width="1.3" stroke-linejoin="miter"/><path d="M449.79 1195.71L451.81 1201.12L457.58 1201.37L453.06 1204.97L454.61 1210.54L449.79 1207.35L444.97 1210.54L446.51 1204.97L441.99 1201.37L447.76 1201.12Z" fill="#fff" stroke="#0000ff" stroke-width="1.3" stroke-linejoin="miter"/><path d="M460.8 1194.34L462.83 1199.76L468.6 1200.01L464.08 1203.61L465.62 1209.18L460.8 1205.99L455.98 1209.18L457.53 1203.61L453 1200.01L458.78 1199.76Z" fill="#fff" stroke="#0000ff" stroke-width="1.3" stroke-linejoin="miter"/><path d="M471.82 1192.98L473.84 1198.4L479.62 1198.65L475.09 1202.25L476.64 1207.82L471.82 1204.63L467 1207.82L468.54 1202.25L464.02 1198.65L469.79 1198.4Z" fill="#fff" stroke="#0000ff" stroke-width="1.3" stroke-linejoin="miter"/><path d="M482.83 1191.72L484.86 1197.14L490.63 1197.39L486.11 1200.99L487.65 1206.56L482.83 1203.37L478.01 1206.56L479.56 1200.99L475.04 1197.39L480.81 1197.14Z" fill="#fff" stroke="#0000ff" stroke-width="1.3" stroke-linejoin="miter"/><path d="M493.85 1190.57L495.88 1195.99L501.65 1196.24L497.13 1199.84L498.67 1205.41L493.85 1202.22L489.03 1205.41L490.58 1199.84L486.05 1196.24L491.83 1195.99Z" fill="#fff" stroke="#0000ff" stroke-width="1.3" stroke-linejoin="miter"/><path d="M504.87 1189.42L506.89 1194.84L512.67 1195.09L508.14 1198.69L509.69 1204.26L504.87 1201.07L500.05 1204.26L501.59 1198.69L497.07 1195.09L502.84 1194.84Z" fill="#fff" stroke="#0000ff" stroke-width="1.3" stroke-linejoin="miter"/><path d="M515.88 1188.27L517.91 1193.69L523.68 1193.94L519.16 1197.54L520.7 1203.11L515.88 1199.92L511.06 1203.11L512.61 1197.54L508.08 1193.94L513.86 1193.69Z" fill="#fff" stroke="#0000ff" stroke-width="1.3" stroke-linejoin="miter"/><path d="M526.9 1187.13L528.92 1192.54L534.7 1192.79L530.17 1196.39L531.72 1201.96L526.9 1198.77L522.08 1201.96L523.62 1196.39L519.1 1192.79L524.88 1192.54Z" fill="#fff" stroke="#0000ff" stroke-width="1.3" stroke-linejoin="miter"/><path d="M537.92 1185.98L539.94 1191.39L545.71 1191.65L541.19 1195.25L542.74 1200.82L537.92 1197.63L533.1 1200.82L534.64 1195.25L530.12 1191.65L535.89 1191.39Z" fill="#fff" stroke="#0000ff" stroke-width="1.3" stroke-linejoin="miter"/><path d="M548.93 1184.74L550.96 1190.15L556.73 1190.41L552.21 1194.01L553.75 1199.58L548.93 1196.39L544.11 1199.58L545.66 1194.01L541.13 1190.41L546.91 1190.15Z" fill="#fff" stroke="#0000ff" stroke-width="1.3" stroke-linejoin="miter"/><path d="M559.95 1183.35L561.97 1188.76L567.75 1189.02L563.22 1192.62L564.77 1198.19L559.95 1195L555.13 1198.19L556.67 1192.62L552.15 1189.02L557.92 1188.76Z" fill="#fff" stroke="#0000ff" stroke-width="1.3" stroke-linejoin="miter"/><path d="M570.96 1181.96L572.99 1187.37L578.76 1187.63L574.24 1191.23L575.78 1196.8L570.96 1193.61L566.14 1196.8L567.69 1191.23L563.17 1187.63L568.94 1187.37Z" fill="#fff" stroke="#0000ff" stroke-width="1.3" stroke-linejoin="miter"/><path d="M581.98 1180.51L584 1185.93L589.78 1186.18L585.26 1189.78L586.8 1195.35L581.98 1192.16L577.16 1195.35L578.71 1189.78L574.18 1186.18L579.96 1185.93Z" fill="#fff" stroke="#0000ff" stroke-width="1.3" stroke-linejoin="miter"/><path d="M593 1178.94L595.02 1184.35L600.8 1184.6L596.27 1188.2L597.82 1193.77L593 1190.58L588.18 1193.77L589.72 1188.2L585.2 1184.6L590.97 1184.35Z" fill="#fff" stroke="#0000ff" stroke-width="1.3" stroke-linejoin="miter"/><path d="M604.01 1177.37L606.04 1182.78L611.81 1183.03L607.29 1186.63L608.83 1192.2L604.01 1189.01L599.19 1192.2L600.74 1186.63L596.21 1183.03L601.99 1182.78Z" fill="#fff" stroke="#0000ff" stroke-width="1.3" stroke-linejoin="miter"/><path d="M615.03 1175.74L617.05 1181.16L622.83 1181.41L618.3 1185.01L619.85 1190.58L615.03 1187.39L610.21 1190.58L611.75 1185.01L607.23 1181.41L613 1181.16Z" fill="#fff" stroke="#0000ff" stroke-width="1.3" stroke-linejoin="miter"/><path d="M626.05 1173.99L628.07 1179.41L633.84 1179.66L629.32 1183.26L630.87 1188.83L626.05 1185.64L621.23 1188.83L622.77 1183.26L618.25 1179.66L624.02 1179.41Z" fill="#fff" stroke="#0000ff" stroke-width="1.3" stroke-linejoin="miter"/><path d="M637.06 1172.24L639.09 1177.65L644.86 1177.9L640.34 1181.5L641.88 1187.07L637.06 1183.88L632.24 1187.07L633.79 1181.5L629.26 1177.9L635.04 1177.65Z" fill="#fff" stroke="#0000ff" stroke-width="1.3" stroke-linejoin="miter"/><path d="M648.08 1170.46L650.1 1175.87L655.88 1176.12L651.35 1179.72L652.9 1185.29L648.08 1182.1L643.26 1185.29L644.8 1179.72L640.28 1176.12L646.05 1175.87Z" fill="#fff" stroke="#0000ff" stroke-width="1.3" stroke-linejoin="miter"/><path d="M659.09 1168.56L661.12 1173.97L666.89 1174.23L662.37 1177.82L663.91 1183.39L659.09 1180.2L654.27 1183.39L655.82 1177.82L651.3 1174.23L657.07 1173.97Z" fill="#fff" stroke="#0000ff" stroke-width="1.3" stroke-linejoin="miter"/><path d="M670.11 1166.67L672.13 1172.08L677.91 1172.33L673.39 1175.93L674.93 1181.5L670.11 1178.31L665.29 1181.5L666.83 1175.93L662.31 1172.33L668.09 1172.08Z" fill="#fff" stroke="#0000ff" stroke-width="1.3" stroke-linejoin="miter"/><path d="M681.13 1164.76L683.15 1170.18L688.93 1170.43L684.4 1174.03L685.95 1179.6L681.13 1176.41L676.31 1179.6L677.85 1174.03L673.33 1170.43L679.1 1170.18Z" fill="#fff" stroke="#0000ff" stroke-width="1.3" stroke-linejoin="miter"/><path d="M692.14 1162.82L694.17 1168.23L699.94 1168.48L695.42 1172.08L696.96 1177.65L692.14 1174.46L687.32 1177.65L688.87 1172.08L684.34 1168.48L690.12 1168.23Z" fill="#fff" stroke="#0000ff" stroke-width="1.3" stroke-linejoin="miter"/><path d="M703.16 1160.87L705.18 1166.28L710.96 1166.54L706.43 1170.14L707.98 1175.71L703.16 1172.52L698.34 1175.71L699.88 1170.14L695.36 1166.54L701.13 1166.28Z" fill="#fff" stroke="#0000ff" stroke-width="1.3" stroke-linejoin="miter"/><path d="M714.18 1158.92L716.2 1164.34L721.97 1164.59L717.45 1168.19L718.99 1173.76L714.18 1170.57L709.36 1173.76L710.9 1168.19L706.38 1164.59L712.15 1164.34Z" fill="#fff" stroke="#0000ff" stroke-width="1.3" stroke-linejoin="miter"/><path d="M725.19 1154.97L727.22 1160.39L732.99 1160.64L728.47 1164.24L730.01 1169.81L725.19 1166.62L720.37 1169.81L721.92 1164.24L717.39 1160.64L723.17 1160.39Z" fill="#fff" stroke="#0000ff" stroke-width="1.3" stroke-linejoin="miter"/><path d="M736.21 1151L738.23 1156.42L744.01 1156.67L739.48 1160.27L741.03 1165.84L736.21 1162.65L731.39 1165.84L732.93 1160.27L728.41 1156.67L734.18 1156.42Z" fill="#fff" stroke="#0000ff" stroke-width="1.3" stroke-linejoin="miter"/><path d="M747.22 1145.77L749.25 1151.18L755.02 1151.43L750.5 1155.03L752.04 1160.6L747.22 1157.41L742.4 1160.6L743.95 1155.03L739.42 1151.43L745.2 1151.18Z" fill="#fff" stroke="#0000ff" stroke-width="1.3" stroke-linejoin="miter"/><path d="M758.24 1139.31L760.26 1144.72L766.04 1144.98L761.52 1148.57L763.06 1154.14L758.24 1150.95L753.42 1154.14L754.96 1148.57L750.44 1144.98L756.22 1144.72Z" fill="#fff" stroke="#0000ff" stroke-width="1.3" stroke-linejoin="miter"/><path d="M769.26 1131.88L771.28 1137.29L777.05 1137.55L772.53 1141.14L774.08 1146.71L769.26 1143.52L764.44 1146.71L765.98 1141.14L761.46 1137.55L767.23 1137.29Z" fill="#fff" stroke="#0000ff" stroke-width="1.3" stroke-linejoin="miter"/><path d="M780.27 1123.16L782.3 1128.57L788.07 1128.83L783.55 1132.43L785.09 1137.99L780.27 1134.8L775.45 1137.99L777 1132.43L772.47 1128.83L778.25 1128.57Z" fill="#fff" stroke="#0000ff" stroke-width="1.3" stroke-linejoin="miter"/><path d="M791.29 1114.34L793.31 1119.75L799.09 1120.01L794.56 1123.6L796.11 1129.17L791.29 1125.98L786.47 1129.17L788.01 1123.6L783.49 1120.01L789.26 1119.75Z" fill="#fff" stroke="#0000ff" stroke-width="1.3" stroke-linejoin="miter"/><path d="M802.3 1103.34L804.33 1108.75L810.1 1109.01L805.58 1112.6L807.12 1118.17L802.3 1114.98L797.48 1118.17L799.03 1112.6L794.51 1109.01L800.28 1108.75Z" fill="#fff" stroke="#0000ff" stroke-width="1.3" stroke-linejoin="miter"/><path d="M813.32 1092.46L815.35 1097.87L821.12 1098.13L816.6 1101.73L818.14 1107.3L813.32 1104.11L808.5 1107.3L810.05 1101.73L805.52 1098.13L811.3 1097.87Z" fill="#fff" stroke="#0000ff" stroke-width="1.3" stroke-linejoin="miter"/><path d="M824.34 1080.25L826.36 1085.66L832.14 1085.91L827.61 1089.51L829.16 1095.08L824.34 1091.89L819.52 1095.08L821.06 1089.51L816.54 1085.91L822.31 1085.66Z" fill="#fff" stroke="#0000ff" stroke-width="1.3" stroke-linejoin="miter"/><path d="M835.35 1069.23L837.38 1074.64L843.15 1074.9L838.63 1078.49L840.17 1084.06L835.35 1080.87L830.53 1084.06L832.08 1078.49L827.55 1074.9L833.33 1074.64Z" fill="#fff" stroke="#0000ff" stroke-width="1.3" stroke-linejoin="miter"/><path d="M846.37 1056.55L848.39 1061.96L854.17 1062.21L849.64 1065.81L851.19 1071.38L846.37 1068.19L841.55 1071.38L843.09 1065.81L838.57 1062.21L844.35 1061.96Z" fill="#fff" stroke="#0000ff" stroke-width="1.3" stroke-linejoin="miter"/><path d="M857.39 1043.22L859.41 1048.63L865.18 1048.89L860.66 1052.48L862.21 1058.05L857.39 1054.86L852.57 1058.05L854.11 1052.48L849.59 1048.89L855.36 1048.63Z" fill="#fff" stroke="#0000ff" stroke-width="1.3" stroke-linejoin="miter"/><path d="M868.4 1028.64L870.43 1034.05L876.2 1034.31L871.68 1037.9L873.22 1043.47L868.4 1040.28L863.58 1043.47L865.13 1037.9L860.6 1034.31L866.38 1034.05Z" fill="#fff" stroke="#0000ff" stroke-width="1.3" stroke-linejoin="miter"/><path d="M879.42 1014.68L881.44 1020.09L887.22 1020.34L882.69 1023.94L884.24 1029.51L879.42 1026.32L874.6 1029.51L876.14 1023.94L871.62 1020.34L877.39 1020.09Z" fill="#fff" stroke="#0000ff" stroke-width="1.3" stroke-linejoin="miter"/><path d="M890.43 999.66L892.46 1005.07L898.23 1005.32L893.71 1008.92L895.25 1014.49L890.43 1011.3L885.61 1014.49L887.16 1008.92L882.64 1005.32L888.41 1005.07Z" fill="#fff" stroke="#0000ff" stroke-width="1.3" stroke-linejoin="miter"/><path d="M901.45 985.64L903.47 991.05L909.25 991.3L904.73 994.9L906.27 1000.47L901.45 997.28L896.63 1000.47L898.18 994.9L893.65 991.3L899.43 991.05Z" fill="#fff" stroke="#0000ff" stroke-width="1.3" stroke-linejoin="miter"/><path d="M912.47 970.93L914.49 976.34L920.27 976.59L915.74 980.19L917.29 985.76L912.47 982.57L907.65 985.76L909.19 980.19L904.67 976.59L910.44 976.34Z" fill="#fff" stroke="#0000ff" stroke-width="1.3" stroke-linejoin="miter"/><path d="M923.48 958.19L925.51 963.61L931.28 963.86L926.76 967.46L928.3 973.03L923.48 969.84L918.66 973.03L920.21 967.46L915.68 963.86L921.46 963.61Z" fill="#fff" stroke="#0000ff" stroke-width="1.3" stroke-linejoin="miter"/><path d="M934.5 949.58L936.52 955L942.3 955.25L937.77 958.85L939.32 964.42L934.5 961.23L929.68 964.42L931.22 958.85L926.7 955.25L932.47 955Z" fill="#fff" stroke="#0000ff" stroke-width="1.3" stroke-linejoin="miter"/></g><g clip-path="url(#cb)"><polyline points="113.8,1282.1 124.82,1277.63 135.83,1275.77 146.85,1277.36 157.86,1282.05 168.88,1291.01 179.9,1303.38 190.91,1321.02 201.93,1337.93 212.95,1355.73 223.96,1366.75 234.98,1374.63 245.99,1379.56 257.01,1384.98 268.03,1389.53 279.04,1393.1 290.06,1394.86 301.08,1396.45 312.09,1397.88 323.11,1396.7 334.12,1394.69 345.14,1391.53 356.16,1386.42 367.17,1381.68 378.19,1376.26 389.21,1371.52 400.22,1365.9 411.24,1360.79 422.25,1355.16 433.27,1349.65 444.29,1344.15 455.3,1339.4 466.32,1333.98 477.33,1329.24 488.35,1324.55 499.37,1319.3 510.38,1315.97 521.4,1312.32 532.42,1309.22 543.43,1306.64 554.45,1304.15 565.46,1302.47 576.48,1300.88 587.5,1299.07 598.51,1297.47 609.53,1296.01 620.55,1294.81 631.56,1294.02 642.58,1293.08 653.59,1292.25 664.61,1290.2 675.63,1284.75 686.64,1276.16 697.66,1266.59 708.68,1253.04 719.69,1236.33 730.71,1222.17 741.72,1207.2 752.74,1193.14 763.76,1178.39 774.77,1165.13 785.79,1150.33 796.8,1136.33 807.82,1121.37 818.84,1107.32 829.85,1092.42 840.87,1078.37 851.89,1063.56 862.9,1050.36 873.92,1037.02 884.93,1021.39 895.95,1007.22 906.97,992.29 917.98,978.25 929,963" fill="none" stroke="#0000ff" stroke-width="1.3"/><path d="M113.8 1274.5L115.87 1280.05L121.79 1280.31L117.16 1283.99L118.74 1289.7L113.8 1286.43L108.86 1289.7L110.44 1283.99L105.81 1280.31L111.73 1280.05Z" fill="#0000ff" stroke="#0000ff" stroke-width="0.8" stroke-linejoin="miter"/><path d="M124.82 1270.03L126.89 1275.58L132.81 1275.84L128.17 1279.53L129.75 1285.23L124.82 1281.96L119.88 1285.23L121.46 1279.53L116.83 1275.84L122.74 1275.58Z" fill="#0000ff" stroke="#0000ff" stroke-width="0.8" stroke-linejoin="miter"/><path d="M135.83 1268.17L137.91 1273.72L143.82 1273.98L139.19 1277.66L140.77 1283.37L135.83 1280.1L130.9 1283.37L132.48 1277.66L127.84 1273.98L133.76 1273.72Z" fill="#0000ff" stroke="#0000ff" stroke-width="0.8" stroke-linejoin="miter"/><path d="M146.85 1269.76L148.92 1275.31L154.84 1275.56L150.2 1279.25L151.79 1284.96L146.85 1281.69L141.91 1284.96L143.49 1279.25L138.86 1275.56L144.77 1275.31Z" fill="#0000ff" stroke="#0000ff" stroke-width="0.8" stroke-linejoin="miter"/><path d="M157.86 1274.45L159.94 1279.99L165.85 1280.25L161.22 1283.94L162.8 1289.64L157.86 1286.38L152.93 1289.64L154.51 1283.94L149.88 1280.25L155.79 1279.99Z" fill="#0000ff" stroke="#0000ff" stroke-width="0.8" stroke-linejoin="miter"/><path d="M168.88 1283.41L170.95 1288.96L176.87 1289.22L172.24 1292.9L173.82 1298.61L168.88 1295.34L163.94 1298.61L165.53 1292.9L160.89 1289.22L166.81 1288.96Z" fill="#0000ff" stroke="#0000ff" stroke-width="0.8" stroke-linejoin="miter"/><path d="M179.9 1295.78L181.97 1301.33L187.89 1301.59L183.25 1305.27L184.83 1310.98L179.9 1307.71L174.96 1310.98L176.54 1305.27L171.91 1301.59L177.82 1301.33Z" fill="#0000ff" stroke="#0000ff" stroke-width="0.8" stroke-linejoin="miter"/><path d="M190.91 1313.43L192.99 1318.97L198.9 1319.23L194.27 1322.92L195.85 1328.62L190.91 1325.35L185.98 1328.62L187.56 1322.92L182.92 1319.23L188.84 1318.97Z" fill="#0000ff" stroke="#0000ff" stroke-width="0.8" stroke-linejoin="miter"/><path d="M201.93 1330.33L204 1335.87L209.92 1336.13L205.28 1339.82L206.87 1345.52L201.93 1342.26L196.99 1345.52L198.57 1339.82L193.94 1336.13L199.86 1335.87Z" fill="#0000ff" stroke="#0000ff" stroke-width="0.8" stroke-linejoin="miter"/><path d="M212.95 1348.14L215.02 1353.68L220.93 1353.94L216.3 1357.63L217.88 1363.33L212.95 1360.06L208.01 1363.33L209.59 1357.63L204.96 1353.94L210.87 1353.68Z" fill="#0000ff" stroke="#0000ff" stroke-width="0.8" stroke-linejoin="miter"/><path d="M223.96 1359.15L226.04 1364.7L231.95 1364.96L227.32 1368.64L228.9 1374.35L223.96 1371.08L219.02 1374.35L220.61 1368.64L215.97 1364.96L221.89 1364.7Z" fill="#0000ff" stroke="#0000ff" stroke-width="0.8" stroke-linejoin="miter"/><path d="M234.98 1367.03L237.05 1372.58L242.97 1372.84L238.33 1376.52L239.92 1382.23L234.98 1378.96L230.04 1382.23L231.62 1376.52L226.99 1372.84L232.9 1372.58Z" fill="#0000ff" stroke="#0000ff" stroke-width="0.8" stroke-linejoin="miter"/><path d="M245.99 1371.96L248.07 1377.51L253.98 1377.77L249.35 1381.45L250.93 1387.16L245.99 1383.89L241.06 1387.16L242.64 1381.45L238.01 1377.77L243.92 1377.51Z" fill="#0000ff" stroke="#0000ff" stroke-width="0.8" stroke-linejoin="miter"/><path d="M257.01 1377.38L259.08 1382.93L265 1383.19L260.37 1386.87L261.95 1392.58L257.01 1389.31L252.07 1392.58L253.66 1386.87L249.02 1383.19L254.94 1382.93Z" fill="#0000ff" stroke="#0000ff" stroke-width="0.8" stroke-linejoin="miter"/><path d="M268.03 1381.93L270.1 1387.48L276.02 1387.74L271.38 1391.42L272.96 1397.13L268.03 1393.86L263.09 1397.13L264.67 1391.42L260.04 1387.74L265.95 1387.48Z" fill="#0000ff" stroke="#0000ff" stroke-width="0.8" stroke-linejoin="miter"/><path d="M279.04 1385.5L281.12 1391.04L287.03 1391.3L282.4 1394.99L283.98 1400.69L279.04 1397.43L274.11 1400.69L275.69 1394.99L271.05 1391.3L276.97 1391.04Z" fill="#0000ff" stroke="#0000ff" stroke-width="0.8" stroke-linejoin="miter"/><path d="M290.06 1387.26L292.13 1392.81L298.05 1393.07L293.41 1396.75L295 1402.46L290.06 1399.19L285.12 1402.46L286.7 1396.75L282.07 1393.07L287.99 1392.81Z" fill="#0000ff" stroke="#0000ff" stroke-width="0.8" stroke-linejoin="miter"/><path d="M301.08 1388.85L303.15 1394.4L309.06 1394.66L304.43 1398.34L306.01 1404.05L301.08 1400.78L296.14 1404.05L297.72 1398.34L293.09 1394.66L299 1394.4Z" fill="#0000ff" stroke="#0000ff" stroke-width="0.8" stroke-linejoin="miter"/><path d="M312.09 1390.28L314.17 1395.83L320.08 1396.08L315.45 1399.77L317.03 1405.48L312.09 1402.21L307.15 1405.48L308.74 1399.77L304.1 1396.08L310.02 1395.83Z" fill="#0000ff" stroke="#0000ff" stroke-width="0.8" stroke-linejoin="miter"/><path d="M323.11 1389.1L325.18 1394.65L331.1 1394.9L326.46 1398.59L328.05 1404.3L323.11 1401.03L318.17 1404.3L319.75 1398.59L315.12 1394.9L321.03 1394.65Z" fill="#0000ff" stroke="#0000ff" stroke-width="0.8" stroke-linejoin="miter"/><path d="M334.12 1387.09L336.2 1392.64L342.11 1392.9L337.48 1396.58L339.06 1402.29L334.12 1399.02L329.19 1402.29L330.77 1396.58L326.14 1392.9L332.05 1392.64Z" fill="#0000ff" stroke="#0000ff" stroke-width="0.8" stroke-linejoin="miter"/><path d="M345.14 1383.93L347.21 1389.47L353.13 1389.73L348.5 1393.42L350.08 1399.12L345.14 1395.86L340.2 1399.12L341.78 1393.42L337.15 1389.73L343.07 1389.47Z" fill="#0000ff" stroke="#0000ff" stroke-width="0.8" stroke-linejoin="miter"/><path d="M356.16 1378.82L358.23 1384.37L364.15 1384.63L359.51 1388.31L361.09 1394.02L356.16 1390.75L351.22 1394.02L352.8 1388.31L348.17 1384.63L354.08 1384.37Z" fill="#0000ff" stroke="#0000ff" stroke-width="0.8" stroke-linejoin="miter"/><path d="M367.17 1374.08L369.25 1379.63L375.16 1379.89L370.53 1383.57L372.11 1389.28L367.17 1386.01L362.24 1389.28L363.82 1383.57L359.18 1379.89L365.1 1379.63Z" fill="#0000ff" stroke="#0000ff" stroke-width="0.8" stroke-linejoin="miter"/><path d="M378.19 1368.67L380.26 1374.21L386.18 1374.47L381.54 1378.16L383.13 1383.86L378.19 1380.59L373.25 1383.86L374.83 1378.16L370.2 1374.47L376.12 1374.21Z" fill="#0000ff" stroke="#0000ff" stroke-width="0.8" stroke-linejoin="miter"/><path d="M389.21 1363.93L391.28 1369.47L397.19 1369.73L392.56 1373.42L394.14 1379.12L389.21 1375.86L384.27 1379.12L385.85 1373.42L381.22 1369.73L387.13 1369.47Z" fill="#0000ff" stroke="#0000ff" stroke-width="0.8" stroke-linejoin="miter"/><path d="M400.22 1358.3L402.3 1363.85L408.21 1364.11L403.58 1367.79L405.16 1373.5L400.22 1370.23L395.28 1373.5L396.87 1367.79L392.23 1364.11L398.15 1363.85Z" fill="#0000ff" stroke="#0000ff" stroke-width="0.8" stroke-linejoin="miter"/><path d="M411.24 1353.2L413.31 1358.74L419.23 1359L414.59 1362.69L416.17 1368.39L411.24 1365.12L406.3 1368.39L407.88 1362.69L403.25 1359L409.16 1358.74Z" fill="#0000ff" stroke="#0000ff" stroke-width="0.8" stroke-linejoin="miter"/><path d="M422.25 1347.57L424.33 1353.11L430.24 1353.37L425.61 1357.06L427.19 1362.76L422.25 1359.49L417.32 1362.76L418.9 1357.06L414.26 1353.37L420.18 1353.11Z" fill="#0000ff" stroke="#0000ff" stroke-width="0.8" stroke-linejoin="miter"/><path d="M433.27 1342.05L435.34 1347.6L441.26 1347.86L436.63 1351.54L438.21 1357.25L433.27 1353.98L428.33 1357.25L429.91 1351.54L425.28 1347.86L431.2 1347.6Z" fill="#0000ff" stroke="#0000ff" stroke-width="0.8" stroke-linejoin="miter"/><path d="M444.29 1336.55L446.36 1342.1L452.28 1342.35L447.64 1346.04L449.22 1351.75L444.29 1348.48L439.35 1351.75L440.93 1346.04L436.3 1342.35L442.21 1342.1Z" fill="#0000ff" stroke="#0000ff" stroke-width="0.8" stroke-linejoin="miter"/><path d="M455.3 1331.8L457.38 1337.35L463.29 1337.6L458.66 1341.29L460.24 1347L455.3 1343.73L450.36 1347L451.95 1341.29L447.31 1337.6L453.23 1337.35Z" fill="#0000ff" stroke="#0000ff" stroke-width="0.8" stroke-linejoin="miter"/><path d="M466.32 1326.38L468.39 1331.93L474.31 1332.19L469.67 1335.87L471.26 1341.58L466.32 1338.31L461.38 1341.58L462.96 1335.87L458.33 1332.19L464.24 1331.93Z" fill="#0000ff" stroke="#0000ff" stroke-width="0.8" stroke-linejoin="miter"/><path d="M477.33 1321.64L479.41 1327.19L485.32 1327.45L480.69 1331.13L482.27 1336.84L477.33 1333.57L472.4 1336.84L473.98 1331.13L469.35 1327.45L475.26 1327.19Z" fill="#0000ff" stroke="#0000ff" stroke-width="0.8" stroke-linejoin="miter"/><path d="M488.35 1316.95L490.42 1322.5L496.34 1322.76L491.71 1326.44L493.29 1332.15L488.35 1328.88L483.41 1332.15L485 1326.44L480.36 1322.76L486.28 1322.5Z" fill="#0000ff" stroke="#0000ff" stroke-width="0.8" stroke-linejoin="miter"/><path d="M499.37 1311.7L501.44 1317.24L507.36 1317.5L502.72 1321.19L504.3 1326.89L499.37 1323.63L494.43 1326.89L496.01 1321.19L491.38 1317.5L497.29 1317.24Z" fill="#0000ff" stroke="#0000ff" stroke-width="0.8" stroke-linejoin="miter"/><path d="M510.38 1308.38L512.46 1313.92L518.37 1314.18L513.74 1317.87L515.32 1323.57L510.38 1320.3L505.45 1323.57L507.03 1317.87L502.39 1314.18L508.31 1313.92Z" fill="#0000ff" stroke="#0000ff" stroke-width="0.8" stroke-linejoin="miter"/><path d="M521.4 1304.72L523.47 1310.26L529.39 1310.52L524.75 1314.21L526.34 1319.91L521.4 1316.65L516.46 1319.91L518.04 1314.21L513.41 1310.52L519.33 1310.26Z" fill="#0000ff" stroke="#0000ff" stroke-width="0.8" stroke-linejoin="miter"/><path d="M532.42 1301.62L534.49 1307.17L540.4 1307.43L535.77 1311.11L537.35 1316.82L532.42 1313.55L527.48 1316.82L529.06 1311.11L524.43 1307.43L530.34 1307.17Z" fill="#0000ff" stroke="#0000ff" stroke-width="0.8" stroke-linejoin="miter"/><path d="M543.43 1299.04L545.51 1304.59L551.42 1304.85L546.79 1308.53L548.37 1314.24L543.43 1310.97L538.49 1314.24L540.08 1308.53L535.44 1304.85L541.36 1304.59Z" fill="#0000ff" stroke="#0000ff" stroke-width="0.8" stroke-linejoin="miter"/><path d="M554.45 1296.55L556.52 1302.1L562.44 1302.36L557.8 1306.04L559.39 1311.75L554.45 1308.48L549.51 1311.75L551.09 1306.04L546.46 1302.36L552.37 1302.1Z" fill="#0000ff" stroke="#0000ff" stroke-width="0.8" stroke-linejoin="miter"/><path d="M565.46 1294.87L567.54 1300.42L573.45 1300.68L568.82 1304.36L570.4 1310.07L565.46 1306.8L560.53 1310.07L562.11 1304.36L557.48 1300.68L563.39 1300.42Z" fill="#0000ff" stroke="#0000ff" stroke-width="0.8" stroke-linejoin="miter"/><path d="M576.48 1293.28L578.55 1298.82L584.47 1299.08L579.84 1302.77L581.42 1308.47L576.48 1305.21L571.54 1308.47L573.13 1302.77L568.49 1299.08L574.41 1298.82Z" fill="#0000ff" stroke="#0000ff" stroke-width="0.8" stroke-linejoin="miter"/><path d="M587.5 1291.47L589.57 1297.02L595.49 1297.28L590.85 1300.96L592.43 1306.67L587.5 1303.4L582.56 1306.67L584.14 1300.96L579.51 1297.28L585.42 1297.02Z" fill="#0000ff" stroke="#0000ff" stroke-width="0.8" stroke-linejoin="miter"/><path d="M598.51 1289.87L600.59 1295.42L606.5 1295.67L601.87 1299.36L603.45 1305.07L598.51 1301.8L593.58 1305.07L595.16 1299.36L590.52 1295.67L596.44 1295.42Z" fill="#0000ff" stroke="#0000ff" stroke-width="0.8" stroke-linejoin="miter"/><path d="M609.53 1288.41L611.6 1293.96L617.52 1294.21L612.88 1297.9L614.47 1303.61L609.53 1300.34L604.59 1303.61L606.17 1297.9L601.54 1294.21L607.46 1293.96Z" fill="#0000ff" stroke="#0000ff" stroke-width="0.8" stroke-linejoin="miter"/><path d="M620.55 1287.21L622.62 1292.75L628.53 1293.01L623.9 1296.7L625.48 1302.4L620.55 1299.14L615.61 1302.4L617.19 1296.7L612.56 1293.01L618.47 1292.75Z" fill="#0000ff" stroke="#0000ff" stroke-width="0.8" stroke-linejoin="miter"/><path d="M631.56 1286.43L633.64 1291.97L639.55 1292.23L634.92 1295.92L636.5 1301.62L631.56 1298.35L626.62 1301.62L628.21 1295.92L623.57 1292.23L629.49 1291.97Z" fill="#0000ff" stroke="#0000ff" stroke-width="0.8" stroke-linejoin="miter"/><path d="M642.58 1285.48L644.65 1291.02L650.57 1291.28L645.93 1294.97L647.52 1300.67L642.58 1297.41L637.64 1300.67L639.22 1294.97L634.59 1291.28L640.5 1291.02Z" fill="#0000ff" stroke="#0000ff" stroke-width="0.8" stroke-linejoin="miter"/><path d="M653.59 1284.65L655.67 1290.2L661.58 1290.45L656.95 1294.14L658.53 1299.85L653.59 1296.58L648.66 1299.85L650.24 1294.14L645.61 1290.45L651.52 1290.2Z" fill="#0000ff" stroke="#0000ff" stroke-width="0.8" stroke-linejoin="miter"/><path d="M664.61 1282.6L666.68 1288.15L672.6 1288.41L667.97 1292.09L669.55 1297.8L664.61 1294.53L659.67 1297.8L661.25 1292.09L656.62 1288.41L662.54 1288.15Z" fill="#0000ff" stroke="#0000ff" stroke-width="0.8" stroke-linejoin="miter"/><path d="M675.63 1277.15L677.7 1282.7L683.62 1282.95L678.98 1286.64L680.56 1292.35L675.63 1289.08L670.69 1292.35L672.27 1286.64L667.64 1282.95L673.55 1282.7Z" fill="#0000ff" stroke="#0000ff" stroke-width="0.8" stroke-linejoin="miter"/><path d="M686.64 1268.57L688.72 1274.11L694.63 1274.37L690 1278.06L691.58 1283.76L686.64 1280.49L681.71 1283.76L683.29 1278.06L678.65 1274.37L684.57 1274.11Z" fill="#0000ff" stroke="#0000ff" stroke-width="0.8" stroke-linejoin="miter"/><path d="M697.66 1258.99L699.73 1264.53L705.65 1264.79L701.01 1268.48L702.6 1274.18L697.66 1270.92L692.72 1274.18L694.3 1268.48L689.67 1264.79L695.59 1264.53Z" fill="#0000ff" stroke="#0000ff" stroke-width="0.8" stroke-linejoin="miter"/><path d="M708.68 1245.44L710.75 1250.98L716.66 1251.24L712.03 1254.93L713.61 1260.63L708.68 1257.37L703.74 1260.63L705.32 1254.93L700.69 1251.24L706.6 1250.98Z" fill="#0000ff" stroke="#0000ff" stroke-width="0.8" stroke-linejoin="miter"/><path d="M719.69 1228.73L721.76 1234.28L727.68 1234.54L723.05 1238.22L724.63 1243.93L719.69 1240.66L714.75 1243.93L716.34 1238.22L711.7 1234.54L717.62 1234.28Z" fill="#0000ff" stroke="#0000ff" stroke-width="0.8" stroke-linejoin="miter"/><path d="M730.71 1214.57L732.78 1220.11L738.7 1220.37L734.06 1224.06L735.64 1229.76L730.71 1226.5L725.77 1229.76L727.35 1224.06L722.72 1220.37L728.63 1220.11Z" fill="#0000ff" stroke="#0000ff" stroke-width="0.8" stroke-linejoin="miter"/><path d="M741.72 1199.6L743.8 1205.15L749.71 1205.4L745.08 1209.09L746.66 1214.8L741.72 1211.53L736.79 1214.8L738.37 1209.09L733.73 1205.4L739.65 1205.15Z" fill="#0000ff" stroke="#0000ff" stroke-width="0.8" stroke-linejoin="miter"/><path d="M752.74 1185.55L754.81 1191.09L760.73 1191.35L756.1 1195.04L757.68 1200.74L752.74 1197.47L747.8 1200.74L749.38 1195.04L744.75 1191.35L750.67 1191.09Z" fill="#0000ff" stroke="#0000ff" stroke-width="0.8" stroke-linejoin="miter"/><path d="M763.76 1170.79L765.83 1176.34L771.74 1176.59L767.11 1180.28L768.69 1185.99L763.76 1182.72L758.82 1185.99L760.4 1180.28L755.77 1176.59L761.68 1176.34Z" fill="#0000ff" stroke="#0000ff" stroke-width="0.8" stroke-linejoin="miter"/><path d="M774.77 1157.53L776.85 1163.07L782.76 1163.33L778.13 1167.02L779.71 1172.72L774.77 1169.46L769.83 1172.72L771.42 1167.02L766.78 1163.33L772.7 1163.07Z" fill="#0000ff" stroke="#0000ff" stroke-width="0.8" stroke-linejoin="miter"/><path d="M785.79 1142.73L787.86 1148.28L793.78 1148.53L789.14 1152.22L790.73 1157.93L785.79 1154.66L780.85 1157.93L782.43 1152.22L777.8 1148.53L783.71 1148.28Z" fill="#0000ff" stroke="#0000ff" stroke-width="0.8" stroke-linejoin="miter"/><path d="M796.8 1128.74L798.88 1134.28L804.79 1134.54L800.16 1138.23L801.74 1143.93L796.8 1140.66L791.87 1143.93L793.45 1138.23L788.82 1134.54L794.73 1134.28Z" fill="#0000ff" stroke="#0000ff" stroke-width="0.8" stroke-linejoin="miter"/><path d="M807.82 1113.78L809.89 1119.32L815.81 1119.58L811.18 1123.27L812.76 1128.97L807.82 1125.7L802.88 1128.97L804.47 1123.27L799.83 1119.58L805.75 1119.32Z" fill="#0000ff" stroke="#0000ff" stroke-width="0.8" stroke-linejoin="miter"/><path d="M818.84 1099.72L820.91 1105.27L826.83 1105.53L822.19 1109.21L823.77 1114.92L818.84 1111.65L813.9 1114.92L815.48 1109.21L810.85 1105.53L816.76 1105.27Z" fill="#0000ff" stroke="#0000ff" stroke-width="0.8" stroke-linejoin="miter"/><path d="M829.85 1084.82L831.93 1090.37L837.84 1090.63L833.21 1094.31L834.79 1100.02L829.85 1096.75L824.92 1100.02L826.5 1094.31L821.86 1090.63L827.78 1090.37Z" fill="#0000ff" stroke="#0000ff" stroke-width="0.8" stroke-linejoin="miter"/><path d="M840.87 1070.77L842.94 1076.31L848.86 1076.57L844.22 1080.26L845.81 1085.96L840.87 1082.7L835.93 1085.96L837.51 1080.26L832.88 1076.57L838.8 1076.31Z" fill="#0000ff" stroke="#0000ff" stroke-width="0.8" stroke-linejoin="miter"/><path d="M851.89 1055.96L853.96 1061.51L859.87 1061.76L855.24 1065.45L856.82 1071.16L851.89 1067.89L846.95 1071.16L848.53 1065.45L843.9 1061.76L849.81 1061.51Z" fill="#0000ff" stroke="#0000ff" stroke-width="0.8" stroke-linejoin="miter"/><path d="M862.9 1042.76L864.98 1048.31L870.89 1048.56L866.26 1052.25L867.84 1057.96L862.9 1054.69L857.96 1057.96L859.55 1052.25L854.91 1048.56L860.83 1048.31Z" fill="#0000ff" stroke="#0000ff" stroke-width="0.8" stroke-linejoin="miter"/><path d="M873.92 1029.43L875.99 1034.97L881.91 1035.23L877.27 1038.92L878.86 1044.62L873.92 1041.35L868.98 1044.62L870.56 1038.92L865.93 1035.23L871.84 1034.97Z" fill="#0000ff" stroke="#0000ff" stroke-width="0.8" stroke-linejoin="miter"/><path d="M884.93 1013.8L887.01 1019.34L892.92 1019.6L888.29 1023.29L889.87 1028.99L884.93 1025.72L880 1028.99L881.58 1023.29L876.95 1019.6L882.86 1019.34Z" fill="#0000ff" stroke="#0000ff" stroke-width="0.8" stroke-linejoin="miter"/><path d="M895.95 999.62L898.02 1005.17L903.94 1005.43L899.31 1009.11L900.89 1014.82L895.95 1011.55L891.01 1014.82L892.6 1009.11L887.96 1005.43L893.88 1005.17Z" fill="#0000ff" stroke="#0000ff" stroke-width="0.8" stroke-linejoin="miter"/><path d="M906.97 984.69L909.04 990.23L914.96 990.49L910.32 994.18L911.9 999.88L906.97 996.62L902.03 999.88L903.61 994.18L898.98 990.49L904.89 990.23Z" fill="#0000ff" stroke="#0000ff" stroke-width="0.8" stroke-linejoin="miter"/><path d="M917.98 970.65L920.06 976.2L925.97 976.45L921.34 980.14L922.92 985.85L917.98 982.58L913.05 985.85L914.63 980.14L909.99 976.45L915.91 976.2Z" fill="#0000ff" stroke="#0000ff" stroke-width="0.8" stroke-linejoin="miter"/><path d="M929 955.4L931.07 960.95L936.99 961.21L932.35 964.89L933.94 970.6L929 967.33L924.06 970.6L925.64 964.89L921.01 961.21L926.93 960.95Z" fill="#0000ff" stroke="#0000ff" stroke-width="0.8" stroke-linejoin="miter"/></g><g clip-path="url(#cc)"><rect x="113.25" y="2071.31" width="12.5" height="12.5" fill="#fff" stroke="#ff0000" stroke-width="1.3"/><rect x="124.28" y="2057.26" width="12.5" height="12.5" fill="#fff" stroke="#ff0000" stroke-width="1.3"/><rect x="135.3" y="2044.38" width="12.5" height="12.5" fill="#fff" stroke="#ff0000" stroke-width="1.3"/><rect x="146.33" y="2033.51" width="12.5" height="12.5" fill="#fff" stroke="#ff0000" stroke-width="1.3"/><rect x="157.36" y="2022.49" width="12.5" height="12.5" fill="#fff" stroke="#ff0000" stroke-width="1.3"/><rect x="168.38" y="2013.3" width="12.5" height="12.5" fill="#fff" stroke="#ff0000" stroke-width="1.3"/><rect x="179.41" y="2005.62" width="12.5" height="12.5" fill="#fff" stroke="#ff0000" stroke-width="1.3"/><rect x="190.44" y="2000.43" width="12.5" height="12.5" fill="#fff" stroke="#ff0000" stroke-width="1.3"/><rect x="201.47" y="1995.16" width="12.5" height="12.5" fill="#fff" stroke="#ff0000" stroke-width="1.3"/><rect x="212.49" y="1991.78" width="12.5" height="12.5" fill="#fff" stroke="#ff0000" stroke-width="1.3"/><rect x="223.52" y="1988.22" width="12.5" height="12.5" fill="#fff" stroke="#ff0000" stroke-width="1.3"/><rect x="234.55" y="1985.89" width="12.5" height="12.5" fill="#fff" stroke="#ff0000" stroke-width="1.3"/><rect x="245.57" y="1983.16" width="12.5" height="12.5" fill="#fff" stroke="#ff0000" stroke-width="1.3"/><rect x="256.6" y="1981.45" width="12.5" height="12.5" fill="#fff" stroke="#ff0000" stroke-width="1.3"/><rect x="267.63" y="1979.6" width="12.5" height="12.5" fill="#fff" stroke="#ff0000" stroke-width="1.3"/><rect x="278.65" y="1977.99" width="12.5" height="12.5" fill="#fff" stroke="#ff0000" stroke-width="1.3"/><rect x="289.68" y="1976.22" width="12.5" height="12.5" fill="#fff" stroke="#ff0000" stroke-width="1.3"/><rect x="300.71" y="1974.63" width="12.5" height="12.5" fill="#fff" stroke="#ff0000" stroke-width="1.3"/><rect x="311.74" y="1972.84" width="12.5" height="12.5" fill="#fff" stroke="#ff0000" stroke-width="1.3"/><rect x="322.76" y="1971.53" width="12.5" height="12.5" fill="#fff" stroke="#ff0000" stroke-width="1.3"/><rect x="333.79" y="1970.39" width="12.5" height="12.5" fill="#fff" stroke="#ff0000" stroke-width="1.3"/><rect x="344.82" y="1969.44" width="12.5" height="12.5" fill="#fff" stroke="#ff0000" stroke-width="1.3"/><rect x="355.84" y="1968.29" width="12.5" height="12.5" fill="#fff" stroke="#ff0000" stroke-width="1.3"/><rect x="366.87" y="1967.12" width="12.5" height="12.5" fill="#fff" stroke="#ff0000" stroke-width="1.3"/><rect x="377.9" y="1965.92" width="12.5" height="12.5" fill="#fff" stroke="#ff0000" stroke-width="1.3"/><rect x="388.92" y="1964.91" width="12.5" height="12.5" fill="#fff" stroke="#ff0000" stroke-width="1.3"/><rect x="399.95" y="1963.6" width="12.5" height="12.5" fill="#fff" stroke="#ff0000" stroke-width="1.3"/><rect x="410.98" y="1962.64" width="12.5" height="12.5" fill="#fff" stroke="#ff0000" stroke-width="1.3"/><rect x="422.01" y="1961.85" width="12.5" height="12.5" fill="#fff" stroke="#ff0000" stroke-width="1.3"/><rect x="433.03" y="1960.95" width="12.5" height="12.5" fill="#fff" stroke="#ff0000" stroke-width="1.3"/><rect x="444.06" y="1959.95" width="12.5" height="12.5" fill="#fff" stroke="#ff0000" stroke-width="1.3"/><rect x="455.09" y="1958.95" width="12.5" height="12.5" fill="#fff" stroke="#ff0000" stroke-width="1.3"/><rect x="466.11" y="1957.98" width="12.5" height="12.5" fill="#fff" stroke="#ff0000" stroke-width="1.3"/><rect x="477.14" y="1957.05" width="12.5" height="12.5" fill="#fff" stroke="#ff0000" stroke-width="1.3"/><rect x="488.17" y="1956.13" width="12.5" height="12.5" fill="#fff" stroke="#ff0000" stroke-width="1.3"/><rect x="499.19" y="1955.2" width="12.5" height="12.5" fill="#fff" stroke="#ff0000" stroke-width="1.3"/><rect x="510.22" y="1954.28" width="12.5" height="12.5" fill="#fff" stroke="#ff0000" stroke-width="1.3"/><rect x="521.25" y="1953.36" width="12.5" height="12.5" fill="#fff" stroke="#ff0000" stroke-width="1.3"/><rect x="532.28" y="1952.39" width="12.5" height="12.5" fill="#fff" stroke="#ff0000" stroke-width="1.3"/><rect x="543.3" y="1951.31" width="12.5" height="12.5" fill="#fff" stroke="#ff0000" stroke-width="1.3"/><rect x="554.33" y="1950.24" width="12.5" height="12.5" fill="#fff" stroke="#ff0000" stroke-width="1.3"/><rect x="565.36" y="1949.15" width="12.5" height="12.5" fill="#fff" stroke="#ff0000" stroke-width="1.3"/><rect x="576.38" y="1948" width="12.5" height="12.5" fill="#fff" stroke="#ff0000" stroke-width="1.3"/><rect x="587.41" y="1946.85" width="12.5" height="12.5" fill="#fff" stroke="#ff0000" stroke-width="1.3"/><rect x="598.44" y="1945.67" width="12.5" height="12.5" fill="#fff" stroke="#ff0000" stroke-width="1.3"/><rect x="609.46" y="1944.37" width="12.5" height="12.5" fill="#fff" stroke="#ff0000" stroke-width="1.3"/><rect x="620.49" y="1943.07" width="12.5" height="12.5" fill="#fff" stroke="#ff0000" stroke-width="1.3"/><rect x="631.52" y="1941.76" width="12.5" height="12.5" fill="#fff" stroke="#ff0000" stroke-width="1.3"/><rect x="642.55" y="1940.46" width="12.5" height="12.5" fill="#fff" stroke="#ff0000" stroke-width="1.3"/><rect x="653.57" y="1939.16" width="12.5" height="12.5" fill="#fff" stroke="#ff0000" stroke-width="1.3"/><rect x="664.6" y="1937.89" width="12.5" height="12.5" fill="#fff" stroke="#ff0000" stroke-width="1.3"/><rect x="675.63" y="1936.77" width="12.5" height="12.5" fill="#fff" stroke="#ff0000" stroke-width="1.3"/><rect x="686.65" y="1935.64" width="12.5" height="12.5" fill="#fff" stroke="#ff0000" stroke-width="1.3"/><rect x="697.68" y="1934" width="12.5" height="12.5" fill="#fff" stroke="#ff0000" stroke-width="1.3"/><rect x="708.71" y="1931.42" width="12.5" height="12.5" fill="#fff" stroke="#ff0000" stroke-width="1.3"/><rect x="719.73" y="1928.66" width="12.5" height="12.5" fill="#fff" stroke="#ff0000" stroke-width="1.3"/><rect x="730.76" y="1925.11" width="12.5" height="12.5" fill="#fff" stroke="#ff0000" stroke-width="1.3"/><rect x="741.79" y="1921.14" width="12.5" height="12.5" fill="#fff" stroke="#ff0000" stroke-width="1.3"/><rect x="752.81" y="1915.27" width="12.5" height="12.5" fill="#fff" stroke="#ff0000" stroke-width="1.3"/><rect x="763.84" y="1907.88" width="12.5" height="12.5" fill="#fff" stroke="#ff0000" stroke-width="1.3"/><rect x="774.87" y="1899.28" width="12.5" height="12.5" fill="#fff" stroke="#ff0000" stroke-width="1.3"/><rect x="785.9" y="1889.62" width="12.5" height="12.5" fill="#fff" stroke="#ff0000" stroke-width="1.3"/><rect x="796.92" y="1878.74" width="12.5" height="12.5" fill="#fff" stroke="#ff0000" stroke-width="1.3"/><rect x="807.95" y="1867.41" width="12.5" height="12.5" fill="#fff" stroke="#ff0000" stroke-width="1.3"/><rect x="818.98" y="1854.32" width="12.5" height="12.5" fill="#fff" stroke="#ff0000" stroke-width="1.3"/><rect x="830" y="1839.19" width="12.5" height="12.5" fill="#fff" stroke="#ff0000" stroke-width="1.3"/><rect x="841.03" y="1824.73" width="12.5" height="12.5" fill="#fff" stroke="#ff0000" stroke-width="1.3"/><rect x="852.06" y="1809.64" width="12.5" height="12.5" fill="#fff" stroke="#ff0000" stroke-width="1.3"/><rect x="863.08" y="1792.72" width="12.5" height="12.5" fill="#fff" stroke="#ff0000" stroke-width="1.3"/><rect x="874.11" y="1775.68" width="12.5" height="12.5" fill="#fff" stroke="#ff0000" stroke-width="1.3"/><rect x="885.14" y="1758.48" width="12.5" height="12.5" fill="#fff" stroke="#ff0000" stroke-width="1.3"/><rect x="896.17" y="1741.27" width="12.5" height="12.5" fill="#fff" stroke="#ff0000" stroke-width="1.3"/><rect x="907.19" y="1724" width="12.5" height="12.5" fill="#fff" stroke="#ff0000" stroke-width="1.3"/><rect x="918.22" y="1705.72" width="12.5" height="12.5" fill="#fff" stroke="#ff0000" stroke-width="1.3"/><rect x="929.25" y="1696.25" width="12.5" height="12.5" fill="#fff" stroke="#ff0000" stroke-width="1.3"/></g><g clip-path="url(#cc)"><path d="M119.5 2067.97L128 2082.97L111 2082.97Z" fill="#fff" stroke="#008080" stroke-width="1.3" stroke-linejoin="miter"/><path d="M130.53 2053.25L139.03 2068.25L122.03 2068.25Z" fill="#fff" stroke="#008080" stroke-width="1.3" stroke-linejoin="miter"/><path d="M141.55 2039.69L150.05 2054.69L133.05 2054.69Z" fill="#fff" stroke="#008080" stroke-width="1.3" stroke-linejoin="miter"/><path d="M152.58 2028.3L161.08 2043.3L144.08 2043.3Z" fill="#fff" stroke="#008080" stroke-width="1.3" stroke-linejoin="miter"/><path d="M163.61 2017.23L172.11 2032.23L155.11 2032.23Z" fill="#fff" stroke="#008080" stroke-width="1.3" stroke-linejoin="miter"/><path d="M174.63 2008L183.13 2023L166.13 2023Z" fill="#fff" stroke="#008080" stroke-width="1.3" stroke-linejoin="miter"/><path d="M185.66 2000.26L194.16 2015.26L177.16 2015.26Z" fill="#fff" stroke="#008080" stroke-width="1.3" stroke-linejoin="miter"/><path d="M196.69 1995.02L205.19 2010.02L188.19 2010.02Z" fill="#fff" stroke="#008080" stroke-width="1.3" stroke-linejoin="miter"/><path d="M207.72 1989.71L216.22 2004.71L199.22 2004.71Z" fill="#fff" stroke="#008080" stroke-width="1.3" stroke-linejoin="miter"/><path d="M218.74 1986.28L227.24 2001.28L210.24 2001.28Z" fill="#fff" stroke="#008080" stroke-width="1.3" stroke-linejoin="miter"/><path d="M229.77 1982.67L238.27 1997.67L221.27 1997.67Z" fill="#fff" stroke="#008080" stroke-width="1.3" stroke-linejoin="miter"/><path d="M240.8 1980.3L249.3 1995.3L232.3 1995.3Z" fill="#fff" stroke="#008080" stroke-width="1.3" stroke-linejoin="miter"/><path d="M251.82 1977.52L260.32 1992.52L243.32 1992.52Z" fill="#fff" stroke="#008080" stroke-width="1.3" stroke-linejoin="miter"/><path d="M262.85 1975.76L271.35 1990.76L254.35 1990.76Z" fill="#fff" stroke="#008080" stroke-width="1.3" stroke-linejoin="miter"/><path d="M273.88 1973.86L282.38 1988.86L265.38 1988.86Z" fill="#fff" stroke="#008080" stroke-width="1.3" stroke-linejoin="miter"/><path d="M284.9 1972.21L293.4 1987.21L276.4 1987.21Z" fill="#fff" stroke="#008080" stroke-width="1.3" stroke-linejoin="miter"/><path d="M295.93 1970.39L304.43 1985.39L287.43 1985.39Z" fill="#fff" stroke="#008080" stroke-width="1.3" stroke-linejoin="miter"/><path d="M306.96 1968.75L315.46 1983.75L298.46 1983.75Z" fill="#fff" stroke="#008080" stroke-width="1.3" stroke-linejoin="miter"/><path d="M317.99 1966.91L326.49 1981.91L309.49 1981.91Z" fill="#fff" stroke="#008080" stroke-width="1.3" stroke-linejoin="miter"/><path d="M329.01 1965.55L337.51 1980.55L320.51 1980.55Z" fill="#fff" stroke="#008080" stroke-width="1.3" stroke-linejoin="miter"/><path d="M340.04 1964.78L348.54 1979.78L331.54 1979.78Z" fill="#fff" stroke="#008080" stroke-width="1.3" stroke-linejoin="miter"/><path d="M351.07 1964.24L359.57 1979.24L342.57 1979.24Z" fill="#fff" stroke="#008080" stroke-width="1.3" stroke-linejoin="miter"/><path d="M362.09 1963.5L370.59 1978.5L353.59 1978.5Z" fill="#fff" stroke="#008080" stroke-width="1.3" stroke-linejoin="miter"/><path d="M373.12 1962.73L381.62 1977.73L364.62 1977.73Z" fill="#fff" stroke="#008080" stroke-width="1.3" stroke-linejoin="miter"/><path d="M384.15 1961.94L392.65 1976.94L375.65 1976.94Z" fill="#fff" stroke="#008080" stroke-width="1.3" stroke-linejoin="miter"/><path d="M395.17 1961.33L403.67 1976.33L386.67 1976.33Z" fill="#fff" stroke="#008080" stroke-width="1.3" stroke-linejoin="miter"/><path d="M406.2 1960.34L414.7 1975.34L397.7 1975.34Z" fill="#fff" stroke="#008080" stroke-width="1.3" stroke-linejoin="miter"/><path d="M417.23 1959.61L425.73 1974.61L408.73 1974.61Z" fill="#fff" stroke="#008080" stroke-width="1.3" stroke-linejoin="miter"/><path d="M428.26 1959.05L436.76 1974.05L419.76 1974.05Z" fill="#fff" stroke="#008080" stroke-width="1.3" stroke-linejoin="miter"/><path d="M439.28 1958.39L447.78 1973.39L430.78 1973.39Z" fill="#fff" stroke="#008080" stroke-width="1.3" stroke-linejoin="miter"/><path d="M450.31 1957.6L458.81 1972.6L441.81 1972.6Z" fill="#fff" stroke="#008080" stroke-width="1.3" stroke-linejoin="miter"/><path d="M461.34 1956.27L469.84 1971.27L452.84 1971.27Z" fill="#fff" stroke="#008080" stroke-width="1.3" stroke-linejoin="miter"/><path d="M472.36 1954.96L480.86 1969.96L463.86 1969.96Z" fill="#fff" stroke="#008080" stroke-width="1.3" stroke-linejoin="miter"/><path d="M483.39 1953.7L491.89 1968.7L474.89 1968.7Z" fill="#fff" stroke="#008080" stroke-width="1.3" stroke-linejoin="miter"/><path d="M494.42 1952.43L502.92 1967.43L485.92 1967.43Z" fill="#fff" stroke="#008080" stroke-width="1.3" stroke-linejoin="miter"/><path d="M505.44 1951.17L513.94 1966.17L496.94 1966.17Z" fill="#fff" stroke="#008080" stroke-width="1.3" stroke-linejoin="miter"/><path d="M516.47 1949.91L524.97 1964.91L507.97 1964.91Z" fill="#fff" stroke="#008080" stroke-width="1.3" stroke-linejoin="miter"/><path d="M527.5 1948.65L536 1963.65L519 1963.65Z" fill="#fff" stroke="#008080" stroke-width="1.3" stroke-linejoin="miter"/><path d="M538.53 1947.34L547.03 1962.34L530.03 1962.34Z" fill="#fff" stroke="#008080" stroke-width="1.3" stroke-linejoin="miter"/><path d="M549.55 1945.93L558.05 1960.93L541.05 1960.93Z" fill="#fff" stroke="#008080" stroke-width="1.3" stroke-linejoin="miter"/><path d="M560.58 1944.54L569.08 1959.54L552.08 1959.54Z" fill="#fff" stroke="#008080" stroke-width="1.3" stroke-linejoin="miter"/><path d="M571.61 1943.42L580.11 1958.42L563.11 1958.42Z" fill="#fff" stroke="#008080" stroke-width="1.3" stroke-linejoin="miter"/><path d="M582.63 1942.25L591.13 1957.25L574.13 1957.25Z" fill="#fff" stroke="#008080" stroke-width="1.3" stroke-linejoin="miter"/><path d="M593.66 1941.07L602.16 1956.07L585.16 1956.07Z" fill="#fff" stroke="#008080" stroke-width="1.3" stroke-linejoin="miter"/><path d="M604.69 1939.87L613.19 1954.87L596.19 1954.87Z" fill="#fff" stroke="#008080" stroke-width="1.3" stroke-linejoin="miter"/><path d="M615.71 1938.54L624.21 1953.54L607.21 1953.54Z" fill="#fff" stroke="#008080" stroke-width="1.3" stroke-linejoin="miter"/><path d="M626.74 1937.21L635.24 1952.21L618.24 1952.21Z" fill="#fff" stroke="#008080" stroke-width="1.3" stroke-linejoin="miter"/><path d="M637.77 1935.88L646.27 1950.88L629.27 1950.88Z" fill="#fff" stroke="#008080" stroke-width="1.3" stroke-linejoin="miter"/><path d="M648.8 1934.55L657.3 1949.55L640.3 1949.55Z" fill="#fff" stroke="#008080" stroke-width="1.3" stroke-linejoin="miter"/><path d="M659.82 1933.23L668.32 1948.23L651.32 1948.23Z" fill="#fff" stroke="#008080" stroke-width="1.3" stroke-linejoin="miter"/><path d="M670.85 1931.92L679.35 1946.92L662.35 1946.92Z" fill="#fff" stroke="#008080" stroke-width="1.3" stroke-linejoin="miter"/><path d="M681.88 1930.78L690.38 1945.78L673.38 1945.78Z" fill="#fff" stroke="#008080" stroke-width="1.3" stroke-linejoin="miter"/><path d="M692.9 1929.63L701.4 1944.63L684.4 1944.63Z" fill="#fff" stroke="#008080" stroke-width="1.3" stroke-linejoin="miter"/><path d="M703.93 1927.98L712.43 1942.98L695.43 1942.98Z" fill="#fff" stroke="#008080" stroke-width="1.3" stroke-linejoin="miter"/><path d="M714.96 1925.4L723.46 1940.4L706.46 1940.4Z" fill="#fff" stroke="#008080" stroke-width="1.3" stroke-linejoin="miter"/><path d="M725.98 1922.66L734.48 1937.66L717.48 1937.66Z" fill="#fff" stroke="#008080" stroke-width="1.3" stroke-linejoin="miter"/><path d="M737.01 1919.13L745.51 1934.13L728.51 1934.13Z" fill="#fff" stroke="#008080" stroke-width="1.3" stroke-linejoin="miter"/><path d="M748.04 1915.17L756.54 1930.17L739.54 1930.17Z" fill="#fff" stroke="#008080" stroke-width="1.3" stroke-linejoin="miter"/><path d="M759.06 1909.31L767.56 1924.31L750.56 1924.31Z" fill="#fff" stroke="#008080" stroke-width="1.3" stroke-linejoin="miter"/><path d="M770.09 1901.93L778.59 1916.93L761.59 1916.93Z" fill="#fff" stroke="#008080" stroke-width="1.3" stroke-linejoin="miter"/><path d="M781.12 1893.34L789.62 1908.34L772.62 1908.34Z" fill="#fff" stroke="#008080" stroke-width="1.3" stroke-linejoin="miter"/><path d="M792.15 1883.71L800.65 1898.71L783.65 1898.71Z" fill="#fff" stroke="#008080" stroke-width="1.3" stroke-linejoin="miter"/><path d="M803.17 1872.83L811.67 1887.83L794.67 1887.83Z" fill="#fff" stroke="#008080" stroke-width="1.3" stroke-linejoin="miter"/><path d="M814.2 1861.52L822.7 1876.52L805.7 1876.52Z" fill="#fff" stroke="#008080" stroke-width="1.3" stroke-linejoin="miter"/><path d="M825.23 1848.45L833.73 1863.45L816.73 1863.45Z" fill="#fff" stroke="#008080" stroke-width="1.3" stroke-linejoin="miter"/><path d="M836.25 1833.32L844.75 1848.32L827.75 1848.32Z" fill="#fff" stroke="#008080" stroke-width="1.3" stroke-linejoin="miter"/><path d="M847.28 1818.88L855.78 1833.88L838.78 1833.88Z" fill="#fff" stroke="#008080" stroke-width="1.3" stroke-linejoin="miter"/><path d="M858.31 1803.8L866.81 1818.8L849.81 1818.8Z" fill="#fff" stroke="#008080" stroke-width="1.3" stroke-linejoin="miter"/><path d="M869.33 1786.9L877.83 1801.9L860.83 1801.9Z" fill="#fff" stroke="#008080" stroke-width="1.3" stroke-linejoin="miter"/><path d="M880.36 1769.87L888.86 1784.87L871.86 1784.87Z" fill="#fff" stroke="#008080" stroke-width="1.3" stroke-linejoin="miter"/><path d="M891.39 1752.69L899.89 1767.69L882.89 1767.69Z" fill="#fff" stroke="#008080" stroke-width="1.3" stroke-linejoin="miter"/><path d="M902.42 1735.49L910.92 1750.49L893.92 1750.49Z" fill="#fff" stroke="#008080" stroke-width="1.3" stroke-linejoin="miter"/><path d="M913.44 1718.23L921.94 1733.23L904.94 1733.23Z" fill="#fff" stroke="#008080" stroke-width="1.3" stroke-linejoin="miter"/><path d="M924.47 1699.97L932.97 1714.97L915.97 1714.97Z" fill="#fff" stroke="#008080" stroke-width="1.3" stroke-linejoin="miter"/><path d="M935.5 1690.5L944 1705.5L927 1705.5Z" fill="#fff" stroke="#008080" stroke-width="1.3" stroke-linejoin="miter"/></g><g clip-path="url(#cc)"><path d="M141.55 2041.75L143.58 2047.16L149.35 2047.42L144.83 2051.01L146.37 2056.58L141.55 2053.39L136.73 2056.58L138.28 2051.01L133.76 2047.42L139.53 2047.16Z" fill="#fff" stroke="#0000ff" stroke-width="1.3" stroke-linejoin="miter"/><path d="M152.58 2030.9L154.61 2036.31L160.38 2036.56L155.86 2040.16L157.4 2045.73L152.58 2042.54L147.76 2045.73L149.31 2040.16L144.78 2036.56L150.56 2036.31Z" fill="#fff" stroke="#0000ff" stroke-width="1.3" stroke-linejoin="miter"/><path d="M163.61 2019.89L165.63 2025.3L171.41 2025.55L166.88 2029.15L168.43 2034.72L163.61 2031.53L158.79 2034.72L160.33 2029.15L155.81 2025.55L161.58 2025.3Z" fill="#fff" stroke="#0000ff" stroke-width="1.3" stroke-linejoin="miter"/><path d="M174.63 2010.71L176.66 2016.13L182.43 2016.38L177.91 2019.98L179.45 2025.55L174.63 2022.36L169.82 2025.55L171.36 2019.98L166.84 2016.38L172.61 2016.13Z" fill="#fff" stroke="#0000ff" stroke-width="1.3" stroke-linejoin="miter"/><path d="M185.66 2003.04L187.69 2008.46L193.46 2008.71L188.94 2012.31L190.48 2017.88L185.66 2014.69L180.84 2017.88L182.39 2012.31L177.86 2008.71L183.64 2008.46Z" fill="#fff" stroke="#0000ff" stroke-width="1.3" stroke-linejoin="miter"/><path d="M196.69 1997.86L198.71 2003.28L204.49 2003.53L199.96 2007.13L201.51 2012.7L196.69 2009.51L191.87 2012.7L193.41 2007.13L188.89 2003.53L194.66 2003.28Z" fill="#fff" stroke="#0000ff" stroke-width="1.3" stroke-linejoin="miter"/><path d="M207.72 1992.62L209.74 1998.03L215.51 1998.28L210.99 2001.88L212.54 2007.45L207.72 2004.26L202.9 2007.45L204.44 2001.88L199.92 1998.28L205.69 1998.03Z" fill="#fff" stroke="#0000ff" stroke-width="1.3" stroke-linejoin="miter"/><path d="M218.74 1989.24L220.77 1994.66L226.54 1994.91L222.02 1998.51L223.56 2004.08L218.74 2000.89L213.92 2004.08L215.47 1998.51L210.94 1994.91L216.72 1994.66Z" fill="#fff" stroke="#0000ff" stroke-width="1.3" stroke-linejoin="miter"/><path d="M229.77 1985.7L231.79 1991.11L237.57 1991.37L233.05 1994.96L234.59 2000.53L229.77 1997.34L224.95 2000.53L226.49 1994.96L221.97 1991.37L227.75 1991.11Z" fill="#fff" stroke="#0000ff" stroke-width="1.3" stroke-linejoin="miter"/><path d="M240.8 1983.38L242.82 1988.8L248.6 1989.05L244.07 1992.65L245.62 1998.22L240.8 1995.03L235.98 1998.22L237.52 1992.65L233 1989.05L238.77 1988.8Z" fill="#fff" stroke="#0000ff" stroke-width="1.3" stroke-linejoin="miter"/><path d="M251.82 1980.67L253.85 1986.08L259.62 1986.33L255.1 1989.93L256.64 1995.5L251.82 1992.31L247 1995.5L248.55 1989.93L244.03 1986.33L249.8 1986.08Z" fill="#fff" stroke="#0000ff" stroke-width="1.3" stroke-linejoin="miter"/><path d="M262.85 1978.97L264.88 1984.38L270.65 1984.63L266.13 1988.23L267.67 1993.8L262.85 1990.61L258.03 1993.8L259.58 1988.23L255.05 1984.63L260.83 1984.38Z" fill="#fff" stroke="#0000ff" stroke-width="1.3" stroke-linejoin="miter"/><path d="M273.88 1977.13L275.9 1982.54L281.68 1982.79L277.15 1986.39L278.7 1991.96L273.88 1988.77L269.06 1991.96L270.6 1986.39L266.08 1982.79L271.85 1982.54Z" fill="#fff" stroke="#0000ff" stroke-width="1.3" stroke-linejoin="miter"/><path d="M284.9 1975.54L286.93 1980.95L292.7 1981.2L288.18 1984.8L289.72 1990.37L284.9 1987.18L280.08 1990.37L281.63 1984.8L277.11 1981.2L282.88 1980.95Z" fill="#fff" stroke="#0000ff" stroke-width="1.3" stroke-linejoin="miter"/><path d="M295.93 1973.78L297.96 1979.19L303.73 1979.45L299.21 1983.04L300.75 1988.61L295.93 1985.42L291.11 1988.61L292.66 1983.04L288.13 1979.45L293.91 1979.19Z" fill="#fff" stroke="#0000ff" stroke-width="1.3" stroke-linejoin="miter"/><path d="M306.96 1972.2L308.98 1977.62L314.76 1977.87L310.23 1981.47L311.78 1987.04L306.96 1983.85L302.14 1987.04L303.68 1981.47L299.16 1977.87L304.93 1977.62Z" fill="#fff" stroke="#0000ff" stroke-width="1.3" stroke-linejoin="miter"/><path d="M317.99 1970.43L320.01 1975.84L325.78 1976.09L321.26 1979.69L322.81 1985.26L317.99 1982.07L313.17 1985.26L314.71 1979.69L310.19 1976.09L315.96 1975.84Z" fill="#fff" stroke="#0000ff" stroke-width="1.3" stroke-linejoin="miter"/><path d="M329.01 1969.13L331.04 1974.54L336.81 1974.8L332.29 1978.39L333.83 1983.96L329.01 1980.77L324.19 1983.96L325.74 1978.39L321.21 1974.8L326.99 1974.54Z" fill="#fff" stroke="#0000ff" stroke-width="1.3" stroke-linejoin="miter"/><path d="M340.04 1968L342.06 1973.42L347.84 1973.67L343.32 1977.27L344.86 1982.84L340.04 1979.65L335.22 1982.84L336.76 1977.27L332.24 1973.67L338.02 1973.42Z" fill="#fff" stroke="#0000ff" stroke-width="1.3" stroke-linejoin="miter"/><path d="M351.07 1967.07L353.09 1972.48L358.87 1972.73L354.34 1976.33L355.89 1981.9L351.07 1978.71L346.25 1981.9L347.79 1976.33L343.27 1972.73L349.04 1972.48Z" fill="#fff" stroke="#0000ff" stroke-width="1.3" stroke-linejoin="miter"/><path d="M362.09 1965.93L364.12 1971.35L369.89 1971.6L365.37 1975.2L366.91 1980.77L362.09 1977.58L357.27 1980.77L358.82 1975.2L354.29 1971.6L360.07 1971.35Z" fill="#fff" stroke="#0000ff" stroke-width="1.3" stroke-linejoin="miter"/><path d="M373.12 1964.77L375.14 1970.19L380.92 1970.44L376.4 1974.04L377.94 1979.61L373.12 1976.42L368.3 1979.61L369.85 1974.04L365.32 1970.44L371.1 1970.19Z" fill="#fff" stroke="#0000ff" stroke-width="1.3" stroke-linejoin="miter"/><path d="M384.15 1963.58L386.17 1969L391.95 1969.25L387.42 1972.85L388.97 1978.42L384.15 1975.23L379.33 1978.42L380.87 1972.85L376.35 1969.25L382.12 1969Z" fill="#fff" stroke="#0000ff" stroke-width="1.3" stroke-linejoin="miter"/><path d="M395.17 1962.59L397.2 1968L402.97 1968.26L398.45 1971.85L399.99 1977.42L395.17 1974.23L390.35 1977.42L391.9 1971.85L387.38 1968.26L393.15 1968Z" fill="#fff" stroke="#0000ff" stroke-width="1.3" stroke-linejoin="miter"/><path d="M406.2 1961.3L408.23 1966.71L414 1966.96L409.48 1970.56L411.02 1976.13L406.2 1972.94L401.38 1976.13L402.93 1970.56L398.4 1966.96L404.18 1966.71Z" fill="#fff" stroke="#0000ff" stroke-width="1.3" stroke-linejoin="miter"/><path d="M417.23 1960.35L419.25 1965.76L425.03 1966.02L420.5 1969.61L422.05 1975.18L417.23 1971.99L412.41 1975.18L413.95 1969.61L409.43 1966.02L415.2 1965.76Z" fill="#fff" stroke="#0000ff" stroke-width="1.3" stroke-linejoin="miter"/><path d="M428.26 1959.57L430.28 1964.98L436.05 1965.23L431.53 1968.83L433.08 1974.4L428.26 1971.21L423.44 1974.4L424.98 1968.83L420.46 1965.23L426.23 1964.98Z" fill="#fff" stroke="#0000ff" stroke-width="1.3" stroke-linejoin="miter"/><path d="M439.28 1958.68L441.31 1964.1L447.08 1964.35L442.56 1967.95L444.1 1973.52L439.28 1970.33L434.46 1973.52L436.01 1967.95L431.48 1964.35L437.26 1964.1Z" fill="#fff" stroke="#0000ff" stroke-width="1.3" stroke-linejoin="miter"/><path d="M450.31 1957.7L452.33 1963.11L458.11 1963.36L453.58 1966.96L455.13 1972.53L450.31 1969.34L445.49 1972.53L447.03 1966.96L442.51 1963.36L448.29 1963.11Z" fill="#fff" stroke="#0000ff" stroke-width="1.3" stroke-linejoin="miter"/><path d="M461.34 1956.71L463.36 1962.12L469.14 1962.38L464.61 1965.97L466.16 1971.54L461.34 1968.35L456.52 1971.54L458.06 1965.97L453.54 1962.38L459.31 1962.12Z" fill="#fff" stroke="#0000ff" stroke-width="1.3" stroke-linejoin="miter"/><path d="M472.36 1955.76L474.39 1961.17L480.16 1961.42L475.64 1965.02L477.18 1970.59L472.36 1967.4L467.54 1970.59L469.09 1965.02L464.56 1961.42L470.34 1961.17Z" fill="#fff" stroke="#0000ff" stroke-width="1.3" stroke-linejoin="miter"/><path d="M483.39 1954.84L485.41 1960.26L491.19 1960.51L486.67 1964.11L488.21 1969.68L483.39 1966.49L478.57 1969.68L480.11 1964.11L475.59 1960.51L481.37 1960.26Z" fill="#fff" stroke="#0000ff" stroke-width="1.3" stroke-linejoin="miter"/><path d="M494.42 1953.93L496.44 1959.34L502.22 1959.59L497.69 1963.19L499.24 1968.76L494.42 1965.57L489.6 1968.76L491.14 1963.19L486.62 1959.59L492.39 1959.34Z" fill="#fff" stroke="#0000ff" stroke-width="1.3" stroke-linejoin="miter"/><path d="M505.44 1953.02L507.47 1958.43L513.24 1958.68L508.72 1962.28L510.26 1967.85L505.44 1964.66L500.62 1967.85L502.17 1962.28L497.65 1958.68L503.42 1958.43Z" fill="#fff" stroke="#0000ff" stroke-width="1.3" stroke-linejoin="miter"/><path d="M516.47 1952.11L518.5 1957.52L524.27 1957.78L519.75 1961.37L521.29 1966.94L516.47 1963.75L511.65 1966.94L513.2 1961.37L508.67 1957.78L514.45 1957.52Z" fill="#fff" stroke="#0000ff" stroke-width="1.3" stroke-linejoin="miter"/><path d="M527.5 1951.2L529.52 1956.62L535.3 1956.87L530.77 1960.47L532.32 1966.04L527.5 1962.85L522.68 1966.04L524.22 1960.47L519.7 1956.87L525.47 1956.62Z" fill="#fff" stroke="#0000ff" stroke-width="1.3" stroke-linejoin="miter"/><path d="M538.53 1950.24L540.55 1955.66L546.32 1955.91L541.8 1959.51L543.35 1965.08L538.53 1961.89L533.71 1965.08L535.25 1959.51L530.73 1955.91L536.5 1955.66Z" fill="#fff" stroke="#0000ff" stroke-width="1.3" stroke-linejoin="miter"/><path d="M549.55 1949.18L551.58 1954.6L557.35 1954.85L552.83 1958.45L554.37 1964.02L549.55 1960.83L544.73 1964.02L546.28 1958.45L541.75 1954.85L547.53 1954.6Z" fill="#fff" stroke="#0000ff" stroke-width="1.3" stroke-linejoin="miter"/><path d="M560.58 1948.12L562.6 1953.54L568.38 1953.79L563.85 1957.39L565.4 1962.96L560.58 1959.77L555.76 1962.96L557.3 1957.39L552.78 1953.79L558.55 1953.54Z" fill="#fff" stroke="#0000ff" stroke-width="1.3" stroke-linejoin="miter"/><path d="M571.61 1947.04L573.63 1952.46L579.4 1952.71L574.88 1956.31L576.43 1961.88L571.61 1958.69L566.79 1961.88L568.33 1956.31L563.81 1952.71L569.58 1952.46Z" fill="#fff" stroke="#0000ff" stroke-width="1.3" stroke-linejoin="miter"/><path d="M582.63 1945.91L584.66 1951.32L590.43 1951.58L585.91 1955.17L587.45 1960.74L582.63 1957.55L577.81 1960.74L579.36 1955.17L574.83 1951.58L580.61 1951.32Z" fill="#fff" stroke="#0000ff" stroke-width="1.3" stroke-linejoin="miter"/><path d="M593.66 1944.78L595.68 1950.19L601.46 1950.44L596.94 1954.04L598.48 1959.61L593.66 1956.42L588.84 1959.61L590.38 1954.04L585.86 1950.44L591.64 1950.19Z" fill="#fff" stroke="#0000ff" stroke-width="1.3" stroke-linejoin="miter"/><path d="M604.69 1943.61L606.71 1949.02L612.49 1949.27L607.96 1952.87L609.51 1958.44L604.69 1955.25L599.87 1958.44L601.41 1952.87L596.89 1949.27L602.66 1949.02Z" fill="#fff" stroke="#0000ff" stroke-width="1.3" stroke-linejoin="miter"/><path d="M615.71 1942.32L617.74 1947.73L623.51 1947.99L618.99 1951.58L620.53 1957.15L615.71 1953.96L610.89 1957.15L612.44 1951.58L607.92 1947.99L613.69 1947.73Z" fill="#fff" stroke="#0000ff" stroke-width="1.3" stroke-linejoin="miter"/><path d="M626.74 1941.03L628.77 1946.44L634.54 1946.7L630.02 1950.29L631.56 1955.86L626.74 1952.67L621.92 1955.86L623.47 1950.29L618.94 1946.7L624.72 1946.44Z" fill="#fff" stroke="#0000ff" stroke-width="1.3" stroke-linejoin="miter"/><path d="M637.77 1939.74L639.79 1945.16L645.57 1945.41L641.04 1949.01L642.59 1954.58L637.77 1951.39L632.95 1954.58L634.49 1949.01L629.97 1945.41L635.74 1945.16Z" fill="#fff" stroke="#0000ff" stroke-width="1.3" stroke-linejoin="miter"/><path d="M648.8 1938.45L650.82 1943.87L656.59 1944.12L652.07 1947.72L653.61 1953.29L648.8 1950.1L643.98 1953.29L645.52 1947.72L641 1944.12L646.77 1943.87Z" fill="#fff" stroke="#0000ff" stroke-width="1.3" stroke-linejoin="miter"/><path d="M659.82 1937.17L661.85 1942.58L667.62 1942.83L663.1 1946.43L664.64 1952L659.82 1948.81L655 1952L656.55 1946.43L652.02 1942.83L657.8 1942.58Z" fill="#fff" stroke="#0000ff" stroke-width="1.3" stroke-linejoin="miter"/><path d="M670.85 1935.9L672.87 1941.32L678.65 1941.57L674.12 1945.17L675.67 1950.74L670.85 1947.55L666.03 1950.74L667.57 1945.17L663.05 1941.57L668.82 1941.32Z" fill="#fff" stroke="#0000ff" stroke-width="1.3" stroke-linejoin="miter"/><path d="M681.88 1934.8L683.9 1940.21L689.67 1940.46L685.15 1944.06L686.7 1949.63L681.88 1946.44L677.06 1949.63L678.6 1944.06L674.08 1940.46L679.85 1940.21Z" fill="#fff" stroke="#0000ff" stroke-width="1.3" stroke-linejoin="miter"/><path d="M692.9 1933.69L694.93 1939.1L700.7 1939.35L696.18 1942.95L697.72 1948.52L692.9 1945.33L688.08 1948.52L689.63 1942.95L685.1 1939.35L690.88 1939.1Z" fill="#fff" stroke="#0000ff" stroke-width="1.3" stroke-linejoin="miter"/><path d="M703.93 1932.06L705.95 1937.47L711.73 1937.73L707.21 1941.32L708.75 1946.89L703.93 1943.7L699.11 1946.89L700.65 1941.32L696.13 1937.73L701.91 1937.47Z" fill="#fff" stroke="#0000ff" stroke-width="1.3" stroke-linejoin="miter"/><path d="M714.96 1929.49L716.98 1934.9L722.76 1935.15L718.23 1938.75L719.78 1944.32L714.96 1941.13L710.14 1944.32L711.68 1938.75L707.16 1935.15L712.93 1934.9Z" fill="#fff" stroke="#0000ff" stroke-width="1.3" stroke-linejoin="miter"/><path d="M725.98 1926.74L728.01 1932.16L733.78 1932.41L729.26 1936.01L730.8 1941.58L725.98 1938.39L721.16 1941.58L722.71 1936.01L718.19 1932.41L723.96 1932.16Z" fill="#fff" stroke="#0000ff" stroke-width="1.3" stroke-linejoin="miter"/><path d="M737.01 1923.21L739.04 1928.63L744.81 1928.88L740.29 1932.48L741.83 1938.05L737.01 1934.86L732.19 1938.05L733.74 1932.48L729.21 1928.88L734.99 1928.63Z" fill="#fff" stroke="#0000ff" stroke-width="1.3" stroke-linejoin="miter"/><path d="M748.04 1919.25L750.06 1924.67L755.84 1924.92L751.31 1928.52L752.86 1934.09L748.04 1930.9L743.22 1934.09L744.76 1928.52L740.24 1924.92L746.01 1924.67Z" fill="#fff" stroke="#0000ff" stroke-width="1.3" stroke-linejoin="miter"/><path d="M759.06 1913.39L761.09 1918.81L766.86 1919.06L762.34 1922.66L763.88 1928.23L759.06 1925.04L754.24 1928.23L755.79 1922.66L751.27 1919.06L757.04 1918.81Z" fill="#fff" stroke="#0000ff" stroke-width="1.3" stroke-linejoin="miter"/><path d="M770.09 1906.01L772.12 1911.43L777.89 1911.68L773.37 1915.28L774.91 1920.85L770.09 1917.66L765.27 1920.85L766.82 1915.28L762.29 1911.68L768.07 1911.43Z" fill="#fff" stroke="#0000ff" stroke-width="1.3" stroke-linejoin="miter"/><path d="M781.12 1897.43L783.14 1902.84L788.92 1903.09L784.39 1906.69L785.94 1912.26L781.12 1909.07L776.3 1912.26L777.84 1906.69L773.32 1903.09L779.09 1902.84Z" fill="#fff" stroke="#0000ff" stroke-width="1.3" stroke-linejoin="miter"/><path d="M792.15 1887.79L794.17 1893.2L799.94 1893.46L795.42 1897.05L796.97 1902.62L792.15 1899.43L787.33 1902.62L788.87 1897.05L784.35 1893.46L790.12 1893.2Z" fill="#fff" stroke="#0000ff" stroke-width="1.3" stroke-linejoin="miter"/><path d="M803.17 1876.92L805.2 1882.33L810.97 1882.58L806.45 1886.18L807.99 1891.75L803.17 1888.56L798.35 1891.75L799.9 1886.18L795.37 1882.58L801.15 1882.33Z" fill="#fff" stroke="#0000ff" stroke-width="1.3" stroke-linejoin="miter"/><path d="M814.2 1865.61L816.22 1871.02L822 1871.27L817.48 1874.87L819.02 1880.44L814.2 1877.25L809.38 1880.44L810.92 1874.87L806.4 1871.27L812.18 1871.02Z" fill="#fff" stroke="#0000ff" stroke-width="1.3" stroke-linejoin="miter"/><path d="M825.23 1852.53L827.25 1857.94L833.03 1858.2L828.5 1861.79L830.05 1867.36L825.23 1864.17L820.41 1867.36L821.95 1861.79L817.43 1858.2L823.2 1857.94Z" fill="#fff" stroke="#0000ff" stroke-width="1.3" stroke-linejoin="miter"/><path d="M836.25 1837.41L838.28 1842.82L844.05 1843.07L839.53 1846.67L841.07 1852.24L836.25 1849.05L831.43 1852.24L832.98 1846.67L828.45 1843.07L834.23 1842.82Z" fill="#fff" stroke="#0000ff" stroke-width="1.3" stroke-linejoin="miter"/><path d="M847.28 1822.96L849.3 1828.37L855.08 1828.63L850.56 1832.23L852.1 1837.79L847.28 1834.6L842.46 1837.79L844.01 1832.23L839.48 1828.63L845.26 1828.37Z" fill="#fff" stroke="#0000ff" stroke-width="1.3" stroke-linejoin="miter"/><path d="M858.31 1807.88L860.33 1813.3L866.11 1813.55L861.58 1817.15L863.13 1822.72L858.31 1819.53L853.49 1822.72L855.03 1817.15L850.51 1813.55L856.28 1813.3Z" fill="#fff" stroke="#0000ff" stroke-width="1.3" stroke-linejoin="miter"/><path d="M869.33 1790.98L871.36 1796.4L877.13 1796.65L872.61 1800.25L874.15 1805.82L869.33 1802.63L864.51 1805.82L866.06 1800.25L861.54 1796.65L867.31 1796.4Z" fill="#fff" stroke="#0000ff" stroke-width="1.3" stroke-linejoin="miter"/><path d="M880.36 1773.95L882.39 1779.37L888.16 1779.62L883.64 1783.22L885.18 1788.79L880.36 1785.6L875.54 1788.79L877.09 1783.22L872.56 1779.62L878.34 1779.37Z" fill="#fff" stroke="#0000ff" stroke-width="1.3" stroke-linejoin="miter"/><path d="M891.39 1756.77L893.41 1762.18L899.19 1762.43L894.66 1766.03L896.21 1771.6L891.39 1768.41L886.57 1771.6L888.11 1766.03L883.59 1762.43L889.36 1762.18Z" fill="#fff" stroke="#0000ff" stroke-width="1.3" stroke-linejoin="miter"/><path d="M902.42 1739.57L904.44 1744.98L910.21 1745.24L905.69 1748.83L907.24 1754.4L902.42 1751.21L897.6 1754.4L899.14 1748.83L894.62 1745.24L900.39 1744.98Z" fill="#fff" stroke="#0000ff" stroke-width="1.3" stroke-linejoin="miter"/><path d="M913.44 1722.31L915.47 1727.72L921.24 1727.98L916.72 1731.58L918.26 1737.15L913.44 1733.96L908.62 1737.15L910.17 1731.58L905.64 1727.98L911.42 1727.72Z" fill="#fff" stroke="#0000ff" stroke-width="1.3" stroke-linejoin="miter"/><path d="M924.47 1704.05L926.49 1709.46L932.27 1709.72L927.74 1713.31L929.29 1718.88L924.47 1715.69L919.65 1718.88L921.19 1713.31L916.67 1709.72L922.45 1709.46Z" fill="#fff" stroke="#0000ff" stroke-width="1.3" stroke-linejoin="miter"/><path d="M935.5 1694.58L937.52 1700L943.3 1700.25L938.77 1703.85L940.32 1709.42L935.5 1706.23L930.68 1709.42L932.22 1703.85L927.7 1700.25L933.47 1700Z" fill="#fff" stroke="#0000ff" stroke-width="1.3" stroke-linejoin="miter"/></g><g clip-path="url(#cc)"><polyline points="114,2095.85 125.03,2087.59 136.05,2078.6 147.08,2072.46 158.11,2069.42 169.13,2069.47 180.16,2073.84 191.19,2081.49 202.22,2091.94 213.24,2104.64 224.27,2115.47 235.3,2126.04 246.32,2132.5 257.35,2137.9 268.38,2141 279.4,2143.02 290.43,2144.53 301.46,2145.59 312.49,2146.98 323.51,2148.04 334.54,2149.6 345.57,2150.33 356.59,2151.48 367.62,2153.18 378.65,2157.2 389.67,2163.1 400.7,2169.08 411.73,2173.21 422.76,2177.44 433.78,2180.17 444.81,2180.53 455.84,2179.1 466.86,2175.76 477.89,2171.71 488.92,2167.13 499.94,2161.74 510.97,2156.97 522,2151.57 533.03,2146.98 544.05,2142.97 555.08,2139.75 566.11,2136.8 577.13,2134.48 588.16,2132.36 599.19,2130.47 610.21,2128.83 621.24,2127.29 632.27,2125.48 643.3,2123.6 654.32,2120.93 665.35,2116.13 676.38,2110.15 687.4,2103.93 698.43,2090.31 709.46,2072.19 720.48,2053.94 731.51,2035.66 742.54,2017.41 753.56,1999.87 764.59,1981.62 775.62,1961.24 786.65,1943 797.67,1924.47 808.7,1906.06 819.73,1887.91 830.75,1870.41 841.78,1852.18 852.81,1833.89 863.83,1815.65 874.86,1798.11 885.89,1779.99 896.92,1762.46 907.94,1743.53 918.97,1723.75 930,1705" fill="none" stroke="#ff0000" stroke-width="1.3"/><rect x="107.5" y="2089.35" width="13" height="13" fill="#ff0000" stroke="#ff0000" stroke-width="0.5"/><rect x="118.53" y="2081.09" width="13" height="13" fill="#ff0000" stroke="#ff0000" stroke-width="0.5"/><rect x="129.55" y="2072.1" width="13" height="13" fill="#ff0000" stroke="#ff0000" stroke-width="0.5"/><rect x="140.58" y="2065.96" width="13" height="13" fill="#ff0000" stroke="#ff0000" stroke-width="0.5"/><rect x="151.61" y="2062.92" width="13" height="13" fill="#ff0000" stroke="#ff0000" stroke-width="0.5"/><rect x="162.63" y="2062.97" width="13" height="13" fill="#ff0000" stroke="#ff0000" stroke-width="0.5"/><rect x="173.66" y="2067.34" width="13" height="13" fill="#ff0000" stroke="#ff0000" stroke-width="0.5"/><rect x="184.69" y="2074.99" width="13" height="13" fill="#ff0000" stroke="#ff0000" stroke-width="0.5"/><rect x="195.72" y="2085.44" width="13" height="13" fill="#ff0000" stroke="#ff0000" stroke-width="0.5"/><rect x="206.74" y="2098.14" width="13" height="13" fill="#ff0000" stroke="#ff0000" stroke-width="0.5"/><rect x="217.77" y="2108.97" width="13" height="13" fill="#ff0000" stroke="#ff0000" stroke-width="0.5"/><rect x="228.8" y="2119.54" width="13" height="13" fill="#ff0000" stroke="#ff0000" stroke-width="0.5"/><rect x="239.82" y="2126" width="13" height="13" fill="#ff0000" stroke="#ff0000" stroke-width="0.5"/><rect x="250.85" y="2131.4" width="13" height="13" fill="#ff0000" stroke="#ff0000" stroke-width="0.5"/><rect x="261.88" y="2134.5" width="13" height="13" fill="#ff0000" stroke="#ff0000" stroke-width="0.5"/><rect x="272.9" y="2136.52" width="13" height="13" fill="#ff0000" stroke="#ff0000" stroke-width="0.5"/><rect x="283.93" y="2138.03" width="13" height="13" fill="#ff0000" stroke="#ff0000" stroke-width="0.5"/><rect x="294.96" y="2139.09" width="13" height="13" fill="#ff0000" stroke="#ff0000" stroke-width="0.5"/><rect x="305.99" y="2140.48" width="13" height="13" fill="#ff0000" stroke="#ff0000" stroke-width="0.5"/><rect x="317.01" y="2141.54" width="13" height="13" fill="#ff0000" stroke="#ff0000" stroke-width="0.5"/><rect x="328.04" y="2143.1" width="13" height="13" fill="#ff0000" stroke="#ff0000" stroke-width="0.5"/><rect x="339.07" y="2143.83" width="13" height="13" fill="#ff0000" stroke="#ff0000" stroke-width="0.5"/><rect x="350.09" y="2144.98" width="13" height="13" fill="#ff0000" stroke="#ff0000" stroke-width="0.5"/><rect x="361.12" y="2146.68" width="13" height="13" fill="#ff0000" stroke="#ff0000" stroke-width="0.5"/><rect x="372.15" y="2150.7" width="13" height="13" fill="#ff0000" stroke="#ff0000" stroke-width="0.5"/><rect x="383.17" y="2156.6" width="13" height="13" fill="#ff0000" stroke="#ff0000" stroke-width="0.5"/><rect x="394.2" y="2162.58" width="13" height="13" fill="#ff0000" stroke="#ff0000" stroke-width="0.5"/><rect x="405.23" y="2166.71" width="13" height="13" fill="#ff0000" stroke="#ff0000" stroke-width="0.5"/><rect x="416.26" y="2170.94" width="13" height="13" fill="#ff0000" stroke="#ff0000" stroke-width="0.5"/><rect x="427.28" y="2173.67" width="13" height="13" fill="#ff0000" stroke="#ff0000" stroke-width="0.5"/><rect x="438.31" y="2174.03" width="13" height="13" fill="#ff0000" stroke="#ff0000" stroke-width="0.5"/><rect x="449.34" y="2172.6" width="13" height="13" fill="#ff0000" stroke="#ff0000" stroke-width="0.5"/><rect x="460.36" y="2169.26" width="13" height="13" fill="#ff0000" stroke="#ff0000" stroke-width="0.5"/><rect x="471.39" y="2165.21" width="13" height="13" fill="#ff0000" stroke="#ff0000" stroke-width="0.5"/><rect x="482.42" y="2160.63" width="13" height="13" fill="#ff0000" stroke="#ff0000" stroke-width="0.5"/><rect x="493.44" y="2155.24" width="13" height="13" fill="#ff0000" stroke="#ff0000" stroke-width="0.5"/><rect x="504.47" y="2150.47" width="13" height="13" fill="#ff0000" stroke="#ff0000" stroke-width="0.5"/><rect x="515.5" y="2145.07" width="13" height="13" fill="#ff0000" stroke="#ff0000" stroke-width="0.5"/><rect x="526.53" y="2140.48" width="13" height="13" fill="#ff0000" stroke="#ff0000" stroke-width="0.5"/><rect x="537.55" y="2136.47" width="13" height="13" fill="#ff0000" stroke="#ff0000" stroke-width="0.5"/><rect x="548.58" y="2133.25" width="13" height="13" fill="#ff0000" stroke="#ff0000" stroke-width="0.5"/><rect x="559.61" y="2130.3" width="13" height="13" fill="#ff0000" stroke="#ff0000" stroke-width="0.5"/><rect x="570.63" y="2127.98" width="13" height="13" fill="#ff0000" stroke="#ff0000" stroke-width="0.5"/><rect x="581.66" y="2125.86" width="13" height="13" fill="#ff0000" stroke="#ff0000" stroke-width="0.5"/><rect x="592.69" y="2123.97" width="13" height="13" fill="#ff0000" stroke="#ff0000" stroke-width="0.5"/><rect x="603.71" y="2122.33" width="13" height="13" fill="#ff0000" stroke="#ff0000" stroke-width="0.5"/><rect x="614.74" y="2120.79" width="13" height="13" fill="#ff0000" stroke="#ff0000" stroke-width="0.5"/><rect x="625.77" y="2118.98" width="13" height="13" fill="#ff0000" stroke="#ff0000" stroke-width="0.5"/><rect x="636.8" y="2117.1" width="13" height="13" fill="#ff0000" stroke="#ff0000" stroke-width="0.5"/><rect x="647.82" y="2114.43" width="13" height="13" fill="#ff0000" stroke="#ff0000" stroke-width="0.5"/><rect x="658.85" y="2109.63" width="13" height="13" fill="#ff0000" stroke="#ff0000" stroke-width="0.5"/><rect x="669.88" y="2103.65" width="13" height="13" fill="#ff0000" stroke="#ff0000" stroke-width="0.5"/><rect x="680.9" y="2097.43" width="13" height="13" fill="#ff0000" stroke="#ff0000" stroke-width="0.5"/><rect x="691.93" y="2083.81" width="13" height="13" fill="#ff0000" stroke="#ff0000" stroke-width="0.5"/><rect x="702.96" y="2065.69" width="13" height="13" fill="#ff0000" stroke="#ff0000" stroke-width="0.5"/><rect x="713.98" y="2047.44" width="13" height="13" fill="#ff0000" stroke="#ff0000" stroke-width="0.5"/><rect x="725.01" y="2029.16" width="13" height="13" fill="#ff0000" stroke="#ff0000" stroke-width="0.5"/><rect x="736.04" y="2010.91" width="13" height="13" fill="#ff0000" stroke="#ff0000" stroke-width="0.5"/><rect x="747.06" y="1993.37" width="13" height="13" fill="#ff0000" stroke="#ff0000" stroke-width="0.5"/><rect x="758.09" y="1975.12" width="13" height="13" fill="#ff0000" stroke="#ff0000" stroke-width="0.5"/><rect x="769.12" y="1954.74" width="13" height="13" fill="#ff0000" stroke="#ff0000" stroke-width="0.5"/><rect x="780.15" y="1936.5" width="13" height="13" fill="#ff0000" stroke="#ff0000" stroke-width="0.5"/><rect x="791.17" y="1917.97" width="13" height="13" fill="#ff0000" stroke="#ff0000" stroke-width="0.5"/><rect x="802.2" y="1899.56" width="13" height="13" fill="#ff0000" stroke="#ff0000" stroke-width="0.5"/><rect x="813.23" y="1881.41" width="13" height="13" fill="#ff0000" stroke="#ff0000" stroke-width="0.5"/><rect x="824.25" y="1863.91" width="13" height="13" fill="#ff0000" stroke="#ff0000" stroke-width="0.5"/><rect x="835.28" y="1845.68" width="13" height="13" fill="#ff0000" stroke="#ff0000" stroke-width="0.5"/><rect x="846.31" y="1827.39" width="13" height="13" fill="#ff0000" stroke="#ff0000" stroke-width="0.5"/><rect x="857.33" y="1809.15" width="13" height="13" fill="#ff0000" stroke="#ff0000" stroke-width="0.5"/><rect x="868.36" y="1791.61" width="13" height="13" fill="#ff0000" stroke="#ff0000" stroke-width="0.5"/><rect x="879.39" y="1773.49" width="13" height="13" fill="#ff0000" stroke="#ff0000" stroke-width="0.5"/><rect x="890.42" y="1755.96" width="13" height="13" fill="#ff0000" stroke="#ff0000" stroke-width="0.5"/><rect x="901.44" y="1737.03" width="13" height="13" fill="#ff0000" stroke="#ff0000" stroke-width="0.5"/><rect x="912.47" y="1717.25" width="13" height="13" fill="#ff0000" stroke="#ff0000" stroke-width="0.5"/><rect x="923.5" y="1698.5" width="13" height="13" fill="#ff0000" stroke="#ff0000" stroke-width="0.5"/></g><g clip-path="url(#cc)"><polyline points="114,2095.85 125.03,2087.59 136.05,2078.55 147.08,2071.98 158.11,2068.3 169.13,2067.64 180.16,2071.45 191.19,2078.99 202.22,2089.44 213.24,2102.14 224.27,2112.97 235.3,2123.54 246.32,2130 257.35,2135.4 268.38,2138.5 279.4,2140.53 290.43,2142.05 301.46,2143.33 312.49,2146.07 323.51,2151.2 334.54,2158.34 345.57,2164.62 356.59,2171.63 367.62,2176.13 378.65,2178.08 389.67,2177.89 400.7,2174.88 411.73,2169.75 422.76,2164.98 433.78,2159.55 444.81,2154.8 455.84,2150.22 466.86,2146.28 477.89,2143.08 488.92,2139.95 499.94,2136.93 510.97,2134.65 522,2132.08 533.03,2129.69 544.05,2127.72 555.08,2126.12 566.11,2124.53 577.13,2122.83 588.16,2121.92 599.19,2121.04 610.21,2120.03 621.24,2119.28 632.27,2118.6 643.3,2117.92 654.32,2116.79 665.35,2114.39 676.38,2109.74 687.4,2103.14 698.43,2090.21 709.46,2072.19 720.48,2053.94 731.51,2035.66 742.54,2017.41 753.56,1999.87 764.59,1981.62 775.62,1961.24 786.65,1943 797.67,1924.47 808.7,1906.06 819.73,1887.91 830.75,1870.41 841.78,1852.18 852.81,1833.89 863.83,1815.65 874.86,1798.11 885.89,1779.99 896.92,1762.46 907.94,1743.53 918.97,1723.75 930,1705" fill="none" stroke="#008080" stroke-width="1.3"/><path d="M114 2088.35L122.5 2103.35L105.5 2103.35Z" fill="#008080" stroke="#008080" stroke-width="0.8" stroke-linejoin="miter"/><path d="M125.03 2080.09L133.53 2095.09L116.53 2095.09Z" fill="#008080" stroke="#008080" stroke-width="0.8" stroke-linejoin="miter"/><path d="M136.05 2071.05L144.55 2086.05L127.55 2086.05Z" fill="#008080" stroke="#008080" stroke-width="0.8" stroke-linejoin="miter"/><path d="M147.08 2064.48L155.58 2079.48L138.58 2079.48Z" fill="#008080" stroke="#008080" stroke-width="0.8" stroke-linejoin="miter"/><path d="M158.11 2060.8L166.61 2075.8L149.61 2075.8Z" fill="#008080" stroke="#008080" stroke-width="0.8" stroke-linejoin="miter"/><path d="M169.13 2060.14L177.63 2075.14L160.63 2075.14Z" fill="#008080" stroke="#008080" stroke-width="0.8" stroke-linejoin="miter"/><path d="M180.16 2063.95L188.66 2078.95L171.66 2078.95Z" fill="#008080" stroke="#008080" stroke-width="0.8" stroke-linejoin="miter"/><path d="M191.19 2071.49L199.69 2086.49L182.69 2086.49Z" fill="#008080" stroke="#008080" stroke-width="0.8" stroke-linejoin="miter"/><path d="M202.22 2081.94L210.72 2096.94L193.72 2096.94Z" fill="#008080" stroke="#008080" stroke-width="0.8" stroke-linejoin="miter"/><path d="M213.24 2094.64L221.74 2109.64L204.74 2109.64Z" fill="#008080" stroke="#008080" stroke-width="0.8" stroke-linejoin="miter"/><path d="M224.27 2105.47L232.77 2120.47L215.77 2120.47Z" fill="#008080" stroke="#008080" stroke-width="0.8" stroke-linejoin="miter"/><path d="M235.3 2116.04L243.8 2131.04L226.8 2131.04Z" fill="#008080" stroke="#008080" stroke-width="0.8" stroke-linejoin="miter"/><path d="M246.32 2122.5L254.82 2137.5L237.82 2137.5Z" fill="#008080" stroke="#008080" stroke-width="0.8" stroke-linejoin="miter"/><path d="M257.35 2127.9L265.85 2142.9L248.85 2142.9Z" fill="#008080" stroke="#008080" stroke-width="0.8" stroke-linejoin="miter"/><path d="M268.38 2131L276.88 2146L259.88 2146Z" fill="#008080" stroke="#008080" stroke-width="0.8" stroke-linejoin="miter"/><path d="M279.4 2133.03L287.9 2148.03L270.9 2148.03Z" fill="#008080" stroke="#008080" stroke-width="0.8" stroke-linejoin="miter"/><path d="M290.43 2134.55L298.93 2149.55L281.93 2149.55Z" fill="#008080" stroke="#008080" stroke-width="0.8" stroke-linejoin="miter"/><path d="M301.46 2135.83L309.96 2150.83L292.96 2150.83Z" fill="#008080" stroke="#008080" stroke-width="0.8" stroke-linejoin="miter"/><path d="M312.49 2138.57L320.99 2153.57L303.99 2153.57Z" fill="#008080" stroke="#008080" stroke-width="0.8" stroke-linejoin="miter"/><path d="M323.51 2143.7L332.01 2158.7L315.01 2158.7Z" fill="#008080" stroke="#008080" stroke-width="0.8" stroke-linejoin="miter"/><path d="M334.54 2150.84L343.04 2165.84L326.04 2165.84Z" fill="#008080" stroke="#008080" stroke-width="0.8" stroke-linejoin="miter"/><path d="M345.57 2157.12L354.07 2172.12L337.07 2172.12Z" fill="#008080" stroke="#008080" stroke-width="0.8" stroke-linejoin="miter"/><path d="M356.59 2164.13L365.09 2179.13L348.09 2179.13Z" fill="#008080" stroke="#008080" stroke-width="0.8" stroke-linejoin="miter"/><path d="M367.62 2168.63L376.12 2183.63L359.12 2183.63Z" fill="#008080" stroke="#008080" stroke-width="0.8" stroke-linejoin="miter"/><path d="M378.65 2170.58L387.15 2185.58L370.15 2185.58Z" fill="#008080" stroke="#008080" stroke-width="0.8" stroke-linejoin="miter"/><path d="M389.67 2170.39L398.17 2185.39L381.17 2185.39Z" fill="#008080" stroke="#008080" stroke-width="0.8" stroke-linejoin="miter"/><path d="M400.7 2167.38L409.2 2182.38L392.2 2182.38Z" fill="#008080" stroke="#008080" stroke-width="0.8" stroke-linejoin="miter"/><path d="M411.73 2162.25L420.23 2177.25L403.23 2177.25Z" fill="#008080" stroke="#008080" stroke-width="0.8" stroke-linejoin="miter"/><path d="M422.76 2157.48L431.26 2172.48L414.26 2172.48Z" fill="#008080" stroke="#008080" stroke-width="0.8" stroke-linejoin="miter"/><path d="M433.78 2152.05L442.28 2167.05L425.28 2167.05Z" fill="#008080" stroke="#008080" stroke-width="0.8" stroke-linejoin="miter"/><path d="M444.81 2147.3L453.31 2162.3L436.31 2162.3Z" fill="#008080" stroke="#008080" stroke-width="0.8" stroke-linejoin="miter"/><path d="M455.84 2142.72L464.34 2157.72L447.34 2157.72Z" fill="#008080" stroke="#008080" stroke-width="0.8" stroke-linejoin="miter"/><path d="M466.86 2138.78L475.36 2153.78L458.36 2153.78Z" fill="#008080" stroke="#008080" stroke-width="0.8" stroke-linejoin="miter"/><path d="M477.89 2135.58L486.39 2150.58L469.39 2150.58Z" fill="#008080" stroke="#008080" stroke-width="0.8" stroke-linejoin="miter"/><path d="M488.92 2132.45L497.42 2147.45L480.42 2147.45Z" fill="#008080" stroke="#008080" stroke-width="0.8" stroke-linejoin="miter"/><path d="M499.94 2129.43L508.44 2144.43L491.44 2144.43Z" fill="#008080" stroke="#008080" stroke-width="0.8" stroke-linejoin="miter"/><path d="M510.97 2127.15L519.47 2142.15L502.47 2142.15Z" fill="#008080" stroke="#008080" stroke-width="0.8" stroke-linejoin="miter"/><path d="M522 2124.58L530.5 2139.58L513.5 2139.58Z" fill="#008080" stroke="#008080" stroke-width="0.8" stroke-linejoin="miter"/><path d="M533.03 2122.19L541.53 2137.19L524.53 2137.19Z" fill="#008080" stroke="#008080" stroke-width="0.8" stroke-linejoin="miter"/><path d="M544.05 2120.22L552.55 2135.22L535.55 2135.22Z" fill="#008080" stroke="#008080" stroke-width="0.8" stroke-linejoin="miter"/><path d="M555.08 2118.62L563.58 2133.62L546.58 2133.62Z" fill="#008080" stroke="#008080" stroke-width="0.8" stroke-linejoin="miter"/><path d="M566.11 2117.03L574.61 2132.03L557.61 2132.03Z" fill="#008080" stroke="#008080" stroke-width="0.8" stroke-linejoin="miter"/><path d="M577.13 2115.33L585.63 2130.33L568.63 2130.33Z" fill="#008080" stroke="#008080" stroke-width="0.8" stroke-linejoin="miter"/><path d="M588.16 2114.42L596.66 2129.42L579.66 2129.42Z" fill="#008080" stroke="#008080" stroke-width="0.8" stroke-linejoin="miter"/><path d="M599.19 2113.54L607.69 2128.54L590.69 2128.54Z" fill="#008080" stroke="#008080" stroke-width="0.8" stroke-linejoin="miter"/><path d="M610.21 2112.53L618.71 2127.53L601.71 2127.53Z" fill="#008080" stroke="#008080" stroke-width="0.8" stroke-linejoin="miter"/><path d="M621.24 2111.78L629.74 2126.78L612.74 2126.78Z" fill="#008080" stroke="#008080" stroke-width="0.8" stroke-linejoin="miter"/><path d="M632.27 2111.1L640.77 2126.1L623.77 2126.1Z" fill="#008080" stroke="#008080" stroke-width="0.8" stroke-linejoin="miter"/><path d="M643.3 2110.42L651.8 2125.42L634.8 2125.42Z" fill="#008080" stroke="#008080" stroke-width="0.8" stroke-linejoin="miter"/><path d="M654.32 2109.29L662.82 2124.29L645.82 2124.29Z" fill="#008080" stroke="#008080" stroke-width="0.8" stroke-linejoin="miter"/><path d="M665.35 2106.89L673.85 2121.89L656.85 2121.89Z" fill="#008080" stroke="#008080" stroke-width="0.8" stroke-linejoin="miter"/><path d="M676.38 2102.24L684.88 2117.24L667.88 2117.24Z" fill="#008080" stroke="#008080" stroke-width="0.8" stroke-linejoin="miter"/><path d="M687.4 2095.64L695.9 2110.64L678.9 2110.64Z" fill="#008080" stroke="#008080" stroke-width="0.8" stroke-linejoin="miter"/><path d="M698.43 2082.71L706.93 2097.71L689.93 2097.71Z" fill="#008080" stroke="#008080" stroke-width="0.8" stroke-linejoin="miter"/><path d="M709.46 2064.69L717.96 2079.69L700.96 2079.69Z" fill="#008080" stroke="#008080" stroke-width="0.8" stroke-linejoin="miter"/><path d="M720.48 2046.44L728.98 2061.44L711.98 2061.44Z" fill="#008080" stroke="#008080" stroke-width="0.8" stroke-linejoin="miter"/><path d="M731.51 2028.16L740.01 2043.16L723.01 2043.16Z" fill="#008080" stroke="#008080" stroke-width="0.8" stroke-linejoin="miter"/><path d="M742.54 2009.91L751.04 2024.91L734.04 2024.91Z" fill="#008080" stroke="#008080" stroke-width="0.8" stroke-linejoin="miter"/><path d="M753.56 1992.37L762.06 2007.37L745.06 2007.37Z" fill="#008080" stroke="#008080" stroke-width="0.8" stroke-linejoin="miter"/><path d="M764.59 1974.12L773.09 1989.12L756.09 1989.12Z" fill="#008080" stroke="#008080" stroke-width="0.8" stroke-linejoin="miter"/><path d="M775.62 1953.74L784.12 1968.74L767.12 1968.74Z" fill="#008080" stroke="#008080" stroke-width="0.8" stroke-linejoin="miter"/><path d="M786.65 1935.5L795.15 1950.5L778.15 1950.5Z" fill="#008080" stroke="#008080" stroke-width="0.8" stroke-linejoin="miter"/><path d="M797.67 1916.97L806.17 1931.97L789.17 1931.97Z" fill="#008080" stroke="#008080" stroke-width="0.8" stroke-linejoin="miter"/><path d="M808.7 1898.56L817.2 1913.56L800.2 1913.56Z" fill="#008080" stroke="#008080" stroke-width="0.8" stroke-linejoin="miter"/><path d="M819.73 1880.41L828.23 1895.41L811.23 1895.41Z" fill="#008080" stroke="#008080" stroke-width="0.8" stroke-linejoin="miter"/><path d="M830.75 1862.91L839.25 1877.91L822.25 1877.91Z" fill="#008080" stroke="#008080" stroke-width="0.8" stroke-linejoin="miter"/><path d="M841.78 1844.68L850.28 1859.68L833.28 1859.68Z" fill="#008080" stroke="#008080" stroke-width="0.8" stroke-linejoin="miter"/><path d="M852.81 1826.39L861.31 1841.39L844.31 1841.39Z" fill="#008080" stroke="#008080" stroke-width="0.8" stroke-linejoin="miter"/><path d="M863.83 1808.15L872.33 1823.15L855.33 1823.15Z" fill="#008080" stroke="#008080" stroke-width="0.8" stroke-linejoin="miter"/><path d="M874.86 1790.61L883.36 1805.61L866.36 1805.61Z" fill="#008080" stroke="#008080" stroke-width="0.8" stroke-linejoin="miter"/><path d="M885.89 1772.49L894.39 1787.49L877.39 1787.49Z" fill="#008080" stroke="#008080" stroke-width="0.8" stroke-linejoin="miter"/><path d="M896.92 1754.96L905.42 1769.96L888.42 1769.96Z" fill="#008080" stroke="#008080" stroke-width="0.8" stroke-linejoin="miter"/><path d="M907.94 1736.03L916.44 1751.03L899.44 1751.03Z" fill="#008080" stroke="#008080" stroke-width="0.8" stroke-linejoin="miter"/><path d="M918.97 1716.25L927.47 1731.25L910.47 1731.25Z" fill="#008080" stroke="#008080" stroke-width="0.8" stroke-linejoin="miter"/><path d="M930 1697.5L938.5 1712.5L921.5 1712.5Z" fill="#008080" stroke="#008080" stroke-width="0.8" stroke-linejoin="miter"/></g><g clip-path="url(#cc)"><polyline points="147.08,2072.46 158.11,2069.42 169.13,2069.47 180.16,2073.84 191.19,2081.49 202.22,2091.94 213.24,2104.64 224.27,2115.47 235.3,2126.04 246.32,2132.5 257.35,2137.9 268.38,2141 279.4,2143.02 290.43,2144.53 301.46,2145.59 312.49,2146.98 323.51,2147.96 334.54,2148.89 345.57,2149.08 356.59,2149.62 367.62,2149.77 378.65,2150.4 389.67,2151.15 400.7,2152.3 411.73,2157.97 422.76,2164.83 433.78,2171.26 444.81,2175.91 455.84,2179.06 466.86,2180.02 477.89,2178.2 488.92,2175.15 499.94,2170.72 510.97,2166.35 522,2161.61 533.03,2157.53 544.05,2153.12 555.08,2149.38 566.11,2146.07 577.13,2142.53 588.16,2139.8 599.19,2137.3 610.21,2134.75 621.24,2132.5 632.27,2130.24 643.3,2128.09 654.32,2125.3 665.35,2120.98 676.38,2115.63 687.4,2104.26 698.43,2090.31 709.46,2072.19 720.48,2053.94 731.51,2035.66 742.54,2017.41 753.56,1999.87 764.59,1981.62 775.62,1961.24 786.65,1943 797.67,1924.47 808.7,1906.06 819.73,1887.91 830.75,1870.41 841.78,1852.18 852.81,1833.89 863.83,1815.65 874.86,1798.11 885.89,1779.99 896.92,1762.46 907.94,1743.53 918.97,1723.75 930,1705" fill="none" stroke="#0000ff" stroke-width="1.3"/><path d="M147.08 2064.86L149.15 2070.4L155.07 2070.66L150.44 2074.35L152.02 2080.05L147.08 2076.79L142.14 2080.05L143.73 2074.35L139.09 2070.66L145.01 2070.4Z" fill="#0000ff" stroke="#0000ff" stroke-width="0.8" stroke-linejoin="miter"/><path d="M158.11 2061.83L160.18 2067.37L166.1 2067.63L161.46 2071.32L163.05 2077.02L158.11 2073.75L153.17 2077.02L154.75 2071.32L150.12 2067.63L156.03 2067.37Z" fill="#0000ff" stroke="#0000ff" stroke-width="0.8" stroke-linejoin="miter"/><path d="M169.13 2061.87L171.21 2067.41L177.12 2067.67L172.49 2071.36L174.07 2077.06L169.13 2073.8L164.2 2077.06L165.78 2071.36L161.15 2067.67L167.06 2067.41Z" fill="#0000ff" stroke="#0000ff" stroke-width="0.8" stroke-linejoin="miter"/><path d="M180.16 2066.24L182.24 2071.79L188.15 2072.05L183.52 2075.73L185.1 2081.44L180.16 2078.17L175.22 2081.44L176.81 2075.73L172.17 2072.05L178.09 2071.79Z" fill="#0000ff" stroke="#0000ff" stroke-width="0.8" stroke-linejoin="miter"/><path d="M191.19 2073.89L193.26 2079.43L199.18 2079.69L194.54 2083.38L196.13 2089.08L191.19 2085.82L186.25 2089.08L187.83 2083.38L183.2 2079.69L189.12 2079.43Z" fill="#0000ff" stroke="#0000ff" stroke-width="0.8" stroke-linejoin="miter"/><path d="M202.22 2084.34L204.29 2089.89L210.2 2090.15L205.57 2093.83L207.15 2099.54L202.22 2096.27L197.28 2099.54L198.86 2093.83L194.23 2090.15L200.14 2089.89Z" fill="#0000ff" stroke="#0000ff" stroke-width="0.8" stroke-linejoin="miter"/><path d="M213.24 2097.04L215.32 2102.58L221.23 2102.84L216.6 2106.53L218.18 2112.23L213.24 2108.97L208.31 2112.23L209.89 2106.53L205.25 2102.84L211.17 2102.58Z" fill="#0000ff" stroke="#0000ff" stroke-width="0.8" stroke-linejoin="miter"/><path d="M224.27 2107.87L226.34 2113.42L232.26 2113.68L227.63 2117.36L229.21 2123.07L224.27 2119.8L219.33 2123.07L220.91 2117.36L216.28 2113.68L222.2 2113.42Z" fill="#0000ff" stroke="#0000ff" stroke-width="0.8" stroke-linejoin="miter"/><path d="M235.3 2118.44L237.37 2123.99L243.29 2124.25L238.65 2127.93L240.23 2133.64L235.3 2130.37L230.36 2133.64L231.94 2127.93L227.31 2124.25L233.22 2123.99Z" fill="#0000ff" stroke="#0000ff" stroke-width="0.8" stroke-linejoin="miter"/><path d="M246.32 2124.91L248.4 2130.45L254.31 2130.71L249.68 2134.4L251.26 2140.1L246.32 2136.83L241.39 2140.1L242.97 2134.4L238.33 2130.71L244.25 2130.45Z" fill="#0000ff" stroke="#0000ff" stroke-width="0.8" stroke-linejoin="miter"/><path d="M257.35 2130.3L259.42 2135.84L265.34 2136.1L260.71 2139.79L262.29 2145.49L257.35 2142.23L252.41 2145.49L254 2139.79L249.36 2136.1L255.28 2135.84Z" fill="#0000ff" stroke="#0000ff" stroke-width="0.8" stroke-linejoin="miter"/><path d="M268.38 2133.4L270.45 2138.95L276.37 2139.21L271.73 2142.89L273.32 2148.6L268.38 2145.33L263.44 2148.6L265.02 2142.89L260.39 2139.21L266.3 2138.95Z" fill="#0000ff" stroke="#0000ff" stroke-width="0.8" stroke-linejoin="miter"/><path d="M279.4 2135.43L281.48 2140.97L287.39 2141.23L282.76 2144.92L284.34 2150.62L279.4 2147.35L274.47 2150.62L276.05 2144.92L271.42 2141.23L277.33 2140.97Z" fill="#0000ff" stroke="#0000ff" stroke-width="0.8" stroke-linejoin="miter"/><path d="M290.43 2136.93L292.51 2142.48L298.42 2142.74L293.79 2146.42L295.37 2152.13L290.43 2148.86L285.49 2152.13L287.08 2146.42L282.44 2142.74L288.36 2142.48Z" fill="#0000ff" stroke="#0000ff" stroke-width="0.8" stroke-linejoin="miter"/><path d="M301.46 2137.99L303.53 2143.53L309.45 2143.79L304.81 2147.48L306.4 2153.18L301.46 2149.92L296.52 2153.18L298.1 2147.48L293.47 2143.79L299.38 2143.53Z" fill="#0000ff" stroke="#0000ff" stroke-width="0.8" stroke-linejoin="miter"/><path d="M312.49 2139.38L314.56 2144.93L320.47 2145.18L315.84 2148.87L317.42 2154.58L312.49 2151.31L307.55 2154.58L309.13 2148.87L304.5 2145.18L310.41 2144.93Z" fill="#0000ff" stroke="#0000ff" stroke-width="0.8" stroke-linejoin="miter"/><path d="M323.51 2140.36L325.59 2145.9L331.5 2146.16L326.87 2149.85L328.45 2155.55L323.51 2152.29L318.58 2155.55L320.16 2149.85L315.52 2146.16L321.44 2145.9Z" fill="#0000ff" stroke="#0000ff" stroke-width="0.8" stroke-linejoin="miter"/><path d="M334.54 2141.29L336.61 2146.84L342.53 2147.09L337.89 2150.78L339.48 2156.49L334.54 2153.22L329.6 2156.49L331.18 2150.78L326.55 2147.09L332.47 2146.84Z" fill="#0000ff" stroke="#0000ff" stroke-width="0.8" stroke-linejoin="miter"/><path d="M345.57 2141.48L347.64 2147.03L353.56 2147.28L348.92 2150.97L350.5 2156.68L345.57 2153.41L340.63 2156.68L342.21 2150.97L337.58 2147.28L343.49 2147.03Z" fill="#0000ff" stroke="#0000ff" stroke-width="0.8" stroke-linejoin="miter"/><path d="M356.59 2142.03L358.67 2147.57L364.58 2147.83L359.95 2151.52L361.53 2157.22L356.59 2153.95L351.66 2157.22L353.24 2151.52L348.6 2147.83L354.52 2147.57Z" fill="#0000ff" stroke="#0000ff" stroke-width="0.8" stroke-linejoin="miter"/><path d="M367.62 2142.17L369.69 2147.72L375.61 2147.98L370.98 2151.66L372.56 2157.37L367.62 2154.1L362.68 2157.37L364.27 2151.66L359.63 2147.98L365.55 2147.72Z" fill="#0000ff" stroke="#0000ff" stroke-width="0.8" stroke-linejoin="miter"/><path d="M378.65 2142.8L380.72 2148.35L386.64 2148.61L382 2152.29L383.58 2158L378.65 2154.73L373.71 2158L375.29 2152.29L370.66 2148.61L376.57 2148.35Z" fill="#0000ff" stroke="#0000ff" stroke-width="0.8" stroke-linejoin="miter"/><path d="M389.67 2143.56L391.75 2149.1L397.66 2149.36L393.03 2153.05L394.61 2158.75L389.67 2155.48L384.74 2158.75L386.32 2153.05L381.69 2149.36L387.6 2149.1Z" fill="#0000ff" stroke="#0000ff" stroke-width="0.8" stroke-linejoin="miter"/><path d="M400.7 2144.7L402.78 2150.25L408.69 2150.51L404.06 2154.19L405.64 2159.9L400.7 2156.63L395.76 2159.9L397.35 2154.19L392.71 2150.51L398.63 2150.25Z" fill="#0000ff" stroke="#0000ff" stroke-width="0.8" stroke-linejoin="miter"/><path d="M411.73 2150.37L413.8 2155.92L419.72 2156.18L415.08 2159.86L416.67 2165.57L411.73 2162.3L406.79 2165.57L408.37 2159.86L403.74 2156.18L409.65 2155.92Z" fill="#0000ff" stroke="#0000ff" stroke-width="0.8" stroke-linejoin="miter"/><path d="M422.76 2157.24L424.83 2162.78L430.74 2163.04L426.11 2166.73L427.69 2172.43L422.76 2169.16L417.82 2172.43L419.4 2166.73L414.77 2163.04L420.68 2162.78Z" fill="#0000ff" stroke="#0000ff" stroke-width="0.8" stroke-linejoin="miter"/><path d="M433.78 2163.66L435.86 2169.21L441.77 2169.47L437.14 2173.16L438.72 2178.86L433.78 2175.59L428.85 2178.86L430.43 2173.16L425.79 2169.47L431.71 2169.21Z" fill="#0000ff" stroke="#0000ff" stroke-width="0.8" stroke-linejoin="miter"/><path d="M444.81 2168.31L446.88 2173.85L452.8 2174.11L448.16 2177.8L449.75 2183.5L444.81 2180.24L439.87 2183.5L441.45 2177.8L436.82 2174.11L442.74 2173.85Z" fill="#0000ff" stroke="#0000ff" stroke-width="0.8" stroke-linejoin="miter"/><path d="M455.84 2171.46L457.91 2177.01L463.83 2177.27L459.19 2180.95L460.77 2186.66L455.84 2183.39L450.9 2186.66L452.48 2180.95L447.85 2177.27L453.76 2177.01Z" fill="#0000ff" stroke="#0000ff" stroke-width="0.8" stroke-linejoin="miter"/><path d="M466.86 2172.42L468.94 2177.97L474.85 2178.23L470.22 2181.91L471.8 2187.62L466.86 2184.35L461.93 2187.62L463.51 2181.91L458.87 2178.23L464.79 2177.97Z" fill="#0000ff" stroke="#0000ff" stroke-width="0.8" stroke-linejoin="miter"/><path d="M477.89 2170.6L479.96 2176.15L485.88 2176.41L481.25 2180.09L482.83 2185.8L477.89 2182.53L472.95 2185.8L474.53 2180.09L469.9 2176.41L475.82 2176.15Z" fill="#0000ff" stroke="#0000ff" stroke-width="0.8" stroke-linejoin="miter"/><path d="M488.92 2167.56L490.99 2173.1L496.91 2173.36L492.27 2177.05L493.85 2182.75L488.92 2179.48L483.98 2182.75L485.56 2177.05L480.93 2173.36L486.84 2173.1Z" fill="#0000ff" stroke="#0000ff" stroke-width="0.8" stroke-linejoin="miter"/><path d="M499.94 2163.12L502.02 2168.66L507.93 2168.92L503.3 2172.61L504.88 2178.31L499.94 2175.05L495.01 2178.31L496.59 2172.61L491.96 2168.92L497.87 2168.66Z" fill="#0000ff" stroke="#0000ff" stroke-width="0.8" stroke-linejoin="miter"/><path d="M510.97 2158.76L513.04 2164.3L518.96 2164.56L514.33 2168.25L515.91 2173.95L510.97 2170.68L506.03 2173.95L507.62 2168.25L502.98 2164.56L508.9 2164.3Z" fill="#0000ff" stroke="#0000ff" stroke-width="0.8" stroke-linejoin="miter"/><path d="M522 2154.01L524.07 2159.55L529.99 2159.81L525.35 2163.5L526.94 2169.2L522 2165.94L517.06 2169.2L518.64 2163.5L514.01 2159.81L519.92 2159.55Z" fill="#0000ff" stroke="#0000ff" stroke-width="0.8" stroke-linejoin="miter"/><path d="M533.03 2149.93L535.1 2155.48L541.01 2155.74L536.38 2159.42L537.96 2165.13L533.03 2161.86L528.09 2165.13L529.67 2159.42L525.04 2155.74L530.95 2155.48Z" fill="#0000ff" stroke="#0000ff" stroke-width="0.8" stroke-linejoin="miter"/><path d="M544.05 2145.52L546.13 2151.06L552.04 2151.32L547.41 2155.01L548.99 2160.71L544.05 2157.45L539.11 2160.71L540.7 2155.01L536.06 2151.32L541.98 2151.06Z" fill="#0000ff" stroke="#0000ff" stroke-width="0.8" stroke-linejoin="miter"/><path d="M555.08 2141.78L557.15 2147.33L563.07 2147.59L558.43 2151.27L560.02 2156.98L555.08 2153.71L550.14 2156.98L551.72 2151.27L547.09 2147.59L553.01 2147.33Z" fill="#0000ff" stroke="#0000ff" stroke-width="0.8" stroke-linejoin="miter"/><path d="M566.11 2138.48L568.18 2144.02L574.1 2144.28L569.46 2147.97L571.04 2153.67L566.11 2150.41L561.17 2153.67L562.75 2147.97L558.12 2144.28L564.03 2144.02Z" fill="#0000ff" stroke="#0000ff" stroke-width="0.8" stroke-linejoin="miter"/><path d="M577.13 2134.93L579.21 2140.48L585.12 2140.74L580.49 2144.43L582.07 2150.13L577.13 2146.86L572.2 2150.13L573.78 2144.43L569.14 2140.74L575.06 2140.48Z" fill="#0000ff" stroke="#0000ff" stroke-width="0.8" stroke-linejoin="miter"/><path d="M588.16 2132.21L590.23 2137.75L596.15 2138.01L591.52 2141.7L593.1 2147.4L588.16 2144.13L583.22 2147.4L584.8 2141.7L580.17 2138.01L586.09 2137.75Z" fill="#0000ff" stroke="#0000ff" stroke-width="0.8" stroke-linejoin="miter"/><path d="M599.19 2129.7L601.26 2135.25L607.18 2135.51L602.54 2139.2L604.12 2144.9L599.19 2141.63L594.25 2144.9L595.83 2139.2L591.2 2135.51L597.11 2135.25Z" fill="#0000ff" stroke="#0000ff" stroke-width="0.8" stroke-linejoin="miter"/><path d="M610.21 2127.15L612.29 2132.7L618.2 2132.96L613.57 2136.64L615.15 2142.35L610.21 2139.08L605.28 2142.35L606.86 2136.64L602.23 2132.96L608.14 2132.7Z" fill="#0000ff" stroke="#0000ff" stroke-width="0.8" stroke-linejoin="miter"/><path d="M621.24 2124.9L623.31 2130.44L629.23 2130.7L624.6 2134.39L626.18 2140.09L621.24 2136.83L616.3 2140.09L617.89 2134.39L613.25 2130.7L619.17 2130.44Z" fill="#0000ff" stroke="#0000ff" stroke-width="0.8" stroke-linejoin="miter"/><path d="M632.27 2122.64L634.34 2128.19L640.26 2128.45L635.62 2132.13L637.21 2137.84L632.27 2134.57L627.33 2137.84L628.91 2132.13L624.28 2128.45L630.19 2128.19Z" fill="#0000ff" stroke="#0000ff" stroke-width="0.8" stroke-linejoin="miter"/><path d="M643.3 2120.49L645.37 2126.04L651.28 2126.3L646.65 2129.98L648.23 2135.69L643.3 2132.42L638.36 2135.69L639.94 2129.98L635.31 2126.3L641.22 2126.04Z" fill="#0000ff" stroke="#0000ff" stroke-width="0.8" stroke-linejoin="miter"/><path d="M654.32 2117.7L656.4 2123.24L662.31 2123.5L657.68 2127.19L659.26 2132.89L654.32 2129.63L649.38 2132.89L650.97 2127.19L646.33 2123.5L652.25 2123.24Z" fill="#0000ff" stroke="#0000ff" stroke-width="0.8" stroke-linejoin="miter"/><path d="M665.35 2113.38L667.42 2118.93L673.34 2119.19L668.7 2122.87L670.29 2128.58L665.35 2125.31L660.41 2128.58L661.99 2122.87L657.36 2119.19L663.28 2118.93Z" fill="#0000ff" stroke="#0000ff" stroke-width="0.8" stroke-linejoin="miter"/><path d="M676.38 2108.04L678.45 2113.58L684.36 2113.84L679.73 2117.53L681.31 2123.23L676.38 2119.96L671.44 2123.23L673.02 2117.53L668.39 2113.84L674.3 2113.58Z" fill="#0000ff" stroke="#0000ff" stroke-width="0.8" stroke-linejoin="miter"/><path d="M687.4 2096.66L689.48 2102.21L695.39 2102.46L690.76 2106.15L692.34 2111.86L687.4 2108.59L682.47 2111.86L684.05 2106.15L679.41 2102.46L685.33 2102.21Z" fill="#0000ff" stroke="#0000ff" stroke-width="0.8" stroke-linejoin="miter"/><path d="M698.43 2082.71L700.5 2088.25L706.42 2088.51L701.79 2092.2L703.37 2097.9L698.43 2094.64L693.49 2097.9L695.07 2092.2L690.44 2088.51L696.36 2088.25Z" fill="#0000ff" stroke="#0000ff" stroke-width="0.8" stroke-linejoin="miter"/><path d="M709.46 2064.6L711.53 2070.14L717.45 2070.4L712.81 2074.09L714.39 2079.79L709.46 2076.53L704.52 2079.79L706.1 2074.09L701.47 2070.4L707.38 2070.14Z" fill="#0000ff" stroke="#0000ff" stroke-width="0.8" stroke-linejoin="miter"/><path d="M720.48 2046.34L722.56 2051.89L728.47 2052.15L723.84 2055.83L725.42 2061.54L720.48 2058.27L715.55 2061.54L717.13 2055.83L712.49 2052.15L718.41 2051.89Z" fill="#0000ff" stroke="#0000ff" stroke-width="0.8" stroke-linejoin="miter"/><path d="M731.51 2028.06L733.58 2033.6L739.5 2033.86L734.87 2037.55L736.45 2043.25L731.51 2039.99L726.57 2043.25L728.16 2037.55L723.52 2033.86L729.44 2033.6Z" fill="#0000ff" stroke="#0000ff" stroke-width="0.8" stroke-linejoin="miter"/><path d="M742.54 2009.81L744.61 2015.35L750.53 2015.61L745.89 2019.3L747.48 2025L742.54 2021.74L737.6 2025L739.18 2019.3L734.55 2015.61L740.46 2015.35Z" fill="#0000ff" stroke="#0000ff" stroke-width="0.8" stroke-linejoin="miter"/><path d="M753.56 1992.27L755.64 1997.82L761.55 1998.07L756.92 2001.76L758.5 2007.47L753.56 2004.2L748.63 2007.47L750.21 2001.76L745.58 1998.07L751.49 1997.82Z" fill="#0000ff" stroke="#0000ff" stroke-width="0.8" stroke-linejoin="miter"/><path d="M764.59 1974.02L766.67 1979.57L772.58 1979.83L767.95 1983.51L769.53 1989.22L764.59 1985.95L759.65 1989.22L761.24 1983.51L756.6 1979.83L762.52 1979.57Z" fill="#0000ff" stroke="#0000ff" stroke-width="0.8" stroke-linejoin="miter"/><path d="M775.62 1953.64L777.69 1959.19L783.61 1959.44L778.97 1963.13L780.56 1968.84L775.62 1965.57L770.68 1968.84L772.26 1963.13L767.63 1959.44L773.55 1959.19Z" fill="#0000ff" stroke="#0000ff" stroke-width="0.8" stroke-linejoin="miter"/><path d="M786.65 1935.4L788.72 1940.95L794.63 1941.21L790 1944.89L791.58 1950.6L786.65 1947.33L781.71 1950.6L783.29 1944.89L778.66 1941.21L784.57 1940.95Z" fill="#0000ff" stroke="#0000ff" stroke-width="0.8" stroke-linejoin="miter"/><path d="M797.67 1916.87L799.75 1922.42L805.66 1922.68L801.03 1926.36L802.61 1932.07L797.67 1928.8L792.74 1932.07L794.32 1926.36L789.68 1922.68L795.6 1922.42Z" fill="#0000ff" stroke="#0000ff" stroke-width="0.8" stroke-linejoin="miter"/><path d="M808.7 1898.46L810.77 1904L816.69 1904.26L812.06 1907.95L813.64 1913.65L808.7 1910.39L803.76 1913.65L805.34 1907.95L800.71 1904.26L806.63 1904Z" fill="#0000ff" stroke="#0000ff" stroke-width="0.8" stroke-linejoin="miter"/><path d="M819.73 1880.31L821.8 1885.85L827.72 1886.11L823.08 1889.8L824.66 1895.5L819.73 1892.24L814.79 1895.5L816.37 1889.8L811.74 1886.11L817.65 1885.85Z" fill="#0000ff" stroke="#0000ff" stroke-width="0.8" stroke-linejoin="miter"/><path d="M830.75 1862.81L832.83 1868.35L838.74 1868.61L834.11 1872.3L835.69 1878L830.75 1874.74L825.82 1878L827.4 1872.3L822.76 1868.61L828.68 1868.35Z" fill="#0000ff" stroke="#0000ff" stroke-width="0.8" stroke-linejoin="miter"/><path d="M841.78 1844.58L843.85 1850.13L849.77 1850.39L845.14 1854.07L846.72 1859.78L841.78 1856.51L836.84 1859.78L838.43 1854.07L833.79 1850.39L839.71 1850.13Z" fill="#0000ff" stroke="#0000ff" stroke-width="0.8" stroke-linejoin="miter"/><path d="M852.81 1826.3L854.88 1831.84L860.8 1832.1L856.16 1835.79L857.75 1841.49L852.81 1838.22L847.87 1841.49L849.45 1835.79L844.82 1832.1L850.73 1831.84Z" fill="#0000ff" stroke="#0000ff" stroke-width="0.8" stroke-linejoin="miter"/><path d="M863.83 1808.05L865.91 1813.59L871.82 1813.85L867.19 1817.54L868.77 1823.24L863.83 1819.98L858.9 1823.24L860.48 1817.54L855.85 1813.85L861.76 1813.59Z" fill="#0000ff" stroke="#0000ff" stroke-width="0.8" stroke-linejoin="miter"/><path d="M874.86 1790.52L876.94 1796.06L882.85 1796.32L878.22 1800.01L879.8 1805.71L874.86 1802.44L869.92 1805.71L871.51 1800.01L866.87 1796.32L872.79 1796.06Z" fill="#0000ff" stroke="#0000ff" stroke-width="0.8" stroke-linejoin="miter"/><path d="M885.89 1772.4L887.96 1777.94L893.88 1778.2L889.24 1781.89L890.83 1787.59L885.89 1784.32L880.95 1787.59L882.53 1781.89L877.9 1778.2L883.81 1777.94Z" fill="#0000ff" stroke="#0000ff" stroke-width="0.8" stroke-linejoin="miter"/><path d="M896.92 1754.86L898.99 1760.41L904.9 1760.67L900.27 1764.35L901.85 1770.06L896.92 1766.79L891.98 1770.06L893.56 1764.35L888.93 1760.67L894.84 1760.41Z" fill="#0000ff" stroke="#0000ff" stroke-width="0.8" stroke-linejoin="miter"/><path d="M907.94 1735.93L910.02 1741.48L915.93 1741.74L911.3 1745.42L912.88 1751.13L907.94 1747.86L903.01 1751.13L904.59 1745.42L899.95 1741.74L905.87 1741.48Z" fill="#0000ff" stroke="#0000ff" stroke-width="0.8" stroke-linejoin="miter"/><path d="M918.97 1716.16L921.04 1721.7L926.96 1721.96L922.32 1725.65L923.91 1731.35L918.97 1728.08L914.03 1731.35L915.61 1725.65L910.98 1721.96L916.9 1721.7Z" fill="#0000ff" stroke="#0000ff" stroke-width="0.8" stroke-linejoin="miter"/><path d="M930 1697.4L932.07 1702.95L937.99 1703.21L933.35 1706.89L934.93 1712.6L930 1709.33L925.06 1712.6L926.64 1706.89L922.01 1703.21L927.92 1702.95Z" fill="#0000ff" stroke="#0000ff" stroke-width="0.8" stroke-linejoin="miter"/></g><rect x="110" y="19" width="813" height="603" fill="none" stroke="#000" stroke-width="2.3"/><rect x="110.3" y="812.7" width="817.9" height="607.3" fill="none" stroke="#000" stroke-width="2.3"/><rect x="110.5" y="1621.3" width="818.7" height="605.4" fill="none" stroke="#000" stroke-width="2.3"/><g style="font-family:'Liberation Serif',serif" fill="#000"><rect x="142.5" y="45.4" width="459.9" height="251" fill="#fff" stroke="#222" stroke-width="1.3"/><path d="M178.9 60.9L187.4 75.9L170.4 75.9Z" fill="#fff" stroke="#008080" stroke-width="1.3" stroke-linejoin="miter"/><rect x="172.4" y="105.7" width="13" height="13" fill="#fff" stroke="#ff0000" stroke-width="1.3"/><path d="M178.9 145.78L180.92 151.2L186.7 151.45L182.18 155.05L183.72 160.62L178.9 157.43L174.08 160.62L175.62 155.05L171.1 151.45L176.88 151.2Z" fill="#fff" stroke="#0000ff" stroke-width="1.3" stroke-linejoin="miter"/><path d="M150.7 196H207.8" stroke="#008080" stroke-width="1.4"/><path d="M178.9 186L187.4 201L170.4 201Z" fill="#008080" stroke="#008080" stroke-width="0.8" stroke-linejoin="miter"/><path d="M150.7 237.3H207.8" stroke="#ff0000" stroke-width="1.1"/><rect x="172.4" y="230.8" width="13" height="13" fill="#ff0000" stroke="#ff0000" stroke-width="0.5"/><path d="M150.7 279.1H207.8" stroke="#0000ff" stroke-width="1.1"/><path d="M178.9 271.5L180.97 277.05L186.89 277.31L182.26 280.99L183.84 286.7L178.9 283.43L173.96 286.7L175.54 280.99L170.91 277.31L176.83 277.05Z" fill="#0000ff" stroke="#0000ff" stroke-width="0.8" stroke-linejoin="miter"/><text x="213.6" y="80.4" style="font-size:34px">Pressure: <tspan style="font-style:italic">d</tspan><tspan style="font-size:21px">f</tspan><tspan dx="3.5">=</tspan>1.65</text><text x="215.4" y="122.1" style="font-size:34px">Pressure: <tspan style="font-style:italic">d</tspan><tspan style="font-size:21px">f</tspan><tspan dx="3.5">=</tspan>1.85</text><text x="215.4" y="163.2" style="font-size:34px">Pressure: <tspan style="font-style:italic">d</tspan><tspan style="font-size:21px">f</tspan><tspan dx="3.5">=</tspan>2</text><text x="215.4" y="204.8" style="font-size:34px">Pressure derivative: <tspan style="font-style:italic">d</tspan><tspan style="font-size:21px">f</tspan><tspan dx="3.5">=</tspan>1.65</text><text x="215.4" y="246.5" style="font-size:34px">Pressure derivative: <tspan style="font-style:italic">d</tspan><tspan style="font-size:21px">f</tspan><tspan dx="3.5">=</tspan>1.85</text><text x="215.4" y="288.2" style="font-size:34px">Pressure derivative: <tspan style="font-style:italic">d</tspan><tspan style="font-size:21px">f</tspan><tspan dx="3.5">=</tspan>2</text><rect x="121.3" y="833.8" width="463.8" height="258.3" fill="#fff" stroke="#222" stroke-width="1.3"/><path d="M152.3 846.5L160.8 861.5L143.8 861.5Z" fill="#fff" stroke="#008080" stroke-width="1.3" stroke-linejoin="miter"/><rect x="145.8" y="893.5" width="13" height="13" fill="#fff" stroke="#ff0000" stroke-width="1.3"/><path d="M152.3 935.88L154.32 941.3L160.1 941.55L155.58 945.15L157.12 950.72L152.3 947.53L147.48 950.72L149.02 945.15L144.5 941.55L150.28 941.3Z" fill="#fff" stroke="#0000ff" stroke-width="1.3" stroke-linejoin="miter"/><path d="M123.6 987.3H180.9" stroke="#008080" stroke-width="1.4"/><path d="M152.3 977.3L160.8 992.3L143.8 992.3Z" fill="#008080" stroke="#008080" stroke-width="0.8" stroke-linejoin="miter"/><path d="M123.6 1031.1H180.9" stroke="#ff0000" stroke-width="1.1"/><rect x="145.8" y="1024.6" width="13" height="13" fill="#ff0000" stroke="#ff0000" stroke-width="0.5"/><path d="M123.6 1074.8H180.9" stroke="#0000ff" stroke-width="1.1"/><path d="M152.3 1067.2L154.37 1072.75L160.29 1073.01L155.66 1076.69L157.24 1082.4L152.3 1079.13L147.36 1082.4L148.94 1076.69L144.31 1073.01L150.23 1072.75Z" fill="#0000ff" stroke="#0000ff" stroke-width="0.8" stroke-linejoin="miter"/><text x="189.2" y="866.1" style="font-size:34px">Pressure: <tspan dx="2.5" style="font-style:italic">&#952;</tspan><tspan dx="4.5">=</tspan>0.25</text><text x="189.8" y="909.4" style="font-size:34px">Pressure: <tspan dx="2.5" style="font-style:italic">&#952;</tspan><tspan dx="4.5">=</tspan>0</text><text x="189.2" y="952.8" style="font-size:34px">Pressure: <tspan dx="2.5" style="font-style:italic">&#952;</tspan><tspan dx="4.5">=</tspan>-0.25</text><text x="189.2" y="996.8" style="font-size:34px">Pressure derivative: <tspan dx="2.5" style="font-style:italic">&#952;</tspan><tspan dx="4.5">=</tspan>0.25</text><text x="189.2" y="1040.4" style="font-size:34px">Pressure derivative: <tspan dx="2.5" style="font-style:italic">&#952;</tspan><tspan dx="4.5">=</tspan>0</text><text x="189.2" y="1084" style="font-size:34px">Pressure derivative: <tspan dx="2.5" style="font-style:italic">&#952;</tspan><tspan dx="4.5">=</tspan>-0.25</text><rect x="130.3" y="1645.7" width="475.8" height="254.6" fill="#fff" stroke="#222" stroke-width="1.3"/><path d="M161.4 1657.8L169.9 1672.8L152.9 1672.8Z" fill="#fff" stroke="#008080" stroke-width="1.3" stroke-linejoin="miter"/><rect x="154.9" y="1703.3" width="13" height="13" fill="#fff" stroke="#ff0000" stroke-width="1.3"/><path d="M161.4 1744.88L163.42 1750.3L169.2 1750.55L164.68 1754.15L166.22 1759.72L161.4 1756.53L156.58 1759.72L158.12 1754.15L153.6 1750.55L159.38 1750.3Z" fill="#fff" stroke="#0000ff" stroke-width="1.3" stroke-linejoin="miter"/><path d="M132.6 1796H190" stroke="#008080" stroke-width="1.4"/><path d="M161.4 1786L169.9 1801L152.9 1801Z" fill="#008080" stroke="#008080" stroke-width="0.8" stroke-linejoin="miter"/><path d="M132.6 1839H190" stroke="#ff0000" stroke-width="1.1"/><rect x="154.9" y="1832.5" width="13" height="13" fill="#ff0000" stroke="#ff0000" stroke-width="0.5"/><path d="M132.6 1882.6H190" stroke="#0000ff" stroke-width="1.1"/><path d="M161.4 1875L163.47 1880.55L169.39 1880.81L164.76 1884.49L166.34 1890.2L161.4 1886.93L156.46 1890.2L158.04 1884.49L153.41 1880.81L159.33 1880.55Z" fill="#0000ff" stroke="#0000ff" stroke-width="0.8" stroke-linejoin="miter"/><text x="199.2" y="1676.7" style="font-size:34px">Pressure: <tspan style="font-style:italic">r</tspan><tspan style="font-size:21px">c</tspan><tspan dx="6">=</tspan>100m</text><text x="196" y="1719" style="font-size:34px">Pressure: <tspan style="font-style:italic">r</tspan><tspan style="font-size:21px">c</tspan><tspan dx="6">=</tspan>200m</text><text x="199.2" y="1761.9" style="font-size:34px">Pressure: <tspan style="font-style:italic">r</tspan><tspan style="font-size:21px">c</tspan><tspan dx="6">=</tspan>300m</text><text x="199.2" y="1805.5" style="font-size:34px">Pressure derivative: <tspan style="font-style:italic">r</tspan><tspan style="font-size:21px">c</tspan><tspan dx="6">=</tspan>100m</text><text x="199.2" y="1848.5" style="font-size:34px">Pressure derivative: <tspan style="font-style:italic">r</tspan><tspan style="font-size:21px">c</tspan><tspan dx="6">=</tspan>200m</text><text x="199.2" y="1892" style="font-size:34px">Pressure derivative: <tspan style="font-style:italic">r</tspan><tspan style="font-size:21px">c</tspan><tspan dx="6">=</tspan>300m</text></g><g style="font-family:'Liberation Serif',serif" fill="#000"><text transform="translate(89.35 665.7) scale(1 1.03)" style="font-size:33.5px">10<tspan dx="-1" dy="-17.5" style="font-size:20px">0</tspan></text><text transform="translate(179.68 665.7) scale(1 1.03)" style="font-size:33.5px">10<tspan dx="-1" dy="-17.5" style="font-size:20px">1</tspan></text><text transform="translate(270.02 665.7) scale(1 1.03)" style="font-size:33.5px">10<tspan dx="-1" dy="-17.5" style="font-size:20px">2</tspan></text><text transform="translate(360.35 665.7) scale(1 1.03)" style="font-size:33.5px">10<tspan dx="-1" dy="-17.5" style="font-size:20px">3</tspan></text><text transform="translate(450.68 665.7) scale(1 1.03)" style="font-size:33.5px">10<tspan dx="-1" dy="-17.5" style="font-size:20px">4</tspan></text><text transform="translate(541.02 665.7) scale(1 1.03)" style="font-size:33.5px">10<tspan dx="-1" dy="-17.5" style="font-size:20px">5</tspan></text><text transform="translate(631.35 665.7) scale(1 1.03)" style="font-size:33.5px">10<tspan dx="-1" dy="-17.5" style="font-size:20px">6</tspan></text><text transform="translate(721.68 665.7) scale(1 1.03)" style="font-size:33.5px">10<tspan dx="-1" dy="-17.5" style="font-size:20px">7</tspan></text><text transform="translate(812.02 665.7) scale(1 1.03)" style="font-size:33.5px">10<tspan dx="-1" dy="-17.5" style="font-size:20px">8</tspan></text><text transform="translate(902.35 665.7) scale(1 1.03)" style="font-size:33.5px">10<tspan dx="-1" dy="-17.5" style="font-size:20px">9</tspan></text><text transform="translate(55.3 30.9) scale(1 1.03)" style="font-size:33.5px">10<tspan dx="-1" dy="-17.5" style="font-size:20px">4</tspan></text><text transform="translate(55.3 151.5) scale(1 1.03)" style="font-size:33.5px">10<tspan dx="-1" dy="-17.5" style="font-size:20px">3</tspan></text><text transform="translate(55.3 272.1) scale(1 1.03)" style="font-size:33.5px">10<tspan dx="-1" dy="-17.5" style="font-size:20px">2</tspan></text><text transform="translate(55.3 392.7) scale(1 1.03)" style="font-size:33.5px">10<tspan dx="-1" dy="-17.5" style="font-size:20px">1</tspan></text><text transform="translate(55.3 513.3) scale(1 1.03)" style="font-size:33.5px">10<tspan dx="-1" dy="-17.5" style="font-size:20px">0</tspan></text><text transform="translate(50.14 633.9) scale(1 1.03)" style="font-size:33.5px">10<tspan dx="-1" dy="-17.5" style="font-size:20px">-</tspan><tspan dx="-1.5" style="font-size:20px">1</tspan></text><text transform="translate(89.65 1463.7) scale(1 1.03)" style="font-size:33.5px">10<tspan dx="-1" dy="-17.5" style="font-size:20px">0</tspan></text><text transform="translate(180.53 1463.7) scale(1 1.03)" style="font-size:33.5px">10<tspan dx="-1" dy="-17.5" style="font-size:20px">1</tspan></text><text transform="translate(271.41 1463.7) scale(1 1.03)" style="font-size:33.5px">10<tspan dx="-1" dy="-17.5" style="font-size:20px">2</tspan></text><text transform="translate(362.28 1463.7) scale(1 1.03)" style="font-size:33.5px">10<tspan dx="-1" dy="-17.5" style="font-size:20px">3</tspan></text><text transform="translate(453.16 1463.7) scale(1 1.03)" style="font-size:33.5px">10<tspan dx="-1" dy="-17.5" style="font-size:20px">4</tspan></text><text transform="translate(544.04 1463.7) scale(1 1.03)" style="font-size:33.5px">10<tspan dx="-1" dy="-17.5" style="font-size:20px">5</tspan></text><text transform="translate(634.92 1463.7) scale(1 1.03)" style="font-size:33.5px">10<tspan dx="-1" dy="-17.5" style="font-size:20px">6</tspan></text><text transform="translate(725.79 1463.7) scale(1 1.03)" style="font-size:33.5px">10<tspan dx="-1" dy="-17.5" style="font-size:20px">7</tspan></text><text transform="translate(816.67 1463.7) scale(1 1.03)" style="font-size:33.5px">10<tspan dx="-1" dy="-17.5" style="font-size:20px">8</tspan></text><text transform="translate(907.55 1463.7) scale(1 1.03)" style="font-size:33.5px">10<tspan dx="-1" dy="-17.5" style="font-size:20px">9</tspan></text><text transform="translate(55.3 907.88) scale(1 1.03)" style="font-size:33.5px">10<tspan dx="-1" dy="-17.5" style="font-size:20px">3</tspan></text><text transform="translate(55.3 1027.03) scale(1 1.03)" style="font-size:33.5px">10<tspan dx="-1" dy="-17.5" style="font-size:20px">2</tspan></text><text transform="translate(55.3 1146.18) scale(1 1.03)" style="font-size:33.5px">10<tspan dx="-1" dy="-17.5" style="font-size:20px">1</tspan></text><text transform="translate(55.3 1265.33) scale(1 1.03)" style="font-size:33.5px">10<tspan dx="-1" dy="-17.5" style="font-size:20px">0</tspan></text><text transform="translate(50.14 1384.49) scale(1 1.03)" style="font-size:33.5px">10<tspan dx="-1" dy="-17.5" style="font-size:20px">-</tspan><tspan dx="-1.5" style="font-size:20px">1</tspan></text><text transform="translate(89.85 2270.4) scale(1 1.03)" style="font-size:33.5px">10<tspan dx="-1" dy="-17.5" style="font-size:20px">0</tspan></text><text transform="translate(180.82 2270.4) scale(1 1.03)" style="font-size:33.5px">10<tspan dx="-1" dy="-17.5" style="font-size:20px">1</tspan></text><text transform="translate(271.78 2270.4) scale(1 1.03)" style="font-size:33.5px">10<tspan dx="-1" dy="-17.5" style="font-size:20px">2</tspan></text><text transform="translate(362.75 2270.4) scale(1 1.03)" style="font-size:33.5px">10<tspan dx="-1" dy="-17.5" style="font-size:20px">3</tspan></text><text transform="translate(453.72 2270.4) scale(1 1.03)" style="font-size:33.5px">10<tspan dx="-1" dy="-17.5" style="font-size:20px">4</tspan></text><text transform="translate(544.68 2270.4) scale(1 1.03)" style="font-size:33.5px">10<tspan dx="-1" dy="-17.5" style="font-size:20px">5</tspan></text><text transform="translate(635.65 2270.4) scale(1 1.03)" style="font-size:33.5px">10<tspan dx="-1" dy="-17.5" style="font-size:20px">6</tspan></text><text transform="translate(726.62 2270.4) scale(1 1.03)" style="font-size:33.5px">10<tspan dx="-1" dy="-17.5" style="font-size:20px">7</tspan></text><text transform="translate(817.58 2270.4) scale(1 1.03)" style="font-size:33.5px">10<tspan dx="-1" dy="-17.5" style="font-size:20px">8</tspan></text><text transform="translate(908.55 2270.4) scale(1 1.03)" style="font-size:33.5px">10<tspan dx="-1" dy="-17.5" style="font-size:20px">9</tspan></text><text transform="translate(55.3 1633.2) scale(1 1.03)" style="font-size:33.5px">10<tspan dx="-1" dy="-17.5" style="font-size:20px">3</tspan></text><text transform="translate(55.3 1784.55) scale(1 1.03)" style="font-size:33.5px">10<tspan dx="-1" dy="-17.5" style="font-size:20px">2</tspan></text><text transform="translate(55.3 1935.9) scale(1 1.03)" style="font-size:33.5px">10<tspan dx="-1" dy="-17.5" style="font-size:20px">1</tspan></text><text transform="translate(55.3 2087.25) scale(1 1.03)" style="font-size:33.5px">10<tspan dx="-1" dy="-17.5" style="font-size:20px">0</tspan></text><text transform="translate(50.14 2238.6) scale(1 1.03)" style="font-size:33.5px">10<tspan dx="-1" dy="-17.5" style="font-size:20px">-</tspan><tspan dx="-1.5" style="font-size:20px">1</tspan></text><text x="481.07" y="723.4" style="font-size:34px"><tspan style="font-style:italic">t</tspan><tspan dy="11.5" style="font-size:20px">D</tspan><tspan dy="-11.5">/</tspan><tspan style="font-style:italic">C</tspan><tspan dy="11.5" style="font-size:20px">D</tspan></text><text x="483.77" y="1521.7" style="font-size:34px"><tspan style="font-style:italic">t</tspan><tspan dy="11.5" style="font-size:20px">D</tspan><tspan dy="-11.5">/</tspan><tspan style="font-style:italic">C</tspan><tspan dy="11.5" style="font-size:20px">D</tspan></text><text x="484.37" y="2328" style="font-size:34px"><tspan style="font-style:italic">t</tspan><tspan dy="11.5" style="font-size:20px">D</tspan><tspan dy="-11.5">/</tspan><tspan style="font-style:italic">C</tspan><tspan dy="11.5" style="font-size:20px">D</tspan></text><text transform="translate(24.4 664.42) rotate(-90) scale(0.994,1)" style="font-size:34px">Dimensionless pressure &amp; derivative P<tspan dy="11.5" style="font-size:22px">wD</tspan><tspan dy="-11.5">, dP</tspan><tspan dy="11.5" style="font-size:22px">wD</tspan></text><text transform="translate(24.4 1462.82) rotate(-90) scale(1.0,1)" style="font-size:34px">Dimensionless pressure &amp; derivative P<tspan dy="11.5" style="font-size:22px">wD</tspan><tspan dy="-11.5">, dP</tspan><tspan dy="11.5" style="font-size:22px">wD</tspan></text><text transform="translate(24.4 2263.52) rotate(-90) scale(1.0,1)" style="font-size:34px">Dimensionless pressure &amp; derivative P<tspan dy="11.5" style="font-size:22px">wD</tspan><tspan dy="-11.5">, dP</tspan><tspan dy="11.5" style="font-size:22px">wD</tspan></text><text x="793.11" y="95.6" style="font-size:46.5px">(a)</text><text x="797.28" y="896.3" style="font-size:47px">(b)</text><text x="798.09" y="1701.7" style="font-size:47px">(c)</text><text x="719.73" y="555.8" style="font-size:34px"><tspan style="font-style:italic">C</tspan><tspan dy="12.6" style="font-size:20px">D</tspan><tspan dy="-12.6">=120;</tspan><tspan dx="6.5" style="font-style:italic">S</tspan><tspan dx="7">=0</tspan></text><text x="704.33" y="1366.6" style="font-size:34px"><tspan style="font-style:italic">C</tspan><tspan dy="12.6" style="font-size:20px">D</tspan><tspan dy="-12.6">=120;</tspan><tspan dx="6.5" style="font-style:italic">S</tspan><tspan dx="7">=0</tspan></text><text x="722.43" y="2194.3" style="font-size:34px"><tspan style="font-style:italic">C</tspan><tspan dy="12.6" style="font-size:20px">D</tspan><tspan dy="-12.6">=120;</tspan><tspan dx="6.5" style="font-style:italic">S</tspan><tspan dx="7">=0</tspan></text></g></svg></body></html>
